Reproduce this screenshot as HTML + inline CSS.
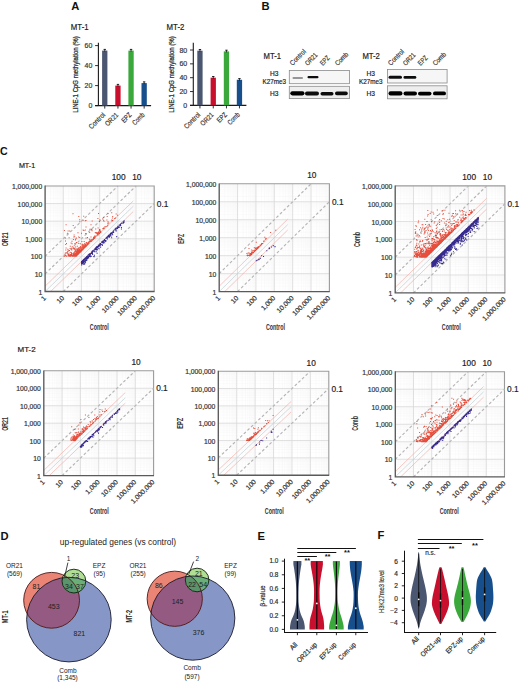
<!DOCTYPE html>
<html><head><meta charset="utf-8"><style>
html,body{margin:0;padding:0;background:#fff;width:520px;height:682px;overflow:hidden}
svg{display:block}
text{font-family:"Liberation Sans", sans-serif}
</style></head><body>
<svg width="520" height="682" viewBox="0 0 520 682">
<defs><filter id="blur" x="-20%" y="-100%" width="140%" height="300%"><feGaussianBlur stdDeviation="0.5"/></filter></defs>
<text x="71.30" y="10.20" font-size="11.2" text-anchor="start" fill="#111" font-weight="bold">A</text>
<text x="261.40" y="10.20" font-size="11.2" text-anchor="start" fill="#111" font-weight="bold">B</text>
<text x="0.00" y="154.90" font-size="10.6" text-anchor="start" fill="#111" font-weight="bold">C</text>
<text x="0.60" y="539.60" font-size="11.2" text-anchor="start" fill="#111" font-weight="bold">D</text>
<text x="257.40" y="539.60" font-size="11.2" text-anchor="start" fill="#111" font-weight="bold">E</text>
<text x="377.60" y="539.10" font-size="11.2" text-anchor="start" fill="#111" font-weight="bold">F</text>
<text x="70.80" y="30.20" font-size="8.3" text-anchor="start" fill="#1a1a1a" textLength="17.80" lengthAdjust="spacingAndGlyphs" stroke="#1a1a1a" stroke-width="0.18">MT-1</text>
<text x="78.20" y="112.80" font-size="7.0" text-anchor="start" fill="#2a2a2a" textLength="76.50" lengthAdjust="spacingAndGlyphs" transform="rotate(-90 78.20 112.80)" stroke="#2a2a2a" stroke-width="0.25">LINE-1 CpG methylation (%)</text>
<line x1="98.40" y1="42.80" x2="98.40" y2="106.10" stroke="#1a1a1a" stroke-width="1.1"/>
<line x1="95.10" y1="105.60" x2="151.10" y2="105.60" stroke="#1a1a1a" stroke-width="1.1"/>
<line x1="95.10" y1="105.60" x2="98.40" y2="105.60" stroke="#1a1a1a" stroke-width="0.9"/>
<text x="92.30" y="108.10" font-size="7.0" text-anchor="end" fill="#333" stroke="#333" stroke-width="0.18">0</text>
<line x1="95.10" y1="85.60" x2="98.40" y2="85.60" stroke="#1a1a1a" stroke-width="0.9"/>
<text x="92.30" y="88.10" font-size="7.0" text-anchor="end" fill="#333" stroke="#333" stroke-width="0.18">20</text>
<line x1="95.10" y1="65.60" x2="98.40" y2="65.60" stroke="#1a1a1a" stroke-width="0.9"/>
<text x="92.30" y="68.10" font-size="7.0" text-anchor="end" fill="#333" stroke="#333" stroke-width="0.18">40</text>
<line x1="95.10" y1="45.60" x2="98.40" y2="45.60" stroke="#1a1a1a" stroke-width="0.9"/>
<text x="92.30" y="48.10" font-size="7.0" text-anchor="end" fill="#333" stroke="#333" stroke-width="0.18">60</text>
<rect x="102.10" y="50.60" width="5.30" height="55.00" fill="#4b5670"/>
<line x1="104.75" y1="49.20" x2="104.75" y2="51.60" stroke="#111" stroke-width="0.8"/>
<line x1="103.55" y1="49.40" x2="105.95" y2="49.40" stroke="#111" stroke-width="0.9"/>
<line x1="104.75" y1="105.60" x2="104.75" y2="108.60" stroke="#1a1a1a" stroke-width="0.9"/>
<rect x="115.30" y="85.60" width="5.30" height="20.00" fill="#c80f2e"/>
<line x1="117.95" y1="84.20" x2="117.95" y2="86.60" stroke="#111" stroke-width="0.8"/>
<line x1="116.75" y1="84.40" x2="119.15" y2="84.40" stroke="#111" stroke-width="0.9"/>
<line x1="117.95" y1="105.60" x2="117.95" y2="108.60" stroke="#1a1a1a" stroke-width="0.9"/>
<rect x="128.40" y="50.60" width="5.30" height="55.00" fill="#3aa83a"/>
<line x1="131.05" y1="49.20" x2="131.05" y2="51.60" stroke="#111" stroke-width="0.8"/>
<line x1="129.85" y1="49.40" x2="132.25" y2="49.40" stroke="#111" stroke-width="0.9"/>
<line x1="131.05" y1="105.60" x2="131.05" y2="108.60" stroke="#1a1a1a" stroke-width="0.9"/>
<rect x="141.50" y="83.10" width="5.30" height="22.50" fill="#174f8c"/>
<line x1="144.15" y1="81.70" x2="144.15" y2="84.10" stroke="#111" stroke-width="0.8"/>
<line x1="142.95" y1="81.90" x2="145.35" y2="81.90" stroke="#111" stroke-width="0.9"/>
<line x1="144.15" y1="105.60" x2="144.15" y2="108.60" stroke="#1a1a1a" stroke-width="0.9"/>
<text x="105.65" y="115.40" font-size="7.0" text-anchor="end" fill="#333" textLength="20.00" lengthAdjust="spacingAndGlyphs" transform="rotate(-45 105.65 115.40)" stroke="#333" stroke-width="0.18">Control</text>
<text x="118.85" y="115.40" font-size="7.0" text-anchor="end" fill="#333" textLength="15.60" lengthAdjust="spacingAndGlyphs" transform="rotate(-45 118.85 115.40)" stroke="#333" stroke-width="0.18">OR21</text>
<text x="131.95" y="115.40" font-size="7.0" text-anchor="end" fill="#333" textLength="11.00" lengthAdjust="spacingAndGlyphs" transform="rotate(-45 131.95 115.40)" stroke="#333" stroke-width="0.18">EPZ</text>
<text x="145.05" y="115.40" font-size="7.0" text-anchor="end" fill="#333" textLength="14.20" lengthAdjust="spacingAndGlyphs" transform="rotate(-45 145.05 115.40)" stroke="#333" stroke-width="0.18">Comb</text>
<text x="166.60" y="30.20" font-size="8.3" text-anchor="start" fill="#1a1a1a" textLength="17.80" lengthAdjust="spacingAndGlyphs" stroke="#1a1a1a" stroke-width="0.18">MT-2</text>
<text x="174.20" y="112.80" font-size="7.0" text-anchor="start" fill="#2a2a2a" textLength="76.50" lengthAdjust="spacingAndGlyphs" transform="rotate(-90 174.20 112.80)" stroke="#2a2a2a" stroke-width="0.25">LINE-1 CpG methylation (%)</text>
<line x1="193.30" y1="42.80" x2="193.30" y2="105.90" stroke="#1a1a1a" stroke-width="1.1"/>
<line x1="190.00" y1="105.40" x2="246.40" y2="105.40" stroke="#1a1a1a" stroke-width="1.1"/>
<line x1="190.00" y1="105.40" x2="193.30" y2="105.40" stroke="#1a1a1a" stroke-width="0.9"/>
<text x="187.20" y="107.90" font-size="7.0" text-anchor="end" fill="#333" stroke="#333" stroke-width="0.18">0</text>
<line x1="190.00" y1="91.55" x2="193.30" y2="91.55" stroke="#1a1a1a" stroke-width="0.9"/>
<text x="187.20" y="94.05" font-size="7.0" text-anchor="end" fill="#333" stroke="#333" stroke-width="0.18">20</text>
<line x1="190.00" y1="77.70" x2="193.30" y2="77.70" stroke="#1a1a1a" stroke-width="0.9"/>
<text x="187.20" y="80.20" font-size="7.0" text-anchor="end" fill="#333" stroke="#333" stroke-width="0.18">40</text>
<line x1="190.00" y1="63.85" x2="193.30" y2="63.85" stroke="#1a1a1a" stroke-width="0.9"/>
<text x="187.20" y="66.35" font-size="7.0" text-anchor="end" fill="#333" stroke="#333" stroke-width="0.18">60</text>
<line x1="190.00" y1="50.00" x2="193.30" y2="50.00" stroke="#1a1a1a" stroke-width="0.9"/>
<text x="187.20" y="52.50" font-size="7.0" text-anchor="end" fill="#333" stroke="#333" stroke-width="0.18">80</text>
<rect x="197.30" y="50.69" width="5.30" height="54.71" fill="#4b5670"/>
<line x1="199.95" y1="49.29" x2="199.95" y2="51.69" stroke="#111" stroke-width="0.8"/>
<line x1="198.75" y1="49.49" x2="201.15" y2="49.49" stroke="#111" stroke-width="0.9"/>
<line x1="199.95" y1="105.40" x2="199.95" y2="108.40" stroke="#1a1a1a" stroke-width="0.9"/>
<rect x="210.60" y="77.70" width="5.30" height="27.70" fill="#c80f2e"/>
<line x1="213.25" y1="76.30" x2="213.25" y2="78.70" stroke="#111" stroke-width="0.8"/>
<line x1="212.05" y1="76.50" x2="214.45" y2="76.50" stroke="#111" stroke-width="0.9"/>
<line x1="213.25" y1="105.40" x2="213.25" y2="108.40" stroke="#1a1a1a" stroke-width="0.9"/>
<rect x="223.80" y="51.39" width="5.30" height="54.02" fill="#3aa83a"/>
<line x1="226.45" y1="49.99" x2="226.45" y2="52.39" stroke="#111" stroke-width="0.8"/>
<line x1="225.25" y1="50.19" x2="227.65" y2="50.19" stroke="#111" stroke-width="0.9"/>
<line x1="226.45" y1="105.40" x2="226.45" y2="108.40" stroke="#1a1a1a" stroke-width="0.9"/>
<rect x="236.80" y="79.78" width="5.30" height="25.62" fill="#174f8c"/>
<line x1="239.45" y1="78.38" x2="239.45" y2="80.78" stroke="#111" stroke-width="0.8"/>
<line x1="238.25" y1="78.58" x2="240.65" y2="78.58" stroke="#111" stroke-width="0.9"/>
<line x1="239.45" y1="105.40" x2="239.45" y2="108.40" stroke="#1a1a1a" stroke-width="0.9"/>
<text x="200.85" y="115.20" font-size="7.0" text-anchor="end" fill="#333" textLength="20.00" lengthAdjust="spacingAndGlyphs" transform="rotate(-45 200.85 115.20)" stroke="#333" stroke-width="0.18">Control</text>
<text x="214.15" y="115.20" font-size="7.0" text-anchor="end" fill="#333" textLength="15.60" lengthAdjust="spacingAndGlyphs" transform="rotate(-45 214.15 115.20)" stroke="#333" stroke-width="0.18">OR21</text>
<text x="227.35" y="115.20" font-size="7.0" text-anchor="end" fill="#333" textLength="11.00" lengthAdjust="spacingAndGlyphs" transform="rotate(-45 227.35 115.20)" stroke="#333" stroke-width="0.18">EPZ</text>
<text x="240.35" y="115.20" font-size="7.0" text-anchor="end" fill="#333" textLength="14.20" lengthAdjust="spacingAndGlyphs" transform="rotate(-45 240.35 115.20)" stroke="#333" stroke-width="0.18">Comb</text>
<text x="263.50" y="58.90" font-size="8.4" text-anchor="start" fill="#222" textLength="17.50" lengthAdjust="spacingAndGlyphs" stroke="#222" stroke-width="0.18">MT-1</text>
<text x="292.60" y="65.90" font-size="7.0" text-anchor="start" fill="#333" textLength="19.50" lengthAdjust="spacingAndGlyphs" transform="rotate(-45 292.60 65.90)" stroke="#333" stroke-width="0.18">Control</text>
<text x="307.65" y="65.90" font-size="7.0" text-anchor="start" fill="#333" textLength="14.60" lengthAdjust="spacingAndGlyphs" transform="rotate(-45 307.65 65.90)" stroke="#333" stroke-width="0.18">OR21</text>
<text x="322.70" y="65.90" font-size="7.0" text-anchor="start" fill="#333" textLength="10.60" lengthAdjust="spacingAndGlyphs" transform="rotate(-45 322.70 65.90)" stroke="#333" stroke-width="0.18">EPZ</text>
<text x="337.75" y="65.90" font-size="7.0" text-anchor="start" fill="#333" textLength="15.50" lengthAdjust="spacingAndGlyphs" transform="rotate(-45 337.75 65.90)" stroke="#333" stroke-width="0.18">Comb</text>
<text x="274.20" y="75.90" font-size="6.6" text-anchor="middle" fill="#222" stroke="#222" stroke-width="0.18">H3</text>
<text x="274.20" y="84.20" font-size="6.6" text-anchor="middle" fill="#222" textLength="23.50" lengthAdjust="spacingAndGlyphs" stroke="#222" stroke-width="0.18">K27me3</text>
<text x="274.20" y="96.00" font-size="6.6" text-anchor="middle" fill="#222" stroke="#222" stroke-width="0.18">H3</text>
<rect x="289.30" y="70.50" width="60.20" height="13.20" fill="#f6f6f6" stroke="#8a8a8a" stroke-width="0.8"/>
<rect x="289.30" y="86.30" width="60.20" height="12.30" fill="#eeeeee" stroke="#8a8a8a" stroke-width="0.8"/>
<rect x="292.50" y="77.15" width="10.50" height="1.50" rx="0.75" fill="#111" opacity="0.55" filter="url(#blur)"/>
<rect x="307.50" y="76.05" width="11.00" height="2.30" rx="1.15" fill="#111" opacity="1.0" filter="url(#blur)"/>
<rect x="290.30" y="91.20" width="14.20" height="4.20" rx="2.10" fill="#050505" opacity="1.0" filter="url(#blur)"/>
<rect x="305.00" y="91.60" width="14.00" height="3.80" rx="1.90" fill="#050505" opacity="0.95" filter="url(#blur)"/>
<rect x="320.50" y="92.00" width="13.00" height="3.40" rx="1.70" fill="#050505" opacity="0.95" filter="url(#blur)"/>
<rect x="335.00" y="91.60" width="12.80" height="3.60" rx="1.80" fill="#050505" opacity="0.95" filter="url(#blur)"/>
<text x="362.40" y="58.90" font-size="8.4" text-anchor="start" fill="#222" textLength="17.50" lengthAdjust="spacingAndGlyphs" stroke="#222" stroke-width="0.18">MT-2</text>
<text x="390.80" y="65.90" font-size="7.0" text-anchor="start" fill="#333" textLength="19.50" lengthAdjust="spacingAndGlyphs" transform="rotate(-45 390.80 65.90)" stroke="#333" stroke-width="0.18">Control</text>
<text x="405.70" y="65.90" font-size="7.0" text-anchor="start" fill="#333" textLength="14.60" lengthAdjust="spacingAndGlyphs" transform="rotate(-45 405.70 65.90)" stroke="#333" stroke-width="0.18">OR21</text>
<text x="420.60" y="65.90" font-size="7.0" text-anchor="start" fill="#333" textLength="10.60" lengthAdjust="spacingAndGlyphs" transform="rotate(-45 420.60 65.90)" stroke="#333" stroke-width="0.18">EPZ</text>
<text x="435.50" y="65.90" font-size="7.0" text-anchor="start" fill="#333" textLength="15.50" lengthAdjust="spacingAndGlyphs" transform="rotate(-45 435.50 65.90)" stroke="#333" stroke-width="0.18">Comb</text>
<text x="370.80" y="75.90" font-size="6.6" text-anchor="middle" fill="#222" stroke="#222" stroke-width="0.18">H3</text>
<text x="370.80" y="84.20" font-size="6.6" text-anchor="middle" fill="#222" textLength="23.50" lengthAdjust="spacingAndGlyphs" stroke="#222" stroke-width="0.18">K27me3</text>
<text x="370.80" y="96.00" font-size="6.6" text-anchor="middle" fill="#222" stroke="#222" stroke-width="0.18">H3</text>
<rect x="387.50" y="69.50" width="59.60" height="13.50" fill="#f6f6f6" stroke="#8a8a8a" stroke-width="0.8"/>
<rect x="387.50" y="85.80" width="59.60" height="13.00" fill="#eeeeee" stroke="#8a8a8a" stroke-width="0.8"/>
<rect x="388.50" y="75.70" width="13.50" height="3.00" rx="1.50" fill="#111" opacity="1.0" filter="url(#blur)"/>
<rect x="403.50" y="76.10" width="12.80" height="2.60" rx="1.30" fill="#111" opacity="1.0" filter="url(#blur)"/>
<rect x="388.50" y="91.30" width="14.00" height="4.20" rx="2.10" fill="#050505" opacity="1.0" filter="url(#blur)"/>
<rect x="403.50" y="91.40" width="13.50" height="4.20" rx="2.10" fill="#050505" opacity="1.0" filter="url(#blur)"/>
<rect x="418.00" y="91.70" width="13.50" height="3.80" rx="1.90" fill="#050505" opacity="1.0" filter="url(#blur)"/>
<rect x="433.00" y="91.50" width="13.00" height="3.80" rx="1.90" fill="#050505" opacity="1.0" filter="url(#blur)"/>
<text x="18.90" y="168.00" font-size="7.8" text-anchor="start" fill="#1a1a1a" textLength="16.30" lengthAdjust="spacingAndGlyphs" stroke="#1a1a1a" stroke-width="0.18">MT-1</text>
<text x="17.50" y="352.20" font-size="8.0" text-anchor="start" fill="#1a1a1a" textLength="18.20" lengthAdjust="spacingAndGlyphs" stroke="#1a1a1a" stroke-width="0.18">MT-2</text>
<path d="M50.57 186.00V291.50M45.10 286.21H154.20M53.78 186.00V291.50M45.10 283.11H154.20M56.05 186.00V291.50M45.10 280.91H154.20M57.81 186.00V291.50M45.10 279.21H154.20M59.25 186.00V291.50M45.10 277.82H154.20M60.47 186.00V291.50M45.10 276.64H154.20M61.52 186.00V291.50M45.10 275.62H154.20M62.45 186.00V291.50M45.10 274.72H154.20M68.76 186.00V291.50M45.10 268.62H154.20M71.96 186.00V291.50M45.10 265.53H154.20M74.23 186.00V291.50M45.10 263.33H154.20M75.99 186.00V291.50M45.10 261.63H154.20M77.43 186.00V291.50M45.10 260.23H154.20M78.65 186.00V291.50M45.10 259.06H154.20M79.70 186.00V291.50M45.10 258.04H154.20M80.63 186.00V291.50M45.10 257.14H154.20M86.94 186.00V291.50M45.10 251.04H154.20M90.14 186.00V291.50M45.10 247.94H154.20M92.41 186.00V291.50M45.10 245.75H154.20M94.18 186.00V291.50M45.10 244.04H154.20M95.62 186.00V291.50M45.10 242.65H154.20M96.83 186.00V291.50M45.10 241.47H154.20M97.89 186.00V291.50M45.10 240.45H154.20M98.82 186.00V291.50M45.10 239.55H154.20M105.12 186.00V291.50M45.10 233.46H154.20M108.33 186.00V291.50M45.10 230.36H154.20M110.60 186.00V291.50M45.10 228.16H154.20M112.36 186.00V291.50M45.10 226.46H154.20M113.80 186.00V291.50M45.10 225.07H154.20M115.02 186.00V291.50M45.10 223.89H154.20M116.07 186.00V291.50M45.10 222.87H154.20M117.00 186.00V291.50M45.10 221.97H154.20M123.31 186.00V291.50M45.10 215.87H154.20M126.51 186.00V291.50M45.10 212.78H154.20M128.78 186.00V291.50M45.10 210.58H154.20M130.54 186.00V291.50M45.10 208.88H154.20M131.98 186.00V291.50M45.10 207.48H154.20M133.20 186.00V291.50M45.10 206.31H154.20M134.25 186.00V291.50M45.10 205.29H154.20M135.18 186.00V291.50M45.10 204.39H154.20M141.49 186.00V291.50M45.10 198.29H154.20M144.69 186.00V291.50M45.10 195.19H154.20M146.96 186.00V291.50M45.10 193.00H154.20M148.73 186.00V291.50M45.10 191.29H154.20M150.17 186.00V291.50M45.10 189.90H154.20M151.38 186.00V291.50M45.10 188.72H154.20M152.44 186.00V291.50M45.10 187.70H154.20M153.37 186.00V291.50M45.10 186.80H154.20" stroke="#f6f6f6" stroke-width="0.4" fill="none"/>
<path d="M63.28 186.00V291.50M45.10 273.92H154.20M81.47 186.00V291.50M45.10 256.33H154.20M99.65 186.00V291.50M45.10 238.75H154.20M117.83 186.00V291.50M45.10 221.17H154.20M136.02 186.00V291.50M45.10 203.58H154.20" stroke="#d8d8d8" stroke-width="0.8" fill="none"/>
<path d="M45.10 186.00H154.20V291.50" stroke="#9a9a9a" stroke-width="1.1" fill="none"/>
<line x1="45.10" y1="286.21" x2="133.29" y2="200.93" stroke="#f2aca4" stroke-width="0.65"/>
<line x1="50.57" y1="291.50" x2="133.29" y2="211.51" stroke="#f2aca4" stroke-width="0.65"/>
<line x1="45.10" y1="291.50" x2="133.29" y2="206.22" stroke="#b8c8cc" stroke-width="0.6"/>
<line x1="45.10" y1="256.33" x2="117.83" y2="186.00" stroke="#b4b4b4" stroke-width="1.15" stroke-dasharray="2.8 2.2"/>
<line x1="45.10" y1="273.92" x2="136.02" y2="186.00" stroke="#b4b4b4" stroke-width="1.15" stroke-dasharray="2.8 2.2"/>
<line x1="63.28" y1="291.50" x2="154.20" y2="203.58" stroke="#b4b4b4" stroke-width="1.15" stroke-dasharray="2.8 2.2"/>
<path d="M78.1 251.1h1.0v1.0h-1.0zM69.0 254.8h1.0v1.0h-1.0zM76.6 254.2h1.0v1.0h-1.0zM77.0 252.8h1.0v1.0h-1.0zM73.7 254.7h1.0v1.0h-1.0zM69.8 245.7h1.0v1.0h-1.0zM86.6 244.1h1.0v1.0h-1.0zM79.5 250.2h1.0v1.0h-1.0zM80.7 248.3h1.0v1.0h-1.0zM72.4 255.3h1.0v1.0h-1.0zM72.4 252.9h1.0v1.0h-1.0zM76.3 252.7h1.0v1.0h-1.0zM80.6 250.6h1.0v1.0h-1.0zM77.8 252.9h1.0v1.0h-1.0zM77.0 248.5h1.0v1.0h-1.0zM74.9 255.8h1.0v1.0h-1.0zM72.6 247.9h1.0v1.0h-1.0zM75.1 255.7h1.0v1.0h-1.0zM78.8 250.9h1.0v1.0h-1.0zM77.0 254.3h1.0v1.0h-1.0zM83.2 247.6h1.0v1.0h-1.0zM76.6 254.6h1.0v1.0h-1.0zM92.8 239.0h1.0v1.0h-1.0zM76.4 254.7h1.0v1.0h-1.0zM74.0 254.7h1.0v1.0h-1.0zM114.2 217.9h1.0v1.0h-1.0zM84.3 246.0h1.0v1.0h-1.0zM75.5 251.7h1.0v1.0h-1.0zM106.8 225.4h1.0v1.0h-1.0zM85.8 245.7h1.0v1.0h-1.0zM85.6 233.0h1.0v1.0h-1.0zM74.2 236.3h1.0v1.0h-1.0zM70.3 255.2h1.0v1.0h-1.0zM90.7 239.5h1.0v1.0h-1.0zM100.1 231.9h1.0v1.0h-1.0zM78.7 249.3h1.0v1.0h-1.0zM78.9 252.3h1.0v1.0h-1.0zM90.8 239.6h1.0v1.0h-1.0zM73.6 253.5h1.0v1.0h-1.0zM76.2 255.0h1.0v1.0h-1.0zM84.6 246.6h1.0v1.0h-1.0zM79.4 251.4h1.0v1.0h-1.0zM96.9 233.3h1.0v1.0h-1.0zM76.3 254.6h1.0v1.0h-1.0zM84.8 220.3h1.0v1.0h-1.0zM77.1 252.7h1.0v1.0h-1.0zM78.2 253.1h1.0v1.0h-1.0zM73.6 234.6h1.0v1.0h-1.0zM68.2 253.4h1.0v1.0h-1.0zM75.7 253.2h1.0v1.0h-1.0zM76.1 250.9h1.0v1.0h-1.0zM73.2 254.7h1.0v1.0h-1.0zM88.7 242.6h1.0v1.0h-1.0zM74.9 249.5h1.0v1.0h-1.0zM83.6 245.5h1.0v1.0h-1.0zM73.8 255.6h1.0v1.0h-1.0zM74.6 255.1h1.0v1.0h-1.0zM83.4 230.1h1.0v1.0h-1.0zM94.8 232.1h1.0v1.0h-1.0zM69.6 251.7h1.0v1.0h-1.0zM71.0 255.3h1.0v1.0h-1.0zM85.2 232.9h1.0v1.0h-1.0zM75.4 248.3h1.0v1.0h-1.0zM79.3 251.1h1.0v1.0h-1.0zM90.6 228.7h1.0v1.0h-1.0zM66.0 255.5h1.0v1.0h-1.0zM75.0 255.4h1.0v1.0h-1.0zM74.3 249.0h1.0v1.0h-1.0zM89.9 240.4h1.0v1.0h-1.0zM79.6 251.4h1.0v1.0h-1.0zM87.2 243.2h1.0v1.0h-1.0zM74.5 254.8h1.0v1.0h-1.0zM63.9 255.8h1.0v1.0h-1.0zM74.7 253.8h1.0v1.0h-1.0zM82.3 244.9h1.0v1.0h-1.0zM72.1 254.7h1.0v1.0h-1.0zM78.3 248.7h1.0v1.0h-1.0zM117.1 214.7h1.0v1.0h-1.0zM77.2 252.1h1.0v1.0h-1.0zM75.1 255.5h1.0v1.0h-1.0zM93.0 238.2h1.0v1.0h-1.0zM76.1 254.6h1.0v1.0h-1.0zM103.1 219.7h1.0v1.0h-1.0zM102.2 218.4h1.0v1.0h-1.0zM79.6 251.0h1.0v1.0h-1.0zM74.7 255.0h1.0v1.0h-1.0zM99.3 219.6h1.0v1.0h-1.0zM103.1 227.5h1.0v1.0h-1.0zM76.0 241.9h1.0v1.0h-1.0zM74.4 254.3h1.0v1.0h-1.0zM70.7 252.1h1.0v1.0h-1.0zM78.2 252.5h1.0v1.0h-1.0zM69.1 255.1h1.0v1.0h-1.0zM77.0 253.9h1.0v1.0h-1.0zM81.6 249.8h1.0v1.0h-1.0zM77.1 250.7h1.0v1.0h-1.0zM82.3 247.1h1.0v1.0h-1.0zM91.2 229.0h1.0v1.0h-1.0zM78.0 253.1h1.0v1.0h-1.0zM94.3 236.6h1.0v1.0h-1.0zM76.4 252.2h1.0v1.0h-1.0zM75.3 253.2h1.0v1.0h-1.0zM70.2 255.8h1.0v1.0h-1.0zM81.2 248.6h1.0v1.0h-1.0zM75.5 255.8h1.0v1.0h-1.0zM80.3 251.2h1.0v1.0h-1.0zM84.6 245.6h1.0v1.0h-1.0zM98.4 231.1h1.0v1.0h-1.0zM79.5 252.0h1.0v1.0h-1.0zM82.1 247.2h1.0v1.0h-1.0zM86.6 242.6h1.0v1.0h-1.0zM106.7 215.9h1.0v1.0h-1.0zM81.4 248.5h1.0v1.0h-1.0zM66.9 232.8h1.0v1.0h-1.0zM111.3 219.5h1.0v1.0h-1.0zM79.0 249.9h1.0v1.0h-1.0zM76.3 248.7h1.0v1.0h-1.0zM69.2 255.7h1.0v1.0h-1.0zM76.4 250.0h1.0v1.0h-1.0zM79.2 249.8h1.0v1.0h-1.0zM78.1 253.3h1.0v1.0h-1.0zM72.8 255.7h1.0v1.0h-1.0zM104.4 226.5h1.0v1.0h-1.0zM87.9 242.1h1.0v1.0h-1.0zM74.0 255.6h1.0v1.0h-1.0zM73.8 254.2h1.0v1.0h-1.0zM80.1 251.1h1.0v1.0h-1.0zM75.5 252.8h1.0v1.0h-1.0zM84.8 229.5h1.0v1.0h-1.0zM88.6 242.0h1.0v1.0h-1.0zM79.3 221.3h1.0v1.0h-1.0zM74.3 253.6h1.0v1.0h-1.0zM75.3 242.8h1.0v1.0h-1.0zM76.4 254.3h1.0v1.0h-1.0zM87.5 242.4h1.0v1.0h-1.0zM77.5 250.4h1.0v1.0h-1.0zM69.0 250.1h1.0v1.0h-1.0zM77.1 251.9h1.0v1.0h-1.0zM107.3 222.8h1.0v1.0h-1.0zM79.3 251.8h1.0v1.0h-1.0zM65.2 243.9h1.0v1.0h-1.0zM79.3 249.8h1.0v1.0h-1.0zM81.4 241.1h1.0v1.0h-1.0zM85.3 245.8h1.0v1.0h-1.0zM77.7 247.8h1.0v1.0h-1.0zM75.9 253.8h1.0v1.0h-1.0zM89.7 240.3h1.0v1.0h-1.0zM64.9 255.0h1.0v1.0h-1.0zM74.2 243.2h1.0v1.0h-1.0zM73.8 248.3h1.0v1.0h-1.0zM73.1 255.5h1.0v1.0h-1.0zM115.1 217.4h1.0v1.0h-1.0zM72.5 213.2h1.0v1.0h-1.0zM75.6 255.1h1.0v1.0h-1.0zM76.0 254.9h1.0v1.0h-1.0zM72.4 255.6h1.0v1.0h-1.0zM79.2 251.0h1.0v1.0h-1.0zM95.2 228.5h1.0v1.0h-1.0zM77.5 253.5h1.0v1.0h-1.0zM86.9 243.7h1.0v1.0h-1.0zM77.0 253.2h1.0v1.0h-1.0zM75.5 255.8h1.0v1.0h-1.0zM81.4 249.8h1.0v1.0h-1.0zM112.2 215.9h1.0v1.0h-1.0zM72.7 253.9h1.0v1.0h-1.0zM98.9 229.1h1.0v1.0h-1.0zM75.1 255.2h1.0v1.0h-1.0zM91.7 220.5h1.0v1.0h-1.0zM103.5 220.8h1.0v1.0h-1.0zM82.3 248.3h1.0v1.0h-1.0zM76.1 251.9h1.0v1.0h-1.0zM69.7 255.8h1.0v1.0h-1.0zM64.9 237.6h1.0v1.0h-1.0zM98.5 232.0h1.0v1.0h-1.0zM67.3 248.7h1.0v1.0h-1.0zM84.1 243.4h1.0v1.0h-1.0zM65.0 240.5h1.0v1.0h-1.0zM76.5 254.5h1.0v1.0h-1.0zM90.5 236.6h1.0v1.0h-1.0zM77.8 250.2h1.0v1.0h-1.0zM85.0 246.1h1.0v1.0h-1.0zM78.0 253.0h1.0v1.0h-1.0zM82.3 249.1h1.0v1.0h-1.0zM90.7 240.9h1.0v1.0h-1.0zM65.7 255.8h1.0v1.0h-1.0zM77.7 252.3h1.0v1.0h-1.0zM83.2 215.7h1.0v1.0h-1.0zM98.0 213.1h1.0v1.0h-1.0zM88.2 241.6h1.0v1.0h-1.0zM78.5 252.7h1.0v1.0h-1.0zM76.9 253.3h1.0v1.0h-1.0zM78.3 215.9h1.0v1.0h-1.0zM74.9 239.6h1.0v1.0h-1.0zM75.5 255.2h1.0v1.0h-1.0zM67.8 254.5h1.0v1.0h-1.0zM72.0 255.4h1.0v1.0h-1.0zM78.4 252.6h1.0v1.0h-1.0zM72.7 255.2h1.0v1.0h-1.0zM78.5 251.8h1.0v1.0h-1.0zM75.7 255.5h1.0v1.0h-1.0zM87.0 244.4h1.0v1.0h-1.0zM76.2 254.0h1.0v1.0h-1.0zM77.0 252.9h1.0v1.0h-1.0zM76.1 254.4h1.0v1.0h-1.0zM75.2 255.4h1.0v1.0h-1.0zM76.8 254.5h1.0v1.0h-1.0zM77.4 253.6h1.0v1.0h-1.0zM74.3 255.6h1.0v1.0h-1.0zM79.9 243.2h1.0v1.0h-1.0zM75.0 255.5h1.0v1.0h-1.0zM87.3 242.8h1.0v1.0h-1.0zM94.8 235.9h1.0v1.0h-1.0zM76.6 254.3h1.0v1.0h-1.0zM72.5 255.7h1.0v1.0h-1.0zM94.9 232.3h1.0v1.0h-1.0zM72.8 254.2h1.0v1.0h-1.0zM67.6 230.5h1.0v1.0h-1.0zM100.3 231.6h1.0v1.0h-1.0zM74.2 254.6h1.0v1.0h-1.0zM78.1 252.2h1.0v1.0h-1.0zM79.6 247.0h1.0v1.0h-1.0zM75.2 253.1h1.0v1.0h-1.0zM67.1 250.8h1.0v1.0h-1.0zM75.4 254.3h1.0v1.0h-1.0zM64.8 252.6h1.0v1.0h-1.0zM81.2 248.4h1.0v1.0h-1.0zM76.0 254.4h1.0v1.0h-1.0zM73.6 255.1h1.0v1.0h-1.0zM67.2 253.3h1.0v1.0h-1.0zM87.7 243.8h1.0v1.0h-1.0zM77.0 253.0h1.0v1.0h-1.0zM76.1 252.9h1.0v1.0h-1.0zM93.0 238.3h1.0v1.0h-1.0zM71.8 246.2h1.0v1.0h-1.0zM83.7 240.9h1.0v1.0h-1.0zM97.5 232.6h1.0v1.0h-1.0zM73.6 254.2h1.0v1.0h-1.0zM67.6 253.8h1.0v1.0h-1.0zM79.2 251.8h1.0v1.0h-1.0zM81.5 244.5h1.0v1.0h-1.0zM79.2 251.3h1.0v1.0h-1.0zM86.4 244.2h1.0v1.0h-1.0zM74.1 254.4h1.0v1.0h-1.0zM84.2 243.3h1.0v1.0h-1.0zM80.3 251.0h1.0v1.0h-1.0zM75.5 255.4h1.0v1.0h-1.0zM89.3 240.3h1.0v1.0h-1.0zM112.2 220.1h1.0v1.0h-1.0zM73.3 254.9h1.0v1.0h-1.0zM76.3 254.0h1.0v1.0h-1.0zM79.4 250.9h1.0v1.0h-1.0zM75.5 254.0h1.0v1.0h-1.0zM76.8 253.4h1.0v1.0h-1.0zM77.6 253.7h1.0v1.0h-1.0zM78.3 243.1h1.0v1.0h-1.0zM103.5 228.2h1.0v1.0h-1.0zM77.0 249.5h1.0v1.0h-1.0zM102.9 228.3h1.0v1.0h-1.0zM75.3 253.6h1.0v1.0h-1.0zM79.0 251.1h1.0v1.0h-1.0zM90.7 239.3h1.0v1.0h-1.0zM75.3 252.2h1.0v1.0h-1.0zM78.1 252.8h1.0v1.0h-1.0zM77.1 253.9h1.0v1.0h-1.0zM85.9 245.6h1.0v1.0h-1.0zM71.1 254.1h1.0v1.0h-1.0zM79.0 251.7h1.0v1.0h-1.0zM80.7 249.8h1.0v1.0h-1.0zM82.7 248.4h1.0v1.0h-1.0zM75.8 254.3h1.0v1.0h-1.0zM83.5 247.6h1.0v1.0h-1.0zM78.3 253.0h1.0v1.0h-1.0zM92.8 238.0h1.0v1.0h-1.0zM76.3 253.4h1.0v1.0h-1.0zM86.3 243.0h1.0v1.0h-1.0zM85.9 244.9h1.0v1.0h-1.0zM72.5 255.7h1.0v1.0h-1.0zM74.4 250.8h1.0v1.0h-1.0zM93.8 238.0h1.0v1.0h-1.0zM78.4 251.2h1.0v1.0h-1.0zM82.3 249.2h1.0v1.0h-1.0zM81.2 249.8h1.0v1.0h-1.0zM80.2 248.4h1.0v1.0h-1.0zM83.7 246.2h1.0v1.0h-1.0zM90.4 239.6h1.0v1.0h-1.0zM80.6 247.2h1.0v1.0h-1.0zM68.6 237.2h1.0v1.0h-1.0zM86.9 237.0h1.0v1.0h-1.0zM74.8 250.3h1.0v1.0h-1.0zM66.6 252.2h1.0v1.0h-1.0zM70.8 251.9h1.0v1.0h-1.0zM76.1 255.2h1.0v1.0h-1.0zM99.4 229.1h1.0v1.0h-1.0zM98.8 230.2h1.0v1.0h-1.0zM84.7 246.5h1.0v1.0h-1.0zM75.5 255.8h1.0v1.0h-1.0zM72.6 255.6h1.0v1.0h-1.0zM85.0 246.2h1.0v1.0h-1.0zM74.7 254.9h1.0v1.0h-1.0zM77.5 232.3h1.0v1.0h-1.0zM83.1 244.3h1.0v1.0h-1.0zM87.5 243.6h1.0v1.0h-1.0zM73.3 255.7h1.0v1.0h-1.0zM77.5 249.3h1.0v1.0h-1.0zM76.4 254.8h1.0v1.0h-1.0zM92.0 239.4h1.0v1.0h-1.0zM73.9 254.8h1.0v1.0h-1.0zM71.8 255.8h1.0v1.0h-1.0zM99.7 232.0h1.0v1.0h-1.0zM65.3 249.4h1.0v1.0h-1.0zM77.8 252.8h1.0v1.0h-1.0zM97.7 232.0h1.0v1.0h-1.0zM79.3 250.0h1.0v1.0h-1.0zM94.0 236.8h1.0v1.0h-1.0zM82.2 245.9h1.0v1.0h-1.0zM72.9 248.2h1.0v1.0h-1.0zM78.1 236.6h1.0v1.0h-1.0zM86.0 244.9h1.0v1.0h-1.0zM85.0 243.9h1.0v1.0h-1.0zM69.6 247.9h1.0v1.0h-1.0zM67.8 255.6h1.0v1.0h-1.0zM76.3 254.4h1.0v1.0h-1.0zM76.6 252.9h1.0v1.0h-1.0zM88.8 241.0h1.0v1.0h-1.0zM69.9 253.9h1.0v1.0h-1.0zM96.5 232.6h1.0v1.0h-1.0zM68.1 255.6h1.0v1.0h-1.0zM91.5 230.3h1.0v1.0h-1.0zM73.2 255.6h1.0v1.0h-1.0zM98.9 220.9h1.0v1.0h-1.0zM75.4 255.8h1.0v1.0h-1.0zM82.3 247.9h1.0v1.0h-1.0zM78.2 249.9h1.0v1.0h-1.0zM78.6 251.7h1.0v1.0h-1.0zM69.4 254.8h1.0v1.0h-1.0zM78.8 251.8h1.0v1.0h-1.0zM96.8 233.9h1.0v1.0h-1.0zM82.0 243.8h1.0v1.0h-1.0zM85.6 244.7h1.0v1.0h-1.0zM74.5 254.6h1.0v1.0h-1.0zM78.1 253.2h1.0v1.0h-1.0zM75.2 254.0h1.0v1.0h-1.0zM76.4 254.3h1.0v1.0h-1.0zM78.9 249.0h1.0v1.0h-1.0zM97.4 217.9h1.0v1.0h-1.0zM75.3 253.5h1.0v1.0h-1.0zM80.4 250.9h1.0v1.0h-1.0zM76.3 254.4h1.0v1.0h-1.0zM73.6 255.5h1.0v1.0h-1.0zM90.5 224.3h1.0v1.0h-1.0zM68.2 254.0h1.0v1.0h-1.0zM80.0 249.7h1.0v1.0h-1.0zM81.3 246.5h1.0v1.0h-1.0zM82.9 245.4h1.0v1.0h-1.0zM77.8 253.4h1.0v1.0h-1.0zM79.1 250.8h1.0v1.0h-1.0zM72.9 254.8h1.0v1.0h-1.0zM76.9 254.2h1.0v1.0h-1.0zM80.6 249.9h1.0v1.0h-1.0zM99.1 230.0h1.0v1.0h-1.0zM74.9 255.7h1.0v1.0h-1.0zM80.3 249.8h1.0v1.0h-1.0zM80.7 250.7h1.0v1.0h-1.0zM85.1 245.6h1.0v1.0h-1.0zM87.1 237.2h1.0v1.0h-1.0zM76.3 254.4h1.0v1.0h-1.0zM68.6 253.5h1.0v1.0h-1.0zM77.4 252.3h1.0v1.0h-1.0zM98.4 232.6h1.0v1.0h-1.0zM72.9 246.7h1.0v1.0h-1.0zM111.9 217.4h1.0v1.0h-1.0zM82.0 248.9h1.0v1.0h-1.0zM104.1 226.4h1.0v1.0h-1.0zM73.6 252.1h1.0v1.0h-1.0zM74.0 247.8h1.0v1.0h-1.0zM108.3 222.6h1.0v1.0h-1.0zM69.2 230.6h1.0v1.0h-1.0zM75.6 255.0h1.0v1.0h-1.0zM84.5 244.5h1.0v1.0h-1.0zM79.2 237.0h1.0v1.0h-1.0zM68.9 255.6h1.0v1.0h-1.0zM72.9 238.9h1.0v1.0h-1.0zM63.9 230.1h1.0v1.0h-1.0zM65.6 224.2h1.0v1.0h-1.0zM103.6 228.0h1.0v1.0h-1.0zM89.9 240.7h1.0v1.0h-1.0zM77.5 250.6h1.0v1.0h-1.0zM102.2 228.3h1.0v1.0h-1.0zM85.5 220.1h1.0v1.0h-1.0zM74.9 254.2h1.0v1.0h-1.0zM77.7 253.7h1.0v1.0h-1.0zM91.2 240.3h1.0v1.0h-1.0zM77.7 251.3h1.0v1.0h-1.0zM76.8 253.9h1.0v1.0h-1.0zM76.0 248.7h1.0v1.0h-1.0zM73.2 255.4h1.0v1.0h-1.0zM76.3 252.8h1.0v1.0h-1.0zM80.3 250.9h1.0v1.0h-1.0zM76.9 252.7h1.0v1.0h-1.0zM92.1 239.5h1.0v1.0h-1.0zM78.0 253.1h1.0v1.0h-1.0zM97.9 232.7h1.0v1.0h-1.0zM72.9 254.1h1.0v1.0h-1.0zM83.3 247.3h1.0v1.0h-1.0zM85.4 244.6h1.0v1.0h-1.0zM84.4 246.7h1.0v1.0h-1.0zM89.8 241.1h1.0v1.0h-1.0zM71.1 248.4h1.0v1.0h-1.0zM103.2 217.0h1.0v1.0h-1.0zM99.1 232.9h1.0v1.0h-1.0zM64.6 253.7h1.0v1.0h-1.0zM89.0 238.8h1.0v1.0h-1.0zM79.2 219.3h1.0v1.0h-1.0zM68.3 255.6h1.0v1.0h-1.0zM84.0 247.2h1.0v1.0h-1.0zM80.4 251.0h1.0v1.0h-1.0zM85.5 226.5h1.0v1.0h-1.0zM85.5 237.5h1.0v1.0h-1.0zM74.6 253.7h1.0v1.0h-1.0zM78.6 252.6h1.0v1.0h-1.0zM73.1 252.8h1.0v1.0h-1.0zM97.4 234.5h1.0v1.0h-1.0zM73.9 251.7h1.0v1.0h-1.0zM99.8 231.1h1.0v1.0h-1.0zM96.3 235.3h1.0v1.0h-1.0zM82.2 247.0h1.0v1.0h-1.0zM77.0 254.1h1.0v1.0h-1.0zM79.9 250.7h1.0v1.0h-1.0zM76.7 254.6h1.0v1.0h-1.0zM69.9 255.7h1.0v1.0h-1.0zM88.2 241.8h1.0v1.0h-1.0zM75.3 255.3h1.0v1.0h-1.0zM71.0 255.0h1.0v1.0h-1.0zM67.5 255.4h1.0v1.0h-1.0zM97.6 234.4h1.0v1.0h-1.0zM77.1 253.0h1.0v1.0h-1.0zM111.5 220.6h1.0v1.0h-1.0zM75.4 250.7h1.0v1.0h-1.0zM89.2 232.0h1.0v1.0h-1.0zM76.3 254.2h1.0v1.0h-1.0zM105.5 226.0h1.0v1.0h-1.0zM83.2 248.0h1.0v1.0h-1.0zM78.3 248.2h1.0v1.0h-1.0zM88.0 242.2h1.0v1.0h-1.0zM75.3 238.6h1.0v1.0h-1.0zM74.8 254.5h1.0v1.0h-1.0zM76.8 250.8h1.0v1.0h-1.0zM107.5 212.9h1.0v1.0h-1.0zM75.3 255.6h1.0v1.0h-1.0zM74.7 252.9h1.0v1.0h-1.0zM100.1 230.5h1.0v1.0h-1.0zM115.7 213.6h1.0v1.0h-1.0zM82.7 219.8h1.0v1.0h-1.0zM83.0 248.3h1.0v1.0h-1.0zM79.0 249.3h1.0v1.0h-1.0zM75.9 253.8h1.0v1.0h-1.0zM95.9 232.7h1.0v1.0h-1.0zM72.0 255.0h1.0v1.0h-1.0zM82.8 248.4h1.0v1.0h-1.0zM106.4 219.4h1.0v1.0h-1.0zM69.1 254.8h1.0v1.0h-1.0zM80.7 249.3h1.0v1.0h-1.0zM79.1 250.9h1.0v1.0h-1.0zM111.2 212.3h1.0v1.0h-1.0zM75.3 254.1h1.0v1.0h-1.0zM74.5 254.4h1.0v1.0h-1.0zM79.0 251.3h1.0v1.0h-1.0zM87.0 243.0h1.0v1.0h-1.0zM76.5 254.3h1.0v1.0h-1.0zM75.3 255.8h1.0v1.0h-1.0zM79.3 251.4h1.0v1.0h-1.0zM65.6 252.5h1.0v1.0h-1.0zM74.0 255.2h1.0v1.0h-1.0zM93.7 237.3h1.0v1.0h-1.0zM75.8 255.6h1.0v1.0h-1.0zM87.0 243.6h1.0v1.0h-1.0zM70.6 242.6h1.0v1.0h-1.0zM71.0 252.9h1.0v1.0h-1.0zM76.7 250.5h1.0v1.0h-1.0zM74.3 253.1h1.0v1.0h-1.0zM76.1 253.6h1.0v1.0h-1.0zM77.2 251.2h1.0v1.0h-1.0zM65.6 247.5h1.0v1.0h-1.0zM71.6 243.2h1.0v1.0h-1.0zM75.4 254.6h1.0v1.0h-1.0zM79.1 250.7h1.0v1.0h-1.0zM107.5 221.3h1.0v1.0h-1.0zM75.1 246.4h1.0v1.0h-1.0zM88.1 242.8h1.0v1.0h-1.0zM94.5 235.2h1.0v1.0h-1.0zM75.0 255.4h1.0v1.0h-1.0zM81.0 232.7h1.0v1.0h-1.0zM85.3 245.8h1.0v1.0h-1.0zM87.2 243.5h1.0v1.0h-1.0zM83.7 245.2h1.0v1.0h-1.0zM107.4 224.6h1.0v1.0h-1.0zM80.3 250.8h1.0v1.0h-1.0zM85.9 241.9h1.0v1.0h-1.0zM74.3 253.0h1.0v1.0h-1.0zM75.4 255.7h1.0v1.0h-1.0zM71.5 240.7h1.0v1.0h-1.0zM78.3 251.6h1.0v1.0h-1.0zM79.6 251.8h1.0v1.0h-1.0zM79.1 248.4h1.0v1.0h-1.0zM72.7 224.9h1.0v1.0h-1.0zM98.3 233.4h1.0v1.0h-1.0zM82.6 229.4h1.0v1.0h-1.0zM76.8 245.8h1.0v1.0h-1.0zM92.2 239.1h1.0v1.0h-1.0zM74.1 255.8h1.0v1.0h-1.0zM79.8 248.3h1.0v1.0h-1.0zM78.6 251.0h1.0v1.0h-1.0zM78.0 252.6h1.0v1.0h-1.0zM70.5 254.2h1.0v1.0h-1.0zM75.4 253.3h1.0v1.0h-1.0zM82.6 246.5h1.0v1.0h-1.0zM66.0 242.9h1.0v1.0h-1.0zM94.5 237.2h1.0v1.0h-1.0zM82.4 246.2h1.0v1.0h-1.0zM93.6 236.3h1.0v1.0h-1.0zM85.4 245.6h1.0v1.0h-1.0zM84.3 246.3h1.0v1.0h-1.0zM79.1 248.9h1.0v1.0h-1.0zM78.7 251.6h1.0v1.0h-1.0zM77.9 253.0h1.0v1.0h-1.0zM94.1 236.2h1.0v1.0h-1.0zM72.2 254.9h1.0v1.0h-1.0zM81.4 249.0h1.0v1.0h-1.0zM96.2 232.1h1.0v1.0h-1.0zM69.8 255.8h1.0v1.0h-1.0zM81.1 250.2h1.0v1.0h-1.0zM76.2 254.1h1.0v1.0h-1.0zM72.8 255.7h1.0v1.0h-1.0zM78.5 247.3h1.0v1.0h-1.0zM76.2 252.2h1.0v1.0h-1.0zM82.7 248.5h1.0v1.0h-1.0zM84.6 242.7h1.0v1.0h-1.0zM74.9 255.2h1.0v1.0h-1.0zM79.9 246.1h1.0v1.0h-1.0zM81.3 249.2h1.0v1.0h-1.0zM75.5 255.3h1.0v1.0h-1.0zM93.3 238.1h1.0v1.0h-1.0zM93.0 237.0h1.0v1.0h-1.0zM81.4 249.7h1.0v1.0h-1.0zM90.7 239.0h1.0v1.0h-1.0zM73.2 254.6h1.0v1.0h-1.0zM68.1 249.8h1.0v1.0h-1.0zM71.3 249.5h1.0v1.0h-1.0zM69.0 254.9h1.0v1.0h-1.0zM73.3 236.5h1.0v1.0h-1.0zM91.3 229.2h1.0v1.0h-1.0zM97.6 227.5h1.0v1.0h-1.0zM75.5 255.4h1.0v1.0h-1.0zM75.0 254.2h1.0v1.0h-1.0zM74.4 255.3h1.0v1.0h-1.0zM72.8 255.4h1.0v1.0h-1.0zM84.1 246.9h1.0v1.0h-1.0zM100.3 231.7h1.0v1.0h-1.0zM88.7 242.3h1.0v1.0h-1.0zM79.0 251.3h1.0v1.0h-1.0zM79.6 251.9h1.0v1.0h-1.0zM76.5 251.0h1.0v1.0h-1.0zM89.4 228.7h1.0v1.0h-1.0zM75.9 237.5h1.0v1.0h-1.0zM75.4 251.6h1.0v1.0h-1.0zM76.7 254.3h1.0v1.0h-1.0zM65.6 255.8h1.0v1.0h-1.0zM68.3 255.0h1.0v1.0h-1.0zM73.4 254.1h1.0v1.0h-1.0z" fill="#e2301c" fill-opacity="0.85"/>
<path d="M115.4 230.2h1.05v1.05h-1.05zM122.6 222.7h1.05v1.05h-1.05zM104.7 239.8h1.05v1.05h-1.05zM112.0 232.2h1.05v1.05h-1.05zM81.1 264.2h1.05v1.05h-1.05zM83.2 259.0h1.05v1.05h-1.05zM110.6 235.5h1.05v1.05h-1.05zM81.0 261.2h1.05v1.05h-1.05zM93.9 254.7h1.05v1.05h-1.05zM82.4 260.7h1.05v1.05h-1.05zM91.2 251.6h1.05v1.05h-1.05zM118.8 224.6h1.05v1.05h-1.05zM116.9 228.0h1.05v1.05h-1.05zM92.0 252.2h1.05v1.05h-1.05zM81.0 261.7h1.05v1.05h-1.05zM95.4 247.1h1.05v1.05h-1.05zM113.1 231.5h1.05v1.05h-1.05zM89.7 256.3h1.05v1.05h-1.05zM85.1 260.6h1.05v1.05h-1.05zM111.6 232.3h1.05v1.05h-1.05zM94.7 248.1h1.05v1.05h-1.05zM99.2 244.7h1.05v1.05h-1.05zM110.0 233.9h1.05v1.05h-1.05zM81.8 260.7h1.05v1.05h-1.05zM83.1 261.7h1.05v1.05h-1.05zM87.3 256.5h1.05v1.05h-1.05zM83.0 260.5h1.05v1.05h-1.05zM118.9 226.6h1.05v1.05h-1.05zM113.4 229.7h1.05v1.05h-1.05zM83.6 259.4h1.05v1.05h-1.05zM82.1 260.3h1.05v1.05h-1.05zM92.4 250.2h1.05v1.05h-1.05zM82.7 261.0h1.05v1.05h-1.05zM95.6 247.2h1.05v1.05h-1.05zM81.3 261.1h1.05v1.05h-1.05zM91.4 252.4h1.05v1.05h-1.05zM109.2 235.8h1.05v1.05h-1.05zM115.0 228.3h1.05v1.05h-1.05zM97.0 245.9h1.05v1.05h-1.05zM112.4 231.5h1.05v1.05h-1.05zM95.9 248.4h1.05v1.05h-1.05zM84.7 257.9h1.05v1.05h-1.05zM88.0 256.4h1.05v1.05h-1.05zM90.1 253.3h1.05v1.05h-1.05zM102.0 241.9h1.05v1.05h-1.05zM96.6 246.9h1.05v1.05h-1.05zM84.4 259.8h1.05v1.05h-1.05zM83.3 259.9h1.05v1.05h-1.05zM81.3 262.3h1.05v1.05h-1.05zM81.1 261.6h1.05v1.05h-1.05zM89.1 254.4h1.05v1.05h-1.05zM106.8 236.4h1.05v1.05h-1.05zM113.1 231.9h1.05v1.05h-1.05zM84.5 258.8h1.05v1.05h-1.05zM82.0 260.7h1.05v1.05h-1.05zM102.7 242.1h1.05v1.05h-1.05zM91.3 253.0h1.05v1.05h-1.05zM98.2 245.2h1.05v1.05h-1.05zM82.7 262.2h1.05v1.05h-1.05zM83.4 259.3h1.05v1.05h-1.05zM86.4 258.1h1.05v1.05h-1.05zM104.1 242.3h1.05v1.05h-1.05zM95.7 247.7h1.05v1.05h-1.05zM89.1 253.5h1.05v1.05h-1.05zM99.9 243.4h1.05v1.05h-1.05zM101.7 244.3h1.05v1.05h-1.05zM102.5 241.8h1.05v1.05h-1.05zM98.0 245.8h1.05v1.05h-1.05zM84.2 258.6h1.05v1.05h-1.05zM99.9 242.9h1.05v1.05h-1.05zM96.4 249.6h1.05v1.05h-1.05zM91.6 250.8h1.05v1.05h-1.05zM103.0 241.8h1.05v1.05h-1.05zM88.5 253.8h1.05v1.05h-1.05zM117.6 226.0h1.05v1.05h-1.05zM122.7 221.3h1.05v1.05h-1.05zM84.3 258.3h1.05v1.05h-1.05zM81.9 263.3h1.05v1.05h-1.05zM92.2 250.5h1.05v1.05h-1.05zM81.9 262.1h1.05v1.05h-1.05zM108.0 235.1h1.05v1.05h-1.05zM87.5 255.9h1.05v1.05h-1.05zM100.1 246.7h1.05v1.05h-1.05zM94.8 248.6h1.05v1.05h-1.05zM108.5 235.6h1.05v1.05h-1.05zM115.4 229.7h1.05v1.05h-1.05zM97.8 244.8h1.05v1.05h-1.05zM121.3 222.4h1.05v1.05h-1.05zM94.0 249.4h1.05v1.05h-1.05zM85.5 257.8h1.05v1.05h-1.05zM90.9 252.4h1.05v1.05h-1.05zM103.5 240.1h1.05v1.05h-1.05zM88.1 257.5h1.05v1.05h-1.05zM107.6 235.6h1.05v1.05h-1.05zM86.7 256.1h1.05v1.05h-1.05zM108.9 234.4h1.05v1.05h-1.05zM98.1 246.1h1.05v1.05h-1.05zM86.9 255.5h1.05v1.05h-1.05zM102.4 241.6h1.05v1.05h-1.05zM99.4 243.3h1.05v1.05h-1.05zM81.1 262.6h1.05v1.05h-1.05zM81.0 263.0h1.05v1.05h-1.05zM86.6 256.0h1.05v1.05h-1.05zM84.9 257.5h1.05v1.05h-1.05zM89.5 255.8h1.05v1.05h-1.05zM86.5 256.6h1.05v1.05h-1.05zM102.4 241.1h1.05v1.05h-1.05zM81.2 262.2h1.05v1.05h-1.05zM91.7 252.6h1.05v1.05h-1.05zM83.0 261.4h1.05v1.05h-1.05zM86.1 256.8h1.05v1.05h-1.05zM95.2 247.7h1.05v1.05h-1.05zM85.9 257.2h1.05v1.05h-1.05zM91.9 252.3h1.05v1.05h-1.05zM115.2 228.7h1.05v1.05h-1.05zM101.5 241.9h1.05v1.05h-1.05zM88.9 254.3h1.05v1.05h-1.05zM96.4 246.1h1.05v1.05h-1.05zM96.8 246.6h1.05v1.05h-1.05zM104.7 239.7h1.05v1.05h-1.05zM82.1 260.1h1.05v1.05h-1.05zM81.1 261.5h1.05v1.05h-1.05zM94.7 249.2h1.05v1.05h-1.05zM110.7 232.3h1.05v1.05h-1.05zM82.3 261.3h1.05v1.05h-1.05zM102.3 240.7h1.05v1.05h-1.05zM122.9 222.0h1.05v1.05h-1.05zM84.1 263.6h1.05v1.05h-1.05zM95.7 251.3h1.05v1.05h-1.05zM91.9 251.0h1.05v1.05h-1.05zM111.1 237.2h1.05v1.05h-1.05zM117.5 225.8h1.05v1.05h-1.05zM83.7 262.6h1.05v1.05h-1.05zM87.8 255.9h1.05v1.05h-1.05zM86.7 256.9h1.05v1.05h-1.05zM94.4 248.5h1.05v1.05h-1.05zM104.3 240.3h1.05v1.05h-1.05zM96.6 246.1h1.05v1.05h-1.05zM95.5 247.3h1.05v1.05h-1.05zM82.4 260.2h1.05v1.05h-1.05zM119.9 224.3h1.05v1.05h-1.05zM115.7 230.5h1.05v1.05h-1.05zM116.8 227.4h1.05v1.05h-1.05zM86.1 260.0h1.05v1.05h-1.05zM88.8 254.3h1.05v1.05h-1.05zM81.2 261.7h1.05v1.05h-1.05zM86.4 256.0h1.05v1.05h-1.05zM92.1 250.3h1.05v1.05h-1.05zM115.4 229.3h1.05v1.05h-1.05zM116.2 236.1h1.05v1.05h-1.05zM91.6 252.0h1.05v1.05h-1.05zM115.5 228.1h1.05v1.05h-1.05zM89.5 254.6h1.05v1.05h-1.05zM91.4 251.4h1.05v1.05h-1.05zM110.1 233.6h1.05v1.05h-1.05zM85.7 257.7h1.05v1.05h-1.05zM110.2 233.8h1.05v1.05h-1.05zM112.4 231.7h1.05v1.05h-1.05zM92.1 253.9h1.05v1.05h-1.05zM81.3 262.6h1.05v1.05h-1.05zM85.2 258.8h1.05v1.05h-1.05zM107.9 236.3h1.05v1.05h-1.05zM83.1 260.2h1.05v1.05h-1.05zM82.2 260.1h1.05v1.05h-1.05zM87.3 255.7h1.05v1.05h-1.05zM90.6 252.9h1.05v1.05h-1.05zM90.0 255.7h1.05v1.05h-1.05zM120.9 228.5h1.05v1.05h-1.05zM119.0 224.5h1.05v1.05h-1.05zM100.1 244.0h1.05v1.05h-1.05zM85.0 262.2h1.05v1.05h-1.05zM123.6 221.6h1.05v1.05h-1.05zM102.4 241.2h1.05v1.05h-1.05zM101.3 243.9h1.05v1.05h-1.05zM95.6 248.9h1.05v1.05h-1.05zM98.4 244.4h1.05v1.05h-1.05zM108.7 235.9h1.05v1.05h-1.05zM118.0 227.0h1.05v1.05h-1.05zM110.0 235.2h1.05v1.05h-1.05zM122.8 222.5h1.05v1.05h-1.05zM110.6 232.5h1.05v1.05h-1.05zM81.4 262.0h1.05v1.05h-1.05zM90.9 252.3h1.05v1.05h-1.05zM121.2 222.9h1.05v1.05h-1.05zM108.7 234.3h1.05v1.05h-1.05zM106.8 237.2h1.05v1.05h-1.05zM120.2 225.2h1.05v1.05h-1.05zM81.0 262.8h1.05v1.05h-1.05zM123.6 220.2h1.05v1.05h-1.05zM90.8 255.7h1.05v1.05h-1.05zM84.1 258.7h1.05v1.05h-1.05zM104.2 240.1h1.05v1.05h-1.05zM110.1 233.0h1.05v1.05h-1.05zM81.5 260.8h1.05v1.05h-1.05zM97.5 247.7h1.05v1.05h-1.05zM82.7 259.9h1.05v1.05h-1.05zM106.0 237.6h1.05v1.05h-1.05zM91.7 252.0h1.05v1.05h-1.05zM102.5 240.5h1.05v1.05h-1.05zM81.5 261.9h1.05v1.05h-1.05zM96.6 252.7h1.05v1.05h-1.05zM89.0 255.2h1.05v1.05h-1.05zM101.2 241.6h1.05v1.05h-1.05zM92.8 250.5h1.05v1.05h-1.05zM86.1 256.1h1.05v1.05h-1.05zM108.9 236.6h1.05v1.05h-1.05zM105.2 237.7h1.05v1.05h-1.05zM91.7 251.4h1.05v1.05h-1.05zM84.3 261.1h1.05v1.05h-1.05zM120.0 224.1h1.05v1.05h-1.05zM120.9 226.9h1.05v1.05h-1.05zM88.2 254.2h1.05v1.05h-1.05zM84.9 260.0h1.05v1.05h-1.05zM91.9 253.0h1.05v1.05h-1.05zM96.8 249.0h1.05v1.05h-1.05zM101.8 244.9h1.05v1.05h-1.05zM82.5 262.5h1.05v1.05h-1.05zM97.1 247.2h1.05v1.05h-1.05zM81.6 261.5h1.05v1.05h-1.05zM116.0 227.5h1.05v1.05h-1.05zM101.3 243.8h1.05v1.05h-1.05zM98.6 248.3h1.05v1.05h-1.05zM95.9 247.1h1.05v1.05h-1.05zM95.8 247.1h1.05v1.05h-1.05zM89.1 253.3h1.05v1.05h-1.05zM100.0 243.5h1.05v1.05h-1.05zM99.8 245.3h1.05v1.05h-1.05zM105.2 240.9h1.05v1.05h-1.05zM82.7 259.4h1.05v1.05h-1.05zM83.4 258.8h1.05v1.05h-1.05zM103.6 240.6h1.05v1.05h-1.05zM82.9 259.3h1.05v1.05h-1.05zM83.2 261.2h1.05v1.05h-1.05zM81.8 261.9h1.05v1.05h-1.05zM89.9 253.6h1.05v1.05h-1.05zM111.5 232.6h1.05v1.05h-1.05zM94.8 249.3h1.05v1.05h-1.05zM99.8 243.7h1.05v1.05h-1.05zM87.7 256.0h1.05v1.05h-1.05zM112.7 231.3h1.05v1.05h-1.05zM109.8 233.3h1.05v1.05h-1.05zM81.6 260.8h1.05v1.05h-1.05zM115.6 227.6h1.05v1.05h-1.05zM86.4 258.6h1.05v1.05h-1.05zM112.7 230.8h1.05v1.05h-1.05zM81.3 260.9h1.05v1.05h-1.05zM99.5 244.4h1.05v1.05h-1.05zM98.1 245.5h1.05v1.05h-1.05zM95.8 246.8h1.05v1.05h-1.05zM103.6 240.0h1.05v1.05h-1.05zM83.0 259.8h1.05v1.05h-1.05zM81.2 261.2h1.05v1.05h-1.05zM105.4 240.1h1.05v1.05h-1.05zM81.1 261.0h1.05v1.05h-1.05zM117.1 227.7h1.05v1.05h-1.05zM81.3 261.0h1.05v1.05h-1.05zM91.9 251.0h1.05v1.05h-1.05zM88.6 256.0h1.05v1.05h-1.05zM84.6 257.8h1.05v1.05h-1.05zM114.4 228.8h1.05v1.05h-1.05zM102.1 241.2h1.05v1.05h-1.05zM84.9 257.3h1.05v1.05h-1.05zM84.2 261.3h1.05v1.05h-1.05zM86.3 259.6h1.05v1.05h-1.05zM102.7 242.6h1.05v1.05h-1.05zM99.2 244.1h1.05v1.05h-1.05zM93.3 256.0h1.05v1.05h-1.05zM87.1 257.2h1.05v1.05h-1.05zM98.0 245.0h1.05v1.05h-1.05zM83.6 259.0h1.05v1.05h-1.05zM82.0 260.6h1.05v1.05h-1.05zM81.8 261.3h1.05v1.05h-1.05zM96.2 246.4h1.05v1.05h-1.05zM81.1 264.5h1.05v1.05h-1.05zM92.9 250.6h1.05v1.05h-1.05zM93.5 249.4h1.05v1.05h-1.05zM112.1 234.3h1.05v1.05h-1.05zM93.6 256.1h1.05v1.05h-1.05zM81.2 262.0h1.05v1.05h-1.05zM99.1 245.5h1.05v1.05h-1.05zM83.0 260.5h1.05v1.05h-1.05zM92.5 250.4h1.05v1.05h-1.05zM95.7 247.4h1.05v1.05h-1.05zM109.5 234.5h1.05v1.05h-1.05zM81.7 261.5h1.05v1.05h-1.05zM83.6 259.0h1.05v1.05h-1.05zM115.2 228.4h1.05v1.05h-1.05zM98.3 244.9h1.05v1.05h-1.05zM101.4 241.3h1.05v1.05h-1.05zM94.3 248.5h1.05v1.05h-1.05zM110.6 233.4h1.05v1.05h-1.05zM102.2 241.3h1.05v1.05h-1.05zM103.9 239.0h1.05v1.05h-1.05zM87.0 257.9h1.05v1.05h-1.05zM85.4 258.2h1.05v1.05h-1.05zM118.8 226.5h1.05v1.05h-1.05zM108.5 236.8h1.05v1.05h-1.05zM108.6 234.5h1.05v1.05h-1.05zM86.4 256.3h1.05v1.05h-1.05zM114.4 228.8h1.05v1.05h-1.05zM86.7 256.5h1.05v1.05h-1.05zM81.0 261.5h1.05v1.05h-1.05zM120.0 223.6h1.05v1.05h-1.05zM111.6 233.2h1.05v1.05h-1.05zM84.2 258.0h1.05v1.05h-1.05zM88.4 254.1h1.05v1.05h-1.05zM94.2 251.2h1.05v1.05h-1.05zM81.8 261.4h1.05v1.05h-1.05zM116.9 227.2h1.05v1.05h-1.05zM95.8 247.3h1.05v1.05h-1.05zM89.6 254.5h1.05v1.05h-1.05zM114.8 228.5h1.05v1.05h-1.05zM82.5 260.3h1.05v1.05h-1.05zM110.4 233.0h1.05v1.05h-1.05zM85.9 257.1h1.05v1.05h-1.05zM103.9 239.5h1.05v1.05h-1.05zM96.5 246.2h1.05v1.05h-1.05zM106.9 238.4h1.05v1.05h-1.05zM106.2 236.7h1.05v1.05h-1.05zM90.3 253.0h1.05v1.05h-1.05zM88.2 254.4h1.05v1.05h-1.05zM87.7 254.6h1.05v1.05h-1.05zM82.9 263.7h1.05v1.05h-1.05zM107.3 235.8h1.05v1.05h-1.05zM119.2 224.6h1.05v1.05h-1.05zM81.0 261.1h1.05v1.05h-1.05zM88.4 254.3h1.05v1.05h-1.05zM117.2 226.3h1.05v1.05h-1.05zM96.7 246.8h1.05v1.05h-1.05zM93.5 250.8h1.05v1.05h-1.05z" fill="#2a1f88" fill-opacity="0.95"/>
<path d="M45.10 185.60V291.50H154.60" stroke="#5a5a5a" stroke-width="1.35" fill="none"/>
<text x="42.20" y="294.50" font-size="6.8" text-anchor="end" fill="#333" stroke="#333" stroke-width="0.18">1</text>
<text x="42.20" y="276.92" font-size="6.8" text-anchor="end" fill="#333" stroke="#333" stroke-width="0.18">10</text>
<text x="42.20" y="259.33" font-size="6.8" text-anchor="end" fill="#333" stroke="#333" stroke-width="0.18">100</text>
<text x="42.20" y="241.75" font-size="6.8" text-anchor="end" fill="#333" stroke="#333" stroke-width="0.18">1,000</text>
<text x="42.20" y="224.17" font-size="6.8" text-anchor="end" fill="#333" stroke="#333" stroke-width="0.18">10,000</text>
<text x="42.20" y="206.58" font-size="6.8" text-anchor="end" fill="#333" stroke="#333" stroke-width="0.18">100,000</text>
<text x="42.20" y="189.00" font-size="6.8" text-anchor="end" fill="#333" stroke="#333" stroke-width="0.18">1,000,000</text>
<text x="46.50" y="298.50" font-size="6.8" text-anchor="end" fill="#333" transform="rotate(-45 46.50 298.50)" stroke="#333" stroke-width="0.18">1</text>
<text x="64.68" y="298.50" font-size="6.8" text-anchor="end" fill="#333" transform="rotate(-45 64.68 298.50)" stroke="#333" stroke-width="0.18">10</text>
<text x="82.87" y="298.50" font-size="6.8" text-anchor="end" fill="#333" transform="rotate(-45 82.87 298.50)" stroke="#333" stroke-width="0.18">100</text>
<text x="101.05" y="298.50" font-size="6.8" text-anchor="end" fill="#333" transform="rotate(-45 101.05 298.50)" stroke="#333" stroke-width="0.18">1,000</text>
<text x="119.23" y="298.50" font-size="6.8" text-anchor="end" fill="#333" transform="rotate(-45 119.23 298.50)" stroke="#333" stroke-width="0.18">10,000</text>
<text x="137.42" y="298.50" font-size="6.8" text-anchor="end" fill="#333" transform="rotate(-45 137.42 298.50)" stroke="#333" stroke-width="0.18">100,000</text>
<text x="155.60" y="298.50" font-size="6.8" text-anchor="end" fill="#333" transform="rotate(-45 155.60 298.50)" stroke="#333" stroke-width="0.18">1,000,000</text>
<text x="99.30" y="330.30" font-size="8.8" text-anchor="middle" fill="#333" font-weight="bold" textLength="19.00" lengthAdjust="spacingAndGlyphs">Control</text>
<text x="8.20" y="239.30" font-size="9.2" text-anchor="middle" fill="#333" font-weight="bold" textLength="14.10" lengthAdjust="spacingAndGlyphs" transform="rotate(-90 8.20 239.30)">OR21</text>
<text x="118.63" y="180.40" font-size="8.3" text-anchor="middle" fill="#222" stroke="#222" stroke-width="0.18">100</text>
<text x="136.82" y="180.40" font-size="8.3" text-anchor="middle" fill="#222" stroke="#222" stroke-width="0.18">10</text>
<text x="156.80" y="206.58" font-size="8.3" text-anchor="start" fill="#222" stroke="#222" stroke-width="0.18">0.1</text>
<path d="M224.73 183.80V291.60M219.20 286.19H329.40M227.96 183.80V291.60M219.20 283.03H329.40M230.26 183.80V291.60M219.20 280.78H329.40M232.04 183.80V291.60M219.20 279.04H329.40M233.49 183.80V291.60M219.20 277.62H329.40M234.72 183.80V291.60M219.20 276.42H329.40M235.79 183.80V291.60M219.20 275.37H329.40M236.73 183.80V291.60M219.20 274.46H329.40M243.10 183.80V291.60M219.20 268.22H329.40M246.33 183.80V291.60M219.20 265.06H329.40M248.62 183.80V291.60M219.20 262.82H329.40M250.40 183.80V291.60M219.20 261.08H329.40M251.86 183.80V291.60M219.20 259.65H329.40M253.09 183.80V291.60M219.20 258.45H329.40M254.15 183.80V291.60M219.20 257.41H329.40M255.09 183.80V291.60M219.20 256.49H329.40M261.46 183.80V291.60M219.20 250.26H329.40M264.70 183.80V291.60M219.20 247.09H329.40M266.99 183.80V291.60M219.20 244.85H329.40M268.77 183.80V291.60M219.20 243.11H329.40M270.23 183.80V291.60M219.20 241.69H329.40M271.45 183.80V291.60M219.20 240.48H329.40M272.52 183.80V291.60M219.20 239.44H329.40M273.46 183.80V291.60M219.20 238.52H329.40M279.83 183.80V291.60M219.20 232.29H329.40M283.06 183.80V291.60M219.20 229.13H329.40M285.36 183.80V291.60M219.20 226.88H329.40M287.14 183.80V291.60M219.20 225.14H329.40M288.59 183.80V291.60M219.20 223.72H329.40M289.82 183.80V291.60M219.20 222.52H329.40M290.89 183.80V291.60M219.20 221.47H329.40M291.83 183.80V291.60M219.20 220.56H329.40M298.20 183.80V291.60M219.20 214.32H329.40M301.43 183.80V291.60M219.20 211.16H329.40M303.72 183.80V291.60M219.20 208.92H329.40M305.50 183.80V291.60M219.20 207.18H329.40M306.96 183.80V291.60M219.20 205.75H329.40M308.19 183.80V291.60M219.20 204.55H329.40M309.25 183.80V291.60M219.20 203.51H329.40M310.19 183.80V291.60M219.20 202.59H329.40M316.56 183.80V291.60M219.20 196.36H329.40M319.80 183.80V291.60M219.20 193.19H329.40M322.09 183.80V291.60M219.20 190.95H329.40M323.87 183.80V291.60M219.20 189.21H329.40M325.33 183.80V291.60M219.20 187.79H329.40M326.55 183.80V291.60M219.20 186.58H329.40M327.62 183.80V291.60M219.20 185.54H329.40M328.56 183.80V291.60M219.20 184.62H329.40" stroke="#f6f6f6" stroke-width="0.4" fill="none"/>
<path d="M237.57 183.80V291.60M219.20 273.63H329.40M255.93 183.80V291.60M219.20 255.67H329.40M274.30 183.80V291.60M219.20 237.70H329.40M292.67 183.80V291.60M219.20 219.73H329.40M311.03 183.80V291.60M219.20 201.77H329.40" stroke="#d8d8d8" stroke-width="0.8" fill="none"/>
<path d="M219.20 183.80H329.40V291.60" stroke="#9a9a9a" stroke-width="1.1" fill="none"/>
<line x1="219.20" y1="286.19" x2="287.71" y2="219.18" stroke="#f2aca4" stroke-width="0.65"/>
<line x1="224.73" y1="291.60" x2="287.71" y2="229.99" stroke="#f2aca4" stroke-width="0.65"/>
<line x1="219.20" y1="291.60" x2="287.71" y2="224.58" stroke="#b8c8cc" stroke-width="0.6"/>
<line x1="219.20" y1="273.63" x2="311.03" y2="183.80" stroke="#b4b4b4" stroke-width="1.15" stroke-dasharray="2.8 2.2"/>
<line x1="237.57" y1="291.60" x2="329.40" y2="201.77" stroke="#b4b4b4" stroke-width="1.15" stroke-dasharray="2.8 2.2"/>
<path d="M252.3 251.9h1.0v1.0h-1.0zM250.0 253.0h1.0v1.0h-1.0zM249.5 255.1h1.0v1.0h-1.0zM250.6 253.3h1.0v1.0h-1.0zM248.5 247.9h1.0v1.0h-1.0zM259.8 245.0h1.0v1.0h-1.0zM250.5 253.2h1.0v1.0h-1.0zM249.9 254.1h1.0v1.0h-1.0zM260.6 244.4h1.0v1.0h-1.0zM251.1 253.9h1.0v1.0h-1.0zM249.8 254.8h1.0v1.0h-1.0zM261.1 244.0h1.0v1.0h-1.0zM251.3 253.7h1.0v1.0h-1.0zM261.1 243.1h1.0v1.0h-1.0zM246.4 253.1h1.0v1.0h-1.0zM256.1 248.9h1.0v1.0h-1.0zM257.4 246.4h1.0v1.0h-1.0zM275.2 229.8h1.0v1.0h-1.0zM249.5 253.3h1.0v1.0h-1.0zM256.9 248.1h1.0v1.0h-1.0zM253.9 251.1h1.0v1.0h-1.0zM259.7 244.5h1.0v1.0h-1.0zM253.4 250.2h1.0v1.0h-1.0zM250.4 254.4h1.0v1.0h-1.0zM254.4 250.5h1.0v1.0h-1.0zM253.8 247.2h1.0v1.0h-1.0zM258.4 246.8h1.0v1.0h-1.0zM265.7 238.3h1.0v1.0h-1.0zM261.6 242.9h1.0v1.0h-1.0zM254.3 249.5h1.0v1.0h-1.0zM255.1 248.0h1.0v1.0h-1.0zM250.6 254.3h1.0v1.0h-1.0zM248.6 252.5h1.0v1.0h-1.0zM249.7 253.5h1.0v1.0h-1.0zM257.0 248.2h1.0v1.0h-1.0zM255.8 241.8h1.0v1.0h-1.0zM251.6 251.8h1.0v1.0h-1.0zM247.4 254.4h1.0v1.0h-1.0zM250.4 254.6h1.0v1.0h-1.0zM249.1 254.4h1.0v1.0h-1.0zM251.2 249.6h1.0v1.0h-1.0zM256.4 248.2h1.0v1.0h-1.0zM253.2 250.3h1.0v1.0h-1.0zM250.3 254.6h1.0v1.0h-1.0zM255.9 247.6h1.0v1.0h-1.0zM265.8 238.3h1.0v1.0h-1.0zM270.1 232.1h1.0v1.0h-1.0zM248.4 255.1h1.0v1.0h-1.0zM259.4 245.7h1.0v1.0h-1.0zM262.2 243.1h1.0v1.0h-1.0zM265.4 238.0h1.0v1.0h-1.0zM250.0 254.4h1.0v1.0h-1.0zM264.9 238.8h1.0v1.0h-1.0zM258.3 245.9h1.0v1.0h-1.0zM251.0 253.8h1.0v1.0h-1.0zM254.7 247.5h1.0v1.0h-1.0zM256.8 247.0h1.0v1.0h-1.0zM253.1 250.2h1.0v1.0h-1.0zM252.3 250.2h1.0v1.0h-1.0zM246.6 255.0h1.0v1.0h-1.0zM254.9 249.6h1.0v1.0h-1.0zM264.3 236.8h1.0v1.0h-1.0zM255.7 248.8h1.0v1.0h-1.0zM254.0 250.4h1.0v1.0h-1.0zM263.8 240.6h1.0v1.0h-1.0zM250.2 254.3h1.0v1.0h-1.0zM252.5 252.6h1.0v1.0h-1.0zM257.9 247.3h1.0v1.0h-1.0zM257.5 246.5h1.0v1.0h-1.0zM248.7 254.9h1.0v1.0h-1.0zM252.5 250.5h1.0v1.0h-1.0zM248.2 254.9h1.0v1.0h-1.0zM255.1 250.0h1.0v1.0h-1.0zM250.3 254.2h1.0v1.0h-1.0zM253.2 251.9h1.0v1.0h-1.0zM250.1 254.2h1.0v1.0h-1.0zM254.3 249.8h1.0v1.0h-1.0zM252.8 250.4h1.0v1.0h-1.0zM250.5 254.5h1.0v1.0h-1.0zM252.6 250.2h1.0v1.0h-1.0zM251.0 252.8h1.0v1.0h-1.0zM246.8 254.8h1.0v1.0h-1.0zM251.4 252.6h1.0v1.0h-1.0zM255.7 249.2h1.0v1.0h-1.0zM247.6 252.6h1.0v1.0h-1.0zM249.9 253.8h1.0v1.0h-1.0zM247.0 255.2h1.0v1.0h-1.0zM263.0 240.7h1.0v1.0h-1.0zM252.0 252.6h1.0v1.0h-1.0zM255.1 247.8h1.0v1.0h-1.0zM249.6 255.2h1.0v1.0h-1.0zM250.9 251.6h1.0v1.0h-1.0zM252.0 251.8h1.0v1.0h-1.0zM257.8 247.4h1.0v1.0h-1.0zM250.6 253.3h1.0v1.0h-1.0z" fill="#e2301c" fill-opacity="0.85"/>
<path d="M269.1 247.6h1.05v1.05h-1.05zM259.9 257.7h1.05v1.05h-1.05zM258.2 259.1h1.05v1.05h-1.05zM271.0 246.5h1.05v1.05h-1.05zM261.1 255.2h1.05v1.05h-1.05zM263.0 256.0h1.05v1.05h-1.05zM255.8 260.3h1.05v1.05h-1.05zM266.3 250.3h1.05v1.05h-1.05zM258.7 258.6h1.05v1.05h-1.05zM272.7 245.1h1.05v1.05h-1.05zM268.8 247.5h1.05v1.05h-1.05zM256.7 259.7h1.05v1.05h-1.05zM274.5 246.1h1.05v1.05h-1.05zM268.6 248.3h1.05v1.05h-1.05z" fill="#2a1f88" fill-opacity="0.95"/>
<path d="M219.20 183.40V291.60H329.80" stroke="#5a5a5a" stroke-width="1.35" fill="none"/>
<text x="216.30" y="294.60" font-size="6.8" text-anchor="end" fill="#333" stroke="#333" stroke-width="0.18">1</text>
<text x="216.30" y="276.63" font-size="6.8" text-anchor="end" fill="#333" stroke="#333" stroke-width="0.18">10</text>
<text x="216.30" y="258.67" font-size="6.8" text-anchor="end" fill="#333" stroke="#333" stroke-width="0.18">100</text>
<text x="216.30" y="240.70" font-size="6.8" text-anchor="end" fill="#333" stroke="#333" stroke-width="0.18">1,000</text>
<text x="216.30" y="222.73" font-size="6.8" text-anchor="end" fill="#333" stroke="#333" stroke-width="0.18">10,000</text>
<text x="216.30" y="204.77" font-size="6.8" text-anchor="end" fill="#333" stroke="#333" stroke-width="0.18">100,000</text>
<text x="216.30" y="186.80" font-size="6.8" text-anchor="end" fill="#333" stroke="#333" stroke-width="0.18">1,000,000</text>
<text x="220.60" y="298.60" font-size="6.8" text-anchor="end" fill="#333" transform="rotate(-45 220.60 298.60)" stroke="#333" stroke-width="0.18">1</text>
<text x="238.97" y="298.60" font-size="6.8" text-anchor="end" fill="#333" transform="rotate(-45 238.97 298.60)" stroke="#333" stroke-width="0.18">10</text>
<text x="257.33" y="298.60" font-size="6.8" text-anchor="end" fill="#333" transform="rotate(-45 257.33 298.60)" stroke="#333" stroke-width="0.18">100</text>
<text x="275.70" y="298.60" font-size="6.8" text-anchor="end" fill="#333" transform="rotate(-45 275.70 298.60)" stroke="#333" stroke-width="0.18">1,000</text>
<text x="294.07" y="298.60" font-size="6.8" text-anchor="end" fill="#333" transform="rotate(-45 294.07 298.60)" stroke="#333" stroke-width="0.18">10,000</text>
<text x="312.43" y="298.60" font-size="6.8" text-anchor="end" fill="#333" transform="rotate(-45 312.43 298.60)" stroke="#333" stroke-width="0.18">100,000</text>
<text x="330.80" y="298.60" font-size="6.8" text-anchor="end" fill="#333" transform="rotate(-45 330.80 298.60)" stroke="#333" stroke-width="0.18">1,000,000</text>
<text x="275.45" y="330.10" font-size="8.8" text-anchor="middle" fill="#333" font-weight="bold" textLength="19.00" lengthAdjust="spacingAndGlyphs">Control</text>
<text x="183.80" y="238.90" font-size="9.2" text-anchor="middle" fill="#333" font-weight="bold" textLength="9.80" lengthAdjust="spacingAndGlyphs" transform="rotate(-90 183.80 238.90)">EPZ</text>
<text x="311.83" y="178.20" font-size="8.3" text-anchor="middle" fill="#222" stroke="#222" stroke-width="0.18">10</text>
<text x="332.00" y="204.77" font-size="8.3" text-anchor="start" fill="#222" stroke="#222" stroke-width="0.18">0.1</text>
<path d="M400.70 185.90V292.80M395.20 287.44H504.90M403.92 185.90V292.80M395.20 284.30H504.90M406.21 185.90V292.80M395.20 282.07H504.90M407.98 185.90V292.80M395.20 280.35H504.90M409.43 185.90V292.80M395.20 278.94H504.90M410.65 185.90V292.80M395.20 277.74H504.90M411.71 185.90V292.80M395.20 276.71H504.90M412.65 185.90V292.80M395.20 275.80H504.90M418.99 185.90V292.80M395.20 269.62H504.90M422.21 185.90V292.80M395.20 266.48H504.90M424.49 185.90V292.80M395.20 264.26H504.90M426.26 185.90V292.80M395.20 262.53H504.90M427.71 185.90V292.80M395.20 261.12H504.90M428.93 185.90V292.80M395.20 259.93H504.90M429.99 185.90V292.80M395.20 258.89H504.90M430.93 185.90V292.80M395.20 257.98H504.90M437.27 185.90V292.80M395.20 251.80H504.90M440.49 185.90V292.80M395.20 248.67H504.90M442.77 185.90V292.80M395.20 246.44H504.90M444.55 185.90V292.80M395.20 244.71H504.90M445.99 185.90V292.80M395.20 243.30H504.90M447.22 185.90V292.80M395.20 242.11H504.90M448.28 185.90V292.80M395.20 241.08H504.90M449.21 185.90V292.80M395.20 240.17H504.90M455.55 185.90V292.80M395.20 233.99H504.90M458.77 185.90V292.80M395.20 230.85H504.90M461.06 185.90V292.80M395.20 228.62H504.90M462.83 185.90V292.80M395.20 226.90H504.90M464.28 185.90V292.80M395.20 225.49H504.90M465.50 185.90V292.80M395.20 224.29H504.90M466.56 185.90V292.80M395.20 223.26H504.90M467.50 185.90V292.80M395.20 222.35H504.90M473.84 185.90V292.80M395.20 216.17H504.90M477.06 185.90V292.80M395.20 213.03H504.90M479.34 185.90V292.80M395.20 210.81H504.90M481.11 185.90V292.80M395.20 209.08H504.90M482.56 185.90V292.80M395.20 207.67H504.90M483.78 185.90V292.80M395.20 206.48H504.90M484.84 185.90V292.80M395.20 205.44H504.90M485.78 185.90V292.80M395.20 204.53H504.90M492.12 185.90V292.80M395.20 198.35H504.90M495.34 185.90V292.80M395.20 195.22H504.90M497.62 185.90V292.80M395.20 192.99H504.90M499.40 185.90V292.80M395.20 191.26H504.90M500.84 185.90V292.80M395.20 189.85H504.90M502.07 185.90V292.80M395.20 188.66H504.90M503.13 185.90V292.80M395.20 187.63H504.90M504.06 185.90V292.80M395.20 186.72H504.90" stroke="#f6f6f6" stroke-width="0.4" fill="none"/>
<path d="M413.48 185.90V292.80M395.20 274.98H504.90M431.77 185.90V292.80M395.20 257.17H504.90M450.05 185.90V292.80M395.20 239.35H504.90M468.33 185.90V292.80M395.20 221.53H504.90M486.62 185.90V292.80M395.20 203.72H504.90" stroke="#d8d8d8" stroke-width="0.8" fill="none"/>
<path d="M395.20 185.90H504.90V292.80" stroke="#9a9a9a" stroke-width="1.1" fill="none"/>
<line x1="395.20" y1="287.44" x2="486.62" y2="198.35" stroke="#f2aca4" stroke-width="0.65"/>
<line x1="400.70" y1="292.80" x2="486.62" y2="209.08" stroke="#f2aca4" stroke-width="0.65"/>
<line x1="395.20" y1="292.80" x2="486.62" y2="203.72" stroke="#b8c8cc" stroke-width="0.6"/>
<line x1="395.20" y1="257.17" x2="468.33" y2="185.90" stroke="#b4b4b4" stroke-width="1.15" stroke-dasharray="2.8 2.2"/>
<line x1="395.20" y1="274.98" x2="486.62" y2="185.90" stroke="#b4b4b4" stroke-width="1.15" stroke-dasharray="2.8 2.2"/>
<line x1="413.48" y1="292.80" x2="504.90" y2="203.72" stroke="#b4b4b4" stroke-width="1.15" stroke-dasharray="2.8 2.2"/>
<path d="M471.0 212.2h1.0v1.0h-1.0zM431.4 249.0h1.0v1.0h-1.0zM421.9 248.6h1.0v1.0h-1.0zM418.8 254.8h1.0v1.0h-1.0zM426.5 250.5h1.0v1.0h-1.0zM419.8 247.7h1.0v1.0h-1.0zM422.3 240.2h1.0v1.0h-1.0zM424.9 253.8h1.0v1.0h-1.0zM423.9 228.6h1.0v1.0h-1.0zM420.4 249.2h1.0v1.0h-1.0zM438.5 244.0h1.0v1.0h-1.0zM441.7 240.6h1.0v1.0h-1.0zM441.6 240.1h1.0v1.0h-1.0zM426.8 255.5h1.0v1.0h-1.0zM415.1 252.4h1.0v1.0h-1.0zM441.5 239.7h1.0v1.0h-1.0zM424.9 251.1h1.0v1.0h-1.0zM462.4 217.1h1.0v1.0h-1.0zM434.8 244.6h1.0v1.0h-1.0zM438.9 242.4h1.0v1.0h-1.0zM443.4 235.5h1.0v1.0h-1.0zM438.1 244.5h1.0v1.0h-1.0zM426.5 253.0h1.0v1.0h-1.0zM447.9 233.3h1.0v1.0h-1.0zM418.5 256.6h1.0v1.0h-1.0zM434.9 235.1h1.0v1.0h-1.0zM450.6 232.2h1.0v1.0h-1.0zM424.6 256.6h1.0v1.0h-1.0zM429.2 250.5h1.0v1.0h-1.0zM424.3 256.4h1.0v1.0h-1.0zM426.1 256.1h1.0v1.0h-1.0zM429.5 252.3h1.0v1.0h-1.0zM431.5 249.6h1.0v1.0h-1.0zM440.2 241.1h1.0v1.0h-1.0zM441.7 241.1h1.0v1.0h-1.0zM435.2 245.3h1.0v1.0h-1.0zM428.2 252.1h1.0v1.0h-1.0zM425.4 252.0h1.0v1.0h-1.0zM454.5 228.3h1.0v1.0h-1.0zM442.3 239.7h1.0v1.0h-1.0zM419.9 251.1h1.0v1.0h-1.0zM420.8 244.6h1.0v1.0h-1.0zM427.1 254.9h1.0v1.0h-1.0zM422.5 255.0h1.0v1.0h-1.0zM430.0 250.9h1.0v1.0h-1.0zM425.0 256.0h1.0v1.0h-1.0zM414.8 232.4h1.0v1.0h-1.0zM454.2 228.8h1.0v1.0h-1.0zM444.8 237.4h1.0v1.0h-1.0zM448.6 231.7h1.0v1.0h-1.0zM429.1 249.9h1.0v1.0h-1.0zM436.4 244.4h1.0v1.0h-1.0zM417.0 256.7h1.0v1.0h-1.0zM426.3 256.1h1.0v1.0h-1.0zM441.7 239.7h1.0v1.0h-1.0zM435.0 246.2h1.0v1.0h-1.0zM448.7 231.9h1.0v1.0h-1.0zM442.2 236.7h1.0v1.0h-1.0zM425.1 256.0h1.0v1.0h-1.0zM453.1 228.5h1.0v1.0h-1.0zM435.8 224.9h1.0v1.0h-1.0zM462.6 217.9h1.0v1.0h-1.0zM425.5 256.5h1.0v1.0h-1.0zM429.4 248.3h1.0v1.0h-1.0zM430.8 251.6h1.0v1.0h-1.0zM418.0 255.0h1.0v1.0h-1.0zM427.9 254.3h1.0v1.0h-1.0zM428.4 253.2h1.0v1.0h-1.0zM433.6 248.8h1.0v1.0h-1.0zM439.1 242.6h1.0v1.0h-1.0zM438.8 242.8h1.0v1.0h-1.0zM429.9 252.3h1.0v1.0h-1.0zM427.6 253.1h1.0v1.0h-1.0zM424.2 256.0h1.0v1.0h-1.0zM439.2 243.3h1.0v1.0h-1.0zM430.4 251.6h1.0v1.0h-1.0zM434.2 241.2h1.0v1.0h-1.0zM425.7 253.5h1.0v1.0h-1.0zM425.2 256.0h1.0v1.0h-1.0zM424.0 254.9h1.0v1.0h-1.0zM428.6 252.8h1.0v1.0h-1.0zM436.6 238.0h1.0v1.0h-1.0zM445.5 237.3h1.0v1.0h-1.0zM430.8 250.7h1.0v1.0h-1.0zM457.1 225.4h1.0v1.0h-1.0zM435.7 245.0h1.0v1.0h-1.0zM439.0 242.0h1.0v1.0h-1.0zM430.2 225.8h1.0v1.0h-1.0zM416.5 255.5h1.0v1.0h-1.0zM427.6 213.9h1.0v1.0h-1.0zM444.5 235.3h1.0v1.0h-1.0zM425.9 255.7h1.0v1.0h-1.0zM417.4 250.5h1.0v1.0h-1.0zM432.4 246.3h1.0v1.0h-1.0zM422.3 226.8h1.0v1.0h-1.0zM420.1 255.5h1.0v1.0h-1.0zM426.7 254.6h1.0v1.0h-1.0zM446.7 236.2h1.0v1.0h-1.0zM447.3 219.2h1.0v1.0h-1.0zM434.3 247.2h1.0v1.0h-1.0zM434.6 243.8h1.0v1.0h-1.0zM427.3 228.8h1.0v1.0h-1.0zM423.2 253.3h1.0v1.0h-1.0zM420.5 255.3h1.0v1.0h-1.0zM436.4 244.8h1.0v1.0h-1.0zM451.7 228.7h1.0v1.0h-1.0zM430.1 246.5h1.0v1.0h-1.0zM450.4 231.8h1.0v1.0h-1.0zM451.7 214.9h1.0v1.0h-1.0zM423.4 249.6h1.0v1.0h-1.0zM431.7 250.8h1.0v1.0h-1.0zM419.5 256.6h1.0v1.0h-1.0zM416.3 248.2h1.0v1.0h-1.0zM429.6 252.0h1.0v1.0h-1.0zM431.7 250.6h1.0v1.0h-1.0zM435.1 242.1h1.0v1.0h-1.0zM421.9 256.7h1.0v1.0h-1.0zM457.0 224.0h1.0v1.0h-1.0zM442.1 237.2h1.0v1.0h-1.0zM415.2 254.0h1.0v1.0h-1.0zM450.7 223.4h1.0v1.0h-1.0zM424.0 254.1h1.0v1.0h-1.0zM425.7 255.4h1.0v1.0h-1.0zM425.7 256.3h1.0v1.0h-1.0zM442.7 234.0h1.0v1.0h-1.0zM420.8 255.0h1.0v1.0h-1.0zM424.2 256.7h1.0v1.0h-1.0zM421.1 256.0h1.0v1.0h-1.0zM431.5 237.9h1.0v1.0h-1.0zM429.2 252.3h1.0v1.0h-1.0zM429.4 251.2h1.0v1.0h-1.0zM427.9 251.2h1.0v1.0h-1.0zM470.1 212.2h1.0v1.0h-1.0zM433.8 247.7h1.0v1.0h-1.0zM442.8 239.7h1.0v1.0h-1.0zM436.6 246.1h1.0v1.0h-1.0zM426.6 221.1h1.0v1.0h-1.0zM435.2 246.3h1.0v1.0h-1.0zM435.5 244.1h1.0v1.0h-1.0zM428.2 252.0h1.0v1.0h-1.0zM422.1 240.0h1.0v1.0h-1.0zM426.7 254.4h1.0v1.0h-1.0zM434.2 247.4h1.0v1.0h-1.0zM430.5 251.0h1.0v1.0h-1.0zM470.9 211.3h1.0v1.0h-1.0zM423.6 255.0h1.0v1.0h-1.0zM416.5 253.0h1.0v1.0h-1.0zM438.6 220.5h1.0v1.0h-1.0zM420.4 252.1h1.0v1.0h-1.0zM422.5 248.6h1.0v1.0h-1.0zM426.5 239.9h1.0v1.0h-1.0zM427.9 252.8h1.0v1.0h-1.0zM434.2 239.0h1.0v1.0h-1.0zM435.7 232.5h1.0v1.0h-1.0zM445.3 232.1h1.0v1.0h-1.0zM428.3 251.9h1.0v1.0h-1.0zM435.8 228.0h1.0v1.0h-1.0zM470.3 212.1h1.0v1.0h-1.0zM437.6 231.4h1.0v1.0h-1.0zM429.7 250.9h1.0v1.0h-1.0zM427.8 253.6h1.0v1.0h-1.0zM447.3 230.1h1.0v1.0h-1.0zM427.6 253.6h1.0v1.0h-1.0zM428.5 253.7h1.0v1.0h-1.0zM425.4 256.6h1.0v1.0h-1.0zM429.4 247.9h1.0v1.0h-1.0zM430.1 249.0h1.0v1.0h-1.0zM445.6 236.8h1.0v1.0h-1.0zM451.2 225.1h1.0v1.0h-1.0zM445.3 235.3h1.0v1.0h-1.0zM423.8 255.7h1.0v1.0h-1.0zM429.5 252.7h1.0v1.0h-1.0zM423.0 253.1h1.0v1.0h-1.0zM454.2 228.4h1.0v1.0h-1.0zM462.2 220.4h1.0v1.0h-1.0zM425.4 256.2h1.0v1.0h-1.0zM435.1 246.3h1.0v1.0h-1.0zM435.2 234.4h1.0v1.0h-1.0zM431.7 250.2h1.0v1.0h-1.0zM439.6 242.8h1.0v1.0h-1.0zM425.6 238.9h1.0v1.0h-1.0zM426.1 255.5h1.0v1.0h-1.0zM439.9 240.8h1.0v1.0h-1.0zM422.5 256.1h1.0v1.0h-1.0zM434.7 247.7h1.0v1.0h-1.0zM424.3 256.5h1.0v1.0h-1.0zM433.5 244.4h1.0v1.0h-1.0zM442.1 239.1h1.0v1.0h-1.0zM425.5 254.7h1.0v1.0h-1.0zM437.6 244.7h1.0v1.0h-1.0zM423.6 255.3h1.0v1.0h-1.0zM432.4 246.8h1.0v1.0h-1.0zM426.3 242.8h1.0v1.0h-1.0zM451.4 216.0h1.0v1.0h-1.0zM425.6 250.5h1.0v1.0h-1.0zM416.0 254.4h1.0v1.0h-1.0zM439.0 242.9h1.0v1.0h-1.0zM461.9 221.2h1.0v1.0h-1.0zM429.2 252.2h1.0v1.0h-1.0zM437.5 240.7h1.0v1.0h-1.0zM428.2 254.1h1.0v1.0h-1.0zM426.1 226.6h1.0v1.0h-1.0zM430.4 250.9h1.0v1.0h-1.0zM424.0 254.9h1.0v1.0h-1.0zM426.4 255.3h1.0v1.0h-1.0zM419.3 253.2h1.0v1.0h-1.0zM421.2 256.0h1.0v1.0h-1.0zM432.2 244.1h1.0v1.0h-1.0zM435.2 246.5h1.0v1.0h-1.0zM457.6 221.8h1.0v1.0h-1.0zM432.8 242.4h1.0v1.0h-1.0zM436.8 243.8h1.0v1.0h-1.0zM449.5 232.5h1.0v1.0h-1.0zM461.9 221.1h1.0v1.0h-1.0zM425.9 254.5h1.0v1.0h-1.0zM450.4 223.1h1.0v1.0h-1.0zM462.4 214.4h1.0v1.0h-1.0zM428.2 253.5h1.0v1.0h-1.0zM419.4 255.8h1.0v1.0h-1.0zM436.4 245.4h1.0v1.0h-1.0zM435.7 241.4h1.0v1.0h-1.0zM416.9 254.2h1.0v1.0h-1.0zM439.1 243.3h1.0v1.0h-1.0zM426.7 254.1h1.0v1.0h-1.0zM445.5 234.9h1.0v1.0h-1.0zM419.9 253.0h1.0v1.0h-1.0zM441.7 239.6h1.0v1.0h-1.0zM426.8 252.9h1.0v1.0h-1.0zM417.6 254.6h1.0v1.0h-1.0zM421.8 253.7h1.0v1.0h-1.0zM451.5 229.6h1.0v1.0h-1.0zM425.3 255.8h1.0v1.0h-1.0zM439.9 235.5h1.0v1.0h-1.0zM427.0 255.0h1.0v1.0h-1.0zM425.9 255.8h1.0v1.0h-1.0zM425.7 256.5h1.0v1.0h-1.0zM459.1 209.8h1.0v1.0h-1.0zM427.1 232.5h1.0v1.0h-1.0zM450.6 232.2h1.0v1.0h-1.0zM432.6 249.9h1.0v1.0h-1.0zM428.9 224.2h1.0v1.0h-1.0zM444.5 236.7h1.0v1.0h-1.0zM424.8 256.7h1.0v1.0h-1.0zM429.7 232.9h1.0v1.0h-1.0zM434.6 246.6h1.0v1.0h-1.0zM431.9 246.6h1.0v1.0h-1.0zM444.6 238.3h1.0v1.0h-1.0zM432.8 231.3h1.0v1.0h-1.0zM428.1 248.2h1.0v1.0h-1.0zM423.0 253.8h1.0v1.0h-1.0zM427.6 252.0h1.0v1.0h-1.0zM421.2 253.7h1.0v1.0h-1.0zM429.5 252.5h1.0v1.0h-1.0zM425.1 248.3h1.0v1.0h-1.0zM432.7 248.9h1.0v1.0h-1.0zM424.7 256.5h1.0v1.0h-1.0zM420.4 250.4h1.0v1.0h-1.0zM440.2 239.3h1.0v1.0h-1.0zM434.8 246.5h1.0v1.0h-1.0zM447.1 234.0h1.0v1.0h-1.0zM436.8 233.4h1.0v1.0h-1.0zM451.2 227.5h1.0v1.0h-1.0zM440.5 234.7h1.0v1.0h-1.0zM422.1 256.7h1.0v1.0h-1.0zM435.2 242.4h1.0v1.0h-1.0zM427.9 253.0h1.0v1.0h-1.0zM437.6 241.6h1.0v1.0h-1.0zM440.9 238.2h1.0v1.0h-1.0zM421.9 256.6h1.0v1.0h-1.0zM424.4 254.5h1.0v1.0h-1.0zM428.7 252.7h1.0v1.0h-1.0zM442.4 239.0h1.0v1.0h-1.0zM449.7 233.1h1.0v1.0h-1.0zM434.7 246.2h1.0v1.0h-1.0zM444.7 232.0h1.0v1.0h-1.0zM435.7 236.3h1.0v1.0h-1.0zM424.2 254.8h1.0v1.0h-1.0zM430.8 249.8h1.0v1.0h-1.0zM454.5 224.9h1.0v1.0h-1.0zM469.7 212.6h1.0v1.0h-1.0zM453.1 229.6h1.0v1.0h-1.0zM442.1 239.9h1.0v1.0h-1.0zM430.4 249.6h1.0v1.0h-1.0zM425.7 255.1h1.0v1.0h-1.0zM438.0 242.9h1.0v1.0h-1.0zM429.4 252.2h1.0v1.0h-1.0zM433.0 247.9h1.0v1.0h-1.0zM427.6 254.7h1.0v1.0h-1.0zM443.8 230.4h1.0v1.0h-1.0zM461.4 220.2h1.0v1.0h-1.0zM462.3 211.4h1.0v1.0h-1.0zM414.8 247.0h1.0v1.0h-1.0zM428.4 247.8h1.0v1.0h-1.0zM463.9 218.6h1.0v1.0h-1.0zM426.9 254.3h1.0v1.0h-1.0zM427.8 254.4h1.0v1.0h-1.0zM427.1 251.1h1.0v1.0h-1.0zM416.9 246.7h1.0v1.0h-1.0zM434.7 246.1h1.0v1.0h-1.0zM437.0 241.1h1.0v1.0h-1.0zM430.6 251.9h1.0v1.0h-1.0zM431.6 248.6h1.0v1.0h-1.0zM446.9 235.1h1.0v1.0h-1.0zM431.7 250.7h1.0v1.0h-1.0zM450.3 232.1h1.0v1.0h-1.0zM431.3 250.2h1.0v1.0h-1.0zM444.9 233.7h1.0v1.0h-1.0zM421.4 248.9h1.0v1.0h-1.0zM432.4 249.6h1.0v1.0h-1.0zM426.5 255.8h1.0v1.0h-1.0zM428.4 253.3h1.0v1.0h-1.0zM465.0 214.0h1.0v1.0h-1.0zM426.8 249.4h1.0v1.0h-1.0zM449.8 231.5h1.0v1.0h-1.0zM415.8 252.6h1.0v1.0h-1.0zM416.1 248.5h1.0v1.0h-1.0zM425.0 253.9h1.0v1.0h-1.0zM427.9 253.8h1.0v1.0h-1.0zM416.7 252.5h1.0v1.0h-1.0zM448.5 230.5h1.0v1.0h-1.0zM440.4 237.2h1.0v1.0h-1.0zM443.0 213.3h1.0v1.0h-1.0zM430.9 250.8h1.0v1.0h-1.0zM433.9 243.6h1.0v1.0h-1.0zM418.3 253.5h1.0v1.0h-1.0zM434.3 239.7h1.0v1.0h-1.0zM426.1 254.9h1.0v1.0h-1.0zM434.2 246.0h1.0v1.0h-1.0zM440.6 240.8h1.0v1.0h-1.0zM465.4 217.3h1.0v1.0h-1.0zM431.8 245.3h1.0v1.0h-1.0zM433.3 245.1h1.0v1.0h-1.0zM451.5 230.7h1.0v1.0h-1.0zM435.5 246.2h1.0v1.0h-1.0zM433.3 238.4h1.0v1.0h-1.0zM425.8 255.7h1.0v1.0h-1.0zM468.0 213.9h1.0v1.0h-1.0zM415.3 256.1h1.0v1.0h-1.0zM439.5 233.3h1.0v1.0h-1.0zM421.7 241.0h1.0v1.0h-1.0zM426.4 221.1h1.0v1.0h-1.0zM432.6 248.1h1.0v1.0h-1.0zM470.9 212.3h1.0v1.0h-1.0zM427.6 252.3h1.0v1.0h-1.0zM424.6 227.8h1.0v1.0h-1.0zM441.0 241.8h1.0v1.0h-1.0zM438.1 243.2h1.0v1.0h-1.0zM422.4 253.0h1.0v1.0h-1.0zM439.1 223.9h1.0v1.0h-1.0zM429.7 252.5h1.0v1.0h-1.0zM425.9 256.1h1.0v1.0h-1.0zM429.8 247.1h1.0v1.0h-1.0zM427.3 254.6h1.0v1.0h-1.0zM439.2 239.2h1.0v1.0h-1.0zM448.5 212.7h1.0v1.0h-1.0zM424.3 218.8h1.0v1.0h-1.0zM434.5 246.1h1.0v1.0h-1.0zM426.5 254.7h1.0v1.0h-1.0zM432.9 249.2h1.0v1.0h-1.0zM438.8 241.5h1.0v1.0h-1.0zM439.0 239.8h1.0v1.0h-1.0zM431.0 249.3h1.0v1.0h-1.0zM449.7 226.4h1.0v1.0h-1.0zM431.4 249.7h1.0v1.0h-1.0zM445.3 232.7h1.0v1.0h-1.0zM428.2 253.3h1.0v1.0h-1.0zM430.7 230.9h1.0v1.0h-1.0zM464.9 213.7h1.0v1.0h-1.0zM421.1 229.6h1.0v1.0h-1.0zM436.3 230.6h1.0v1.0h-1.0zM428.4 253.0h1.0v1.0h-1.0zM429.0 253.2h1.0v1.0h-1.0zM420.4 256.7h1.0v1.0h-1.0zM416.9 247.4h1.0v1.0h-1.0zM441.7 210.1h1.0v1.0h-1.0zM416.3 256.3h1.0v1.0h-1.0zM437.2 243.0h1.0v1.0h-1.0zM448.4 226.5h1.0v1.0h-1.0zM425.2 255.3h1.0v1.0h-1.0zM417.7 236.5h1.0v1.0h-1.0zM457.6 225.3h1.0v1.0h-1.0zM454.6 215.8h1.0v1.0h-1.0zM432.4 249.6h1.0v1.0h-1.0zM439.1 243.0h1.0v1.0h-1.0zM422.8 256.5h1.0v1.0h-1.0zM416.8 255.6h1.0v1.0h-1.0zM431.4 251.0h1.0v1.0h-1.0zM431.2 247.2h1.0v1.0h-1.0zM437.4 236.9h1.0v1.0h-1.0zM426.9 251.6h1.0v1.0h-1.0zM423.2 256.6h1.0v1.0h-1.0zM435.9 244.5h1.0v1.0h-1.0zM427.9 230.1h1.0v1.0h-1.0zM424.7 256.6h1.0v1.0h-1.0zM421.6 255.9h1.0v1.0h-1.0zM431.9 249.1h1.0v1.0h-1.0zM431.6 250.0h1.0v1.0h-1.0zM436.0 241.4h1.0v1.0h-1.0zM442.4 239.6h1.0v1.0h-1.0zM451.4 230.8h1.0v1.0h-1.0zM425.5 254.8h1.0v1.0h-1.0zM422.4 255.9h1.0v1.0h-1.0zM424.1 256.4h1.0v1.0h-1.0zM457.7 225.5h1.0v1.0h-1.0zM425.5 255.3h1.0v1.0h-1.0zM429.3 251.2h1.0v1.0h-1.0zM416.2 239.0h1.0v1.0h-1.0zM445.6 232.1h1.0v1.0h-1.0zM423.7 256.0h1.0v1.0h-1.0zM443.8 238.0h1.0v1.0h-1.0zM448.9 234.1h1.0v1.0h-1.0zM427.5 251.7h1.0v1.0h-1.0zM438.0 244.1h1.0v1.0h-1.0zM431.8 247.4h1.0v1.0h-1.0zM445.4 237.0h1.0v1.0h-1.0zM433.0 248.5h1.0v1.0h-1.0zM429.7 252.1h1.0v1.0h-1.0zM429.7 212.9h1.0v1.0h-1.0zM454.2 228.2h1.0v1.0h-1.0zM450.6 229.5h1.0v1.0h-1.0zM431.2 250.1h1.0v1.0h-1.0zM423.5 229.4h1.0v1.0h-1.0zM425.7 256.0h1.0v1.0h-1.0zM430.9 249.8h1.0v1.0h-1.0zM428.2 242.5h1.0v1.0h-1.0zM450.4 227.9h1.0v1.0h-1.0zM444.3 234.1h1.0v1.0h-1.0zM440.5 240.0h1.0v1.0h-1.0zM423.9 246.0h1.0v1.0h-1.0zM437.4 242.0h1.0v1.0h-1.0zM430.7 250.7h1.0v1.0h-1.0zM446.7 236.2h1.0v1.0h-1.0zM432.2 247.8h1.0v1.0h-1.0zM422.6 253.1h1.0v1.0h-1.0zM425.9 252.0h1.0v1.0h-1.0zM448.8 232.1h1.0v1.0h-1.0zM419.1 252.2h1.0v1.0h-1.0zM431.4 251.2h1.0v1.0h-1.0zM419.1 256.4h1.0v1.0h-1.0zM421.2 256.4h1.0v1.0h-1.0zM415.3 225.2h1.0v1.0h-1.0zM440.5 239.2h1.0v1.0h-1.0zM422.6 254.7h1.0v1.0h-1.0zM428.1 253.6h1.0v1.0h-1.0zM438.4 238.0h1.0v1.0h-1.0zM437.6 245.1h1.0v1.0h-1.0zM418.1 253.8h1.0v1.0h-1.0zM438.9 243.3h1.0v1.0h-1.0zM426.0 256.3h1.0v1.0h-1.0zM452.2 228.2h1.0v1.0h-1.0zM450.5 231.4h1.0v1.0h-1.0zM421.1 252.8h1.0v1.0h-1.0zM433.5 248.9h1.0v1.0h-1.0zM460.6 217.8h1.0v1.0h-1.0zM439.1 240.8h1.0v1.0h-1.0zM434.9 245.5h1.0v1.0h-1.0zM429.3 234.6h1.0v1.0h-1.0zM435.4 246.0h1.0v1.0h-1.0zM432.2 238.1h1.0v1.0h-1.0zM432.2 250.0h1.0v1.0h-1.0zM427.1 255.1h1.0v1.0h-1.0zM441.5 237.2h1.0v1.0h-1.0zM446.4 235.2h1.0v1.0h-1.0zM428.1 254.2h1.0v1.0h-1.0zM434.0 248.5h1.0v1.0h-1.0zM452.9 230.0h1.0v1.0h-1.0zM418.1 254.6h1.0v1.0h-1.0zM444.0 234.2h1.0v1.0h-1.0zM422.6 256.1h1.0v1.0h-1.0zM437.8 244.2h1.0v1.0h-1.0zM426.0 252.9h1.0v1.0h-1.0zM435.4 244.4h1.0v1.0h-1.0zM442.1 234.4h1.0v1.0h-1.0zM441.9 236.6h1.0v1.0h-1.0zM425.3 254.1h1.0v1.0h-1.0zM447.4 229.7h1.0v1.0h-1.0zM433.2 246.9h1.0v1.0h-1.0zM452.8 223.0h1.0v1.0h-1.0zM453.2 229.1h1.0v1.0h-1.0zM445.3 224.7h1.0v1.0h-1.0zM438.2 243.7h1.0v1.0h-1.0zM431.4 245.9h1.0v1.0h-1.0zM429.0 244.7h1.0v1.0h-1.0zM415.9 225.8h1.0v1.0h-1.0zM426.9 238.8h1.0v1.0h-1.0zM439.1 242.8h1.0v1.0h-1.0zM440.8 220.3h1.0v1.0h-1.0zM425.8 256.5h1.0v1.0h-1.0zM434.7 247.8h1.0v1.0h-1.0zM419.3 247.6h1.0v1.0h-1.0zM431.7 250.0h1.0v1.0h-1.0zM434.5 232.3h1.0v1.0h-1.0zM448.3 234.1h1.0v1.0h-1.0zM430.1 252.3h1.0v1.0h-1.0zM429.5 252.8h1.0v1.0h-1.0zM427.0 250.0h1.0v1.0h-1.0zM426.8 250.4h1.0v1.0h-1.0zM421.3 252.8h1.0v1.0h-1.0zM417.7 222.3h1.0v1.0h-1.0zM428.9 252.2h1.0v1.0h-1.0zM436.8 245.5h1.0v1.0h-1.0zM445.4 236.9h1.0v1.0h-1.0zM426.1 256.3h1.0v1.0h-1.0zM448.9 232.4h1.0v1.0h-1.0zM433.2 248.9h1.0v1.0h-1.0zM471.8 211.8h1.0v1.0h-1.0zM427.6 254.6h1.0v1.0h-1.0zM454.4 225.9h1.0v1.0h-1.0zM433.8 247.6h1.0v1.0h-1.0zM455.7 225.7h1.0v1.0h-1.0zM423.6 254.5h1.0v1.0h-1.0zM446.9 235.0h1.0v1.0h-1.0zM427.9 252.6h1.0v1.0h-1.0zM429.1 250.3h1.0v1.0h-1.0zM429.4 251.1h1.0v1.0h-1.0zM435.9 236.9h1.0v1.0h-1.0zM436.0 241.8h1.0v1.0h-1.0zM435.9 234.9h1.0v1.0h-1.0zM437.0 245.3h1.0v1.0h-1.0zM439.2 243.3h1.0v1.0h-1.0zM430.0 252.4h1.0v1.0h-1.0zM438.3 243.7h1.0v1.0h-1.0zM460.7 219.0h1.0v1.0h-1.0zM415.3 246.2h1.0v1.0h-1.0zM429.1 236.0h1.0v1.0h-1.0zM419.2 241.6h1.0v1.0h-1.0zM431.7 229.2h1.0v1.0h-1.0zM446.9 234.9h1.0v1.0h-1.0zM464.6 214.7h1.0v1.0h-1.0zM429.3 249.8h1.0v1.0h-1.0zM438.6 242.2h1.0v1.0h-1.0zM438.2 241.5h1.0v1.0h-1.0zM433.6 248.0h1.0v1.0h-1.0zM427.3 210.1h1.0v1.0h-1.0zM431.2 251.0h1.0v1.0h-1.0zM428.9 251.7h1.0v1.0h-1.0zM435.2 246.7h1.0v1.0h-1.0zM424.3 253.4h1.0v1.0h-1.0zM424.5 256.6h1.0v1.0h-1.0zM442.0 240.7h1.0v1.0h-1.0zM427.8 253.7h1.0v1.0h-1.0zM438.8 231.6h1.0v1.0h-1.0zM421.5 256.3h1.0v1.0h-1.0zM447.7 234.3h1.0v1.0h-1.0zM429.5 243.3h1.0v1.0h-1.0zM424.7 236.9h1.0v1.0h-1.0zM424.6 255.2h1.0v1.0h-1.0zM446.1 229.0h1.0v1.0h-1.0zM427.4 227.5h1.0v1.0h-1.0zM423.4 245.8h1.0v1.0h-1.0zM414.3 252.1h1.0v1.0h-1.0zM440.8 241.4h1.0v1.0h-1.0zM425.6 253.0h1.0v1.0h-1.0zM430.8 250.6h1.0v1.0h-1.0zM430.1 250.8h1.0v1.0h-1.0zM429.5 250.1h1.0v1.0h-1.0zM436.7 237.0h1.0v1.0h-1.0zM464.3 218.1h1.0v1.0h-1.0zM437.0 232.8h1.0v1.0h-1.0zM433.1 236.2h1.0v1.0h-1.0zM424.1 255.1h1.0v1.0h-1.0zM428.0 254.2h1.0v1.0h-1.0zM430.6 251.1h1.0v1.0h-1.0zM420.7 253.6h1.0v1.0h-1.0zM435.3 246.8h1.0v1.0h-1.0zM430.8 250.3h1.0v1.0h-1.0zM444.2 237.3h1.0v1.0h-1.0zM422.0 255.6h1.0v1.0h-1.0zM419.9 254.2h1.0v1.0h-1.0zM434.7 241.9h1.0v1.0h-1.0zM438.1 242.5h1.0v1.0h-1.0zM415.6 250.9h1.0v1.0h-1.0zM425.2 254.9h1.0v1.0h-1.0zM444.4 237.3h1.0v1.0h-1.0zM469.4 210.2h1.0v1.0h-1.0zM426.7 253.7h1.0v1.0h-1.0zM445.5 236.6h1.0v1.0h-1.0zM428.2 251.3h1.0v1.0h-1.0zM439.1 221.9h1.0v1.0h-1.0zM423.1 255.1h1.0v1.0h-1.0zM431.2 250.4h1.0v1.0h-1.0zM438.5 243.7h1.0v1.0h-1.0zM434.4 244.8h1.0v1.0h-1.0zM423.0 255.2h1.0v1.0h-1.0zM454.6 227.7h1.0v1.0h-1.0zM432.5 250.0h1.0v1.0h-1.0zM427.5 254.4h1.0v1.0h-1.0zM439.5 229.2h1.0v1.0h-1.0zM427.7 250.7h1.0v1.0h-1.0zM427.4 251.4h1.0v1.0h-1.0zM429.3 252.7h1.0v1.0h-1.0zM430.3 248.1h1.0v1.0h-1.0zM434.9 245.6h1.0v1.0h-1.0zM449.0 218.8h1.0v1.0h-1.0zM424.9 256.3h1.0v1.0h-1.0zM428.4 253.9h1.0v1.0h-1.0zM432.5 250.0h1.0v1.0h-1.0zM465.4 214.9h1.0v1.0h-1.0zM421.3 250.2h1.0v1.0h-1.0zM414.6 228.9h1.0v1.0h-1.0zM445.2 237.4h1.0v1.0h-1.0zM426.3 255.3h1.0v1.0h-1.0zM427.0 251.3h1.0v1.0h-1.0zM423.9 256.4h1.0v1.0h-1.0zM439.0 242.2h1.0v1.0h-1.0zM440.4 241.5h1.0v1.0h-1.0zM433.7 222.6h1.0v1.0h-1.0zM415.4 246.3h1.0v1.0h-1.0zM427.5 252.7h1.0v1.0h-1.0zM416.7 256.7h1.0v1.0h-1.0zM441.3 239.7h1.0v1.0h-1.0zM441.3 240.8h1.0v1.0h-1.0zM431.9 246.0h1.0v1.0h-1.0zM446.5 235.3h1.0v1.0h-1.0zM424.5 255.3h1.0v1.0h-1.0zM425.4 252.3h1.0v1.0h-1.0zM440.1 233.1h1.0v1.0h-1.0zM442.3 238.5h1.0v1.0h-1.0zM421.6 228.2h1.0v1.0h-1.0zM432.7 245.2h1.0v1.0h-1.0zM426.8 254.0h1.0v1.0h-1.0zM432.0 230.2h1.0v1.0h-1.0zM424.6 255.3h1.0v1.0h-1.0zM462.9 213.6h1.0v1.0h-1.0zM430.2 249.0h1.0v1.0h-1.0zM420.7 253.4h1.0v1.0h-1.0zM455.5 227.5h1.0v1.0h-1.0zM440.3 242.2h1.0v1.0h-1.0zM431.6 240.3h1.0v1.0h-1.0zM470.6 213.0h1.0v1.0h-1.0zM417.7 255.0h1.0v1.0h-1.0zM439.1 240.5h1.0v1.0h-1.0zM449.3 229.0h1.0v1.0h-1.0zM433.9 247.3h1.0v1.0h-1.0zM443.2 239.0h1.0v1.0h-1.0zM426.2 255.9h1.0v1.0h-1.0zM444.9 235.3h1.0v1.0h-1.0zM440.0 233.7h1.0v1.0h-1.0zM422.7 256.5h1.0v1.0h-1.0zM428.0 249.6h1.0v1.0h-1.0zM432.9 249.0h1.0v1.0h-1.0zM428.3 251.3h1.0v1.0h-1.0zM425.0 256.4h1.0v1.0h-1.0zM437.0 241.3h1.0v1.0h-1.0zM416.5 240.0h1.0v1.0h-1.0zM454.3 225.9h1.0v1.0h-1.0zM458.2 224.4h1.0v1.0h-1.0zM440.1 241.4h1.0v1.0h-1.0zM435.4 244.8h1.0v1.0h-1.0zM444.4 209.7h1.0v1.0h-1.0zM437.9 242.4h1.0v1.0h-1.0zM421.8 254.6h1.0v1.0h-1.0zM471.2 212.1h1.0v1.0h-1.0zM424.4 254.1h1.0v1.0h-1.0zM469.1 209.9h1.0v1.0h-1.0zM425.1 255.7h1.0v1.0h-1.0zM470.8 212.6h1.0v1.0h-1.0zM425.0 242.9h1.0v1.0h-1.0zM441.9 237.2h1.0v1.0h-1.0zM429.9 252.4h1.0v1.0h-1.0zM446.9 234.1h1.0v1.0h-1.0zM419.4 240.7h1.0v1.0h-1.0zM415.1 232.3h1.0v1.0h-1.0zM435.1 247.4h1.0v1.0h-1.0zM421.6 224.3h1.0v1.0h-1.0zM457.1 224.8h1.0v1.0h-1.0zM440.4 234.6h1.0v1.0h-1.0zM449.7 232.7h1.0v1.0h-1.0zM425.5 252.5h1.0v1.0h-1.0zM439.9 240.4h1.0v1.0h-1.0zM434.5 247.4h1.0v1.0h-1.0zM430.9 232.7h1.0v1.0h-1.0zM427.7 253.6h1.0v1.0h-1.0zM421.1 251.4h1.0v1.0h-1.0zM460.9 222.3h1.0v1.0h-1.0zM424.4 256.5h1.0v1.0h-1.0zM435.8 246.8h1.0v1.0h-1.0zM454.9 228.1h1.0v1.0h-1.0zM443.4 238.8h1.0v1.0h-1.0zM462.9 219.8h1.0v1.0h-1.0zM468.2 214.3h1.0v1.0h-1.0zM423.4 256.6h1.0v1.0h-1.0zM455.1 213.3h1.0v1.0h-1.0zM437.5 244.6h1.0v1.0h-1.0zM430.8 251.4h1.0v1.0h-1.0zM440.8 237.2h1.0v1.0h-1.0zM424.8 256.4h1.0v1.0h-1.0zM427.0 254.8h1.0v1.0h-1.0zM447.8 232.8h1.0v1.0h-1.0zM471.1 209.7h1.0v1.0h-1.0zM440.2 242.6h1.0v1.0h-1.0zM436.8 209.5h1.0v1.0h-1.0zM431.7 250.8h1.0v1.0h-1.0zM424.7 255.7h1.0v1.0h-1.0zM415.9 256.6h1.0v1.0h-1.0zM431.5 250.5h1.0v1.0h-1.0zM428.9 250.1h1.0v1.0h-1.0zM426.5 247.2h1.0v1.0h-1.0zM463.5 211.1h1.0v1.0h-1.0zM417.5 249.7h1.0v1.0h-1.0zM453.7 226.4h1.0v1.0h-1.0zM432.3 247.4h1.0v1.0h-1.0zM426.1 255.4h1.0v1.0h-1.0zM440.5 242.2h1.0v1.0h-1.0zM427.5 251.9h1.0v1.0h-1.0zM460.2 220.0h1.0v1.0h-1.0zM425.8 255.4h1.0v1.0h-1.0zM465.8 217.5h1.0v1.0h-1.0zM414.2 255.7h1.0v1.0h-1.0zM438.0 243.5h1.0v1.0h-1.0zM415.4 256.3h1.0v1.0h-1.0zM441.2 229.1h1.0v1.0h-1.0zM451.1 230.8h1.0v1.0h-1.0zM422.6 251.0h1.0v1.0h-1.0zM424.4 253.4h1.0v1.0h-1.0zM421.1 256.4h1.0v1.0h-1.0zM453.8 222.9h1.0v1.0h-1.0zM450.8 230.0h1.0v1.0h-1.0zM434.8 246.4h1.0v1.0h-1.0zM425.9 251.8h1.0v1.0h-1.0zM435.2 245.3h1.0v1.0h-1.0zM438.5 240.8h1.0v1.0h-1.0zM444.2 238.3h1.0v1.0h-1.0zM427.9 254.3h1.0v1.0h-1.0zM430.5 248.6h1.0v1.0h-1.0zM443.2 237.8h1.0v1.0h-1.0zM427.9 254.4h1.0v1.0h-1.0zM426.9 250.4h1.0v1.0h-1.0zM427.0 253.8h1.0v1.0h-1.0zM433.0 247.0h1.0v1.0h-1.0zM434.5 247.2h1.0v1.0h-1.0zM427.2 253.9h1.0v1.0h-1.0zM425.6 230.1h1.0v1.0h-1.0zM432.1 249.8h1.0v1.0h-1.0zM416.1 244.6h1.0v1.0h-1.0zM424.7 256.6h1.0v1.0h-1.0zM425.5 255.9h1.0v1.0h-1.0zM436.3 246.4h1.0v1.0h-1.0zM430.7 249.3h1.0v1.0h-1.0zM426.0 255.7h1.0v1.0h-1.0zM436.7 244.7h1.0v1.0h-1.0zM431.2 250.5h1.0v1.0h-1.0zM422.4 256.2h1.0v1.0h-1.0zM432.3 243.6h1.0v1.0h-1.0zM461.9 210.0h1.0v1.0h-1.0zM425.3 254.2h1.0v1.0h-1.0zM458.1 222.5h1.0v1.0h-1.0zM453.3 228.5h1.0v1.0h-1.0zM421.2 255.4h1.0v1.0h-1.0zM428.6 253.6h1.0v1.0h-1.0zM425.9 253.8h1.0v1.0h-1.0zM448.2 231.6h1.0v1.0h-1.0zM452.6 230.5h1.0v1.0h-1.0zM434.6 244.9h1.0v1.0h-1.0zM451.5 230.1h1.0v1.0h-1.0zM448.3 222.0h1.0v1.0h-1.0zM425.9 254.5h1.0v1.0h-1.0zM416.4 245.1h1.0v1.0h-1.0zM414.2 251.1h1.0v1.0h-1.0zM427.9 254.6h1.0v1.0h-1.0zM427.4 254.2h1.0v1.0h-1.0zM420.0 251.6h1.0v1.0h-1.0zM429.7 251.1h1.0v1.0h-1.0zM431.4 249.7h1.0v1.0h-1.0zM445.5 235.8h1.0v1.0h-1.0zM425.0 255.1h1.0v1.0h-1.0zM435.0 243.9h1.0v1.0h-1.0zM443.2 228.9h1.0v1.0h-1.0zM428.5 253.4h1.0v1.0h-1.0zM420.5 252.3h1.0v1.0h-1.0zM442.7 235.8h1.0v1.0h-1.0zM453.7 220.1h1.0v1.0h-1.0zM426.1 255.0h1.0v1.0h-1.0zM439.0 243.8h1.0v1.0h-1.0zM432.5 239.2h1.0v1.0h-1.0zM432.7 249.9h1.0v1.0h-1.0zM455.9 225.7h1.0v1.0h-1.0zM426.5 255.1h1.0v1.0h-1.0zM420.0 256.3h1.0v1.0h-1.0zM420.8 255.9h1.0v1.0h-1.0zM423.7 243.4h1.0v1.0h-1.0zM427.7 254.0h1.0v1.0h-1.0zM418.0 252.2h1.0v1.0h-1.0zM435.8 244.9h1.0v1.0h-1.0zM427.6 234.6h1.0v1.0h-1.0zM418.8 255.2h1.0v1.0h-1.0zM442.2 230.6h1.0v1.0h-1.0zM427.7 249.7h1.0v1.0h-1.0zM452.2 230.4h1.0v1.0h-1.0zM432.9 248.4h1.0v1.0h-1.0zM425.7 254.0h1.0v1.0h-1.0zM428.7 253.6h1.0v1.0h-1.0zM421.8 250.9h1.0v1.0h-1.0zM443.1 236.4h1.0v1.0h-1.0zM453.1 216.3h1.0v1.0h-1.0zM431.1 221.1h1.0v1.0h-1.0zM453.0 213.1h1.0v1.0h-1.0zM419.4 256.2h1.0v1.0h-1.0zM431.2 251.0h1.0v1.0h-1.0zM447.3 233.8h1.0v1.0h-1.0zM430.9 248.7h1.0v1.0h-1.0zM449.3 233.6h1.0v1.0h-1.0zM420.9 256.3h1.0v1.0h-1.0zM437.1 244.8h1.0v1.0h-1.0zM447.7 232.5h1.0v1.0h-1.0zM427.4 254.2h1.0v1.0h-1.0zM442.3 240.1h1.0v1.0h-1.0zM431.0 250.6h1.0v1.0h-1.0zM445.8 220.8h1.0v1.0h-1.0zM469.4 214.1h1.0v1.0h-1.0zM427.1 215.6h1.0v1.0h-1.0zM449.2 218.7h1.0v1.0h-1.0zM448.3 234.5h1.0v1.0h-1.0zM438.8 241.9h1.0v1.0h-1.0zM431.3 250.2h1.0v1.0h-1.0zM438.0 243.8h1.0v1.0h-1.0zM419.8 240.9h1.0v1.0h-1.0zM430.3 249.2h1.0v1.0h-1.0zM436.8 245.6h1.0v1.0h-1.0zM431.0 251.5h1.0v1.0h-1.0zM422.8 253.7h1.0v1.0h-1.0zM431.1 248.2h1.0v1.0h-1.0zM433.7 248.3h1.0v1.0h-1.0zM454.0 225.3h1.0v1.0h-1.0zM426.8 255.0h1.0v1.0h-1.0zM454.3 226.9h1.0v1.0h-1.0zM460.3 222.3h1.0v1.0h-1.0zM448.0 234.7h1.0v1.0h-1.0zM425.0 253.4h1.0v1.0h-1.0zM440.6 242.2h1.0v1.0h-1.0zM430.4 251.8h1.0v1.0h-1.0zM425.6 251.7h1.0v1.0h-1.0zM436.5 244.9h1.0v1.0h-1.0zM423.4 255.5h1.0v1.0h-1.0zM415.6 235.4h1.0v1.0h-1.0zM426.1 253.1h1.0v1.0h-1.0zM441.7 240.8h1.0v1.0h-1.0zM460.4 219.4h1.0v1.0h-1.0zM419.5 256.6h1.0v1.0h-1.0zM433.2 248.4h1.0v1.0h-1.0zM436.9 245.7h1.0v1.0h-1.0zM428.3 250.0h1.0v1.0h-1.0zM429.5 252.0h1.0v1.0h-1.0zM445.5 223.2h1.0v1.0h-1.0zM447.4 234.0h1.0v1.0h-1.0zM433.6 248.0h1.0v1.0h-1.0zM439.6 241.9h1.0v1.0h-1.0zM423.9 254.6h1.0v1.0h-1.0zM440.1 241.4h1.0v1.0h-1.0zM426.0 255.9h1.0v1.0h-1.0zM429.9 250.5h1.0v1.0h-1.0zM425.6 256.6h1.0v1.0h-1.0zM448.7 230.6h1.0v1.0h-1.0zM438.7 241.6h1.0v1.0h-1.0zM451.5 229.7h1.0v1.0h-1.0zM440.0 237.8h1.0v1.0h-1.0zM422.2 256.0h1.0v1.0h-1.0zM428.3 250.0h1.0v1.0h-1.0zM440.1 242.7h1.0v1.0h-1.0zM430.0 230.0h1.0v1.0h-1.0zM424.2 255.7h1.0v1.0h-1.0zM453.9 226.8h1.0v1.0h-1.0zM437.8 244.8h1.0v1.0h-1.0zM429.9 251.4h1.0v1.0h-1.0zM444.6 236.5h1.0v1.0h-1.0zM414.2 248.8h1.0v1.0h-1.0zM423.2 256.7h1.0v1.0h-1.0zM424.9 247.0h1.0v1.0h-1.0zM425.5 256.6h1.0v1.0h-1.0zM418.2 254.0h1.0v1.0h-1.0zM426.6 255.7h1.0v1.0h-1.0zM420.6 232.7h1.0v1.0h-1.0zM424.5 256.3h1.0v1.0h-1.0zM462.7 213.5h1.0v1.0h-1.0zM419.1 256.5h1.0v1.0h-1.0zM430.4 252.0h1.0v1.0h-1.0zM421.4 249.9h1.0v1.0h-1.0zM422.4 253.7h1.0v1.0h-1.0zM437.0 244.3h1.0v1.0h-1.0zM432.7 249.8h1.0v1.0h-1.0zM425.5 254.6h1.0v1.0h-1.0zM446.0 234.2h1.0v1.0h-1.0zM434.0 247.0h1.0v1.0h-1.0zM431.4 249.8h1.0v1.0h-1.0zM440.7 241.7h1.0v1.0h-1.0zM440.4 239.3h1.0v1.0h-1.0zM434.2 247.9h1.0v1.0h-1.0zM419.9 255.8h1.0v1.0h-1.0zM421.2 256.7h1.0v1.0h-1.0zM432.3 249.2h1.0v1.0h-1.0zM427.8 253.6h1.0v1.0h-1.0zM463.2 219.4h1.0v1.0h-1.0zM438.7 242.8h1.0v1.0h-1.0zM449.9 232.8h1.0v1.0h-1.0zM442.5 217.9h1.0v1.0h-1.0zM455.1 210.3h1.0v1.0h-1.0zM423.1 256.6h1.0v1.0h-1.0zM427.5 254.4h1.0v1.0h-1.0zM432.0 250.1h1.0v1.0h-1.0zM420.2 250.2h1.0v1.0h-1.0zM436.0 231.3h1.0v1.0h-1.0zM417.0 253.5h1.0v1.0h-1.0zM414.9 233.0h1.0v1.0h-1.0zM426.2 255.5h1.0v1.0h-1.0zM425.0 253.3h1.0v1.0h-1.0zM427.1 253.6h1.0v1.0h-1.0zM435.8 245.8h1.0v1.0h-1.0zM429.6 251.4h1.0v1.0h-1.0zM463.6 219.0h1.0v1.0h-1.0zM424.5 256.6h1.0v1.0h-1.0zM423.6 233.5h1.0v1.0h-1.0zM425.8 252.7h1.0v1.0h-1.0zM416.7 254.3h1.0v1.0h-1.0zM440.2 242.4h1.0v1.0h-1.0zM435.4 245.3h1.0v1.0h-1.0zM442.7 238.5h1.0v1.0h-1.0zM418.9 254.6h1.0v1.0h-1.0zM424.4 251.5h1.0v1.0h-1.0zM424.7 254.9h1.0v1.0h-1.0zM435.7 246.9h1.0v1.0h-1.0zM433.1 248.7h1.0v1.0h-1.0zM420.7 256.1h1.0v1.0h-1.0zM457.8 219.3h1.0v1.0h-1.0zM432.5 211.7h1.0v1.0h-1.0zM430.5 248.9h1.0v1.0h-1.0zM432.9 244.0h1.0v1.0h-1.0zM426.5 255.6h1.0v1.0h-1.0zM427.0 254.9h1.0v1.0h-1.0zM419.9 240.5h1.0v1.0h-1.0zM444.9 235.8h1.0v1.0h-1.0zM429.2 252.9h1.0v1.0h-1.0zM425.3 254.8h1.0v1.0h-1.0zM428.0 252.7h1.0v1.0h-1.0zM443.9 222.5h1.0v1.0h-1.0zM432.8 246.5h1.0v1.0h-1.0zM432.1 248.5h1.0v1.0h-1.0zM427.0 251.0h1.0v1.0h-1.0zM442.8 238.5h1.0v1.0h-1.0zM442.4 239.1h1.0v1.0h-1.0zM419.1 253.9h1.0v1.0h-1.0zM425.9 256.5h1.0v1.0h-1.0zM441.3 236.8h1.0v1.0h-1.0zM425.1 256.4h1.0v1.0h-1.0zM427.8 243.3h1.0v1.0h-1.0zM428.1 253.0h1.0v1.0h-1.0zM439.6 243.1h1.0v1.0h-1.0zM441.9 240.7h1.0v1.0h-1.0zM431.0 242.9h1.0v1.0h-1.0zM426.6 236.6h1.0v1.0h-1.0zM438.4 242.6h1.0v1.0h-1.0zM426.7 253.9h1.0v1.0h-1.0zM435.4 246.7h1.0v1.0h-1.0zM421.5 256.1h1.0v1.0h-1.0zM427.7 239.1h1.0v1.0h-1.0zM435.3 245.0h1.0v1.0h-1.0zM425.4 243.6h1.0v1.0h-1.0zM433.1 242.2h1.0v1.0h-1.0zM435.2 236.8h1.0v1.0h-1.0zM429.6 252.8h1.0v1.0h-1.0zM429.3 251.5h1.0v1.0h-1.0zM430.0 247.7h1.0v1.0h-1.0zM454.8 225.5h1.0v1.0h-1.0zM434.7 247.3h1.0v1.0h-1.0zM434.2 247.3h1.0v1.0h-1.0zM424.7 256.6h1.0v1.0h-1.0zM427.5 253.9h1.0v1.0h-1.0zM428.3 238.3h1.0v1.0h-1.0zM431.5 250.9h1.0v1.0h-1.0zM426.9 255.4h1.0v1.0h-1.0zM416.7 252.6h1.0v1.0h-1.0zM446.8 234.8h1.0v1.0h-1.0zM438.3 244.1h1.0v1.0h-1.0zM427.9 252.7h1.0v1.0h-1.0zM430.6 251.1h1.0v1.0h-1.0zM432.8 241.8h1.0v1.0h-1.0zM422.9 256.3h1.0v1.0h-1.0zM432.2 246.4h1.0v1.0h-1.0zM427.9 250.6h1.0v1.0h-1.0zM429.9 251.6h1.0v1.0h-1.0zM430.7 251.1h1.0v1.0h-1.0zM447.8 232.2h1.0v1.0h-1.0zM423.0 250.0h1.0v1.0h-1.0zM414.7 253.2h1.0v1.0h-1.0zM424.6 231.8h1.0v1.0h-1.0zM436.8 214.9h1.0v1.0h-1.0zM425.2 252.8h1.0v1.0h-1.0zM427.5 252.9h1.0v1.0h-1.0zM444.4 238.4h1.0v1.0h-1.0zM424.9 253.2h1.0v1.0h-1.0zM416.5 233.4h1.0v1.0h-1.0zM439.8 240.2h1.0v1.0h-1.0zM425.1 251.9h1.0v1.0h-1.0zM441.9 231.1h1.0v1.0h-1.0zM421.3 256.4h1.0v1.0h-1.0zM421.0 254.6h1.0v1.0h-1.0zM460.9 221.3h1.0v1.0h-1.0zM432.3 248.1h1.0v1.0h-1.0zM465.6 211.8h1.0v1.0h-1.0zM451.9 213.2h1.0v1.0h-1.0zM436.7 224.1h1.0v1.0h-1.0zM438.7 242.2h1.0v1.0h-1.0zM459.2 216.7h1.0v1.0h-1.0zM422.9 254.7h1.0v1.0h-1.0zM455.2 221.4h1.0v1.0h-1.0zM419.0 229.3h1.0v1.0h-1.0zM465.7 214.8h1.0v1.0h-1.0zM456.4 224.8h1.0v1.0h-1.0zM427.5 249.8h1.0v1.0h-1.0zM429.0 248.4h1.0v1.0h-1.0zM420.9 255.9h1.0v1.0h-1.0zM423.7 254.4h1.0v1.0h-1.0zM438.2 242.4h1.0v1.0h-1.0zM432.4 249.5h1.0v1.0h-1.0zM445.2 234.8h1.0v1.0h-1.0zM456.3 221.5h1.0v1.0h-1.0zM421.5 247.5h1.0v1.0h-1.0zM465.0 217.0h1.0v1.0h-1.0zM443.8 237.7h1.0v1.0h-1.0zM427.0 254.4h1.0v1.0h-1.0zM447.7 235.2h1.0v1.0h-1.0zM425.3 256.4h1.0v1.0h-1.0zM445.8 236.9h1.0v1.0h-1.0zM427.1 254.0h1.0v1.0h-1.0zM461.7 219.9h1.0v1.0h-1.0zM434.2 240.9h1.0v1.0h-1.0zM447.5 233.2h1.0v1.0h-1.0zM453.0 229.9h1.0v1.0h-1.0zM437.9 242.1h1.0v1.0h-1.0zM432.0 242.9h1.0v1.0h-1.0zM442.6 239.9h1.0v1.0h-1.0zM427.8 252.7h1.0v1.0h-1.0zM434.3 248.0h1.0v1.0h-1.0zM421.2 255.7h1.0v1.0h-1.0zM426.1 256.3h1.0v1.0h-1.0zM424.5 255.9h1.0v1.0h-1.0zM427.6 254.8h1.0v1.0h-1.0zM463.6 218.3h1.0v1.0h-1.0zM414.7 253.5h1.0v1.0h-1.0zM425.8 253.5h1.0v1.0h-1.0zM425.8 249.6h1.0v1.0h-1.0zM456.7 213.5h1.0v1.0h-1.0zM433.5 246.4h1.0v1.0h-1.0zM433.9 248.5h1.0v1.0h-1.0zM436.7 245.7h1.0v1.0h-1.0zM426.3 255.9h1.0v1.0h-1.0zM429.0 225.4h1.0v1.0h-1.0zM434.8 245.7h1.0v1.0h-1.0zM452.8 229.9h1.0v1.0h-1.0zM437.4 222.8h1.0v1.0h-1.0zM416.1 255.0h1.0v1.0h-1.0zM431.8 245.1h1.0v1.0h-1.0zM434.0 247.8h1.0v1.0h-1.0zM432.4 250.2h1.0v1.0h-1.0zM413.9 255.5h1.0v1.0h-1.0zM453.7 229.0h1.0v1.0h-1.0zM421.4 254.8h1.0v1.0h-1.0zM440.6 241.2h1.0v1.0h-1.0zM428.0 249.5h1.0v1.0h-1.0zM414.0 255.1h1.0v1.0h-1.0zM426.3 251.1h1.0v1.0h-1.0zM426.0 251.2h1.0v1.0h-1.0zM423.6 256.1h1.0v1.0h-1.0zM427.9 253.1h1.0v1.0h-1.0zM422.9 256.6h1.0v1.0h-1.0zM440.6 235.9h1.0v1.0h-1.0zM436.3 245.3h1.0v1.0h-1.0zM425.5 254.8h1.0v1.0h-1.0zM427.5 253.4h1.0v1.0h-1.0zM426.4 255.9h1.0v1.0h-1.0zM426.0 252.6h1.0v1.0h-1.0zM418.3 243.5h1.0v1.0h-1.0zM457.2 219.6h1.0v1.0h-1.0zM442.3 213.7h1.0v1.0h-1.0zM414.5 254.8h1.0v1.0h-1.0zM444.8 238.0h1.0v1.0h-1.0zM436.4 240.3h1.0v1.0h-1.0zM434.8 247.4h1.0v1.0h-1.0zM445.1 237.5h1.0v1.0h-1.0zM418.8 246.4h1.0v1.0h-1.0zM434.3 221.2h1.0v1.0h-1.0zM439.1 219.0h1.0v1.0h-1.0zM439.4 234.3h1.0v1.0h-1.0zM426.1 253.8h1.0v1.0h-1.0zM429.2 242.5h1.0v1.0h-1.0zM433.6 245.1h1.0v1.0h-1.0zM440.0 242.5h1.0v1.0h-1.0zM427.4 247.8h1.0v1.0h-1.0zM441.1 239.7h1.0v1.0h-1.0zM464.2 217.7h1.0v1.0h-1.0zM426.6 255.1h1.0v1.0h-1.0zM433.2 246.5h1.0v1.0h-1.0zM447.2 234.0h1.0v1.0h-1.0zM432.5 248.7h1.0v1.0h-1.0zM432.4 247.1h1.0v1.0h-1.0zM427.7 246.4h1.0v1.0h-1.0zM433.9 244.4h1.0v1.0h-1.0zM427.0 251.6h1.0v1.0h-1.0zM433.3 241.7h1.0v1.0h-1.0zM415.2 231.2h1.0v1.0h-1.0zM473.3 209.6h1.0v1.0h-1.0zM429.6 247.4h1.0v1.0h-1.0zM444.5 237.2h1.0v1.0h-1.0zM426.4 256.0h1.0v1.0h-1.0zM429.2 252.1h1.0v1.0h-1.0zM437.7 242.5h1.0v1.0h-1.0zM419.4 236.2h1.0v1.0h-1.0zM438.7 240.3h1.0v1.0h-1.0zM419.9 248.1h1.0v1.0h-1.0zM430.7 211.5h1.0v1.0h-1.0zM428.7 253.8h1.0v1.0h-1.0zM444.4 237.9h1.0v1.0h-1.0zM428.9 252.9h1.0v1.0h-1.0zM417.0 255.7h1.0v1.0h-1.0zM428.3 252.8h1.0v1.0h-1.0zM422.9 253.0h1.0v1.0h-1.0zM424.6 256.6h1.0v1.0h-1.0zM418.9 255.6h1.0v1.0h-1.0zM422.4 224.3h1.0v1.0h-1.0zM464.8 218.6h1.0v1.0h-1.0zM432.2 250.1h1.0v1.0h-1.0zM425.9 252.5h1.0v1.0h-1.0zM429.7 243.0h1.0v1.0h-1.0zM428.7 253.7h1.0v1.0h-1.0zM443.7 236.9h1.0v1.0h-1.0zM425.7 250.8h1.0v1.0h-1.0zM445.2 235.9h1.0v1.0h-1.0zM445.6 236.1h1.0v1.0h-1.0zM415.8 244.8h1.0v1.0h-1.0zM427.6 252.9h1.0v1.0h-1.0zM439.1 239.3h1.0v1.0h-1.0zM427.4 254.5h1.0v1.0h-1.0zM430.7 251.4h1.0v1.0h-1.0zM426.7 255.3h1.0v1.0h-1.0zM439.0 240.6h1.0v1.0h-1.0zM427.7 226.6h1.0v1.0h-1.0zM438.2 243.6h1.0v1.0h-1.0zM448.1 225.2h1.0v1.0h-1.0zM431.9 250.0h1.0v1.0h-1.0zM453.4 229.1h1.0v1.0h-1.0zM430.0 250.4h1.0v1.0h-1.0zM427.6 249.9h1.0v1.0h-1.0zM424.1 231.6h1.0v1.0h-1.0zM426.8 255.0h1.0v1.0h-1.0zM424.6 256.0h1.0v1.0h-1.0zM455.8 223.9h1.0v1.0h-1.0zM442.5 239.6h1.0v1.0h-1.0zM425.8 248.4h1.0v1.0h-1.0zM432.2 244.8h1.0v1.0h-1.0zM423.3 256.1h1.0v1.0h-1.0zM426.3 255.3h1.0v1.0h-1.0zM422.1 248.6h1.0v1.0h-1.0zM451.1 231.9h1.0v1.0h-1.0zM428.7 248.3h1.0v1.0h-1.0zM436.6 226.7h1.0v1.0h-1.0zM424.4 256.1h1.0v1.0h-1.0zM423.0 254.9h1.0v1.0h-1.0zM426.0 255.9h1.0v1.0h-1.0zM442.0 240.7h1.0v1.0h-1.0zM431.3 251.1h1.0v1.0h-1.0zM441.9 238.9h1.0v1.0h-1.0zM438.7 242.5h1.0v1.0h-1.0zM421.0 251.1h1.0v1.0h-1.0zM429.7 234.3h1.0v1.0h-1.0zM436.8 244.9h1.0v1.0h-1.0zM427.0 254.4h1.0v1.0h-1.0zM427.5 254.5h1.0v1.0h-1.0zM451.5 230.8h1.0v1.0h-1.0zM428.6 253.0h1.0v1.0h-1.0zM426.3 250.4h1.0v1.0h-1.0zM429.0 253.4h1.0v1.0h-1.0zM473.8 209.6h1.0v1.0h-1.0zM423.7 246.7h1.0v1.0h-1.0zM431.7 249.2h1.0v1.0h-1.0zM430.5 251.5h1.0v1.0h-1.0zM441.8 235.1h1.0v1.0h-1.0zM431.7 249.2h1.0v1.0h-1.0zM427.4 254.3h1.0v1.0h-1.0zM425.5 253.4h1.0v1.0h-1.0zM426.5 253.3h1.0v1.0h-1.0zM430.3 251.6h1.0v1.0h-1.0zM429.8 252.0h1.0v1.0h-1.0zM451.8 230.6h1.0v1.0h-1.0zM424.1 256.5h1.0v1.0h-1.0zM426.1 253.7h1.0v1.0h-1.0zM438.6 244.0h1.0v1.0h-1.0zM418.0 220.6h1.0v1.0h-1.0zM425.5 254.9h1.0v1.0h-1.0zM429.1 252.9h1.0v1.0h-1.0zM456.7 226.1h1.0v1.0h-1.0zM428.2 253.6h1.0v1.0h-1.0zM432.5 245.8h1.0v1.0h-1.0zM428.5 253.1h1.0v1.0h-1.0zM431.1 247.7h1.0v1.0h-1.0zM430.8 244.4h1.0v1.0h-1.0zM426.3 255.9h1.0v1.0h-1.0zM434.4 245.7h1.0v1.0h-1.0zM434.1 241.0h1.0v1.0h-1.0zM450.5 232.4h1.0v1.0h-1.0zM437.1 243.9h1.0v1.0h-1.0zM429.3 242.9h1.0v1.0h-1.0zM416.1 253.7h1.0v1.0h-1.0zM423.3 245.1h1.0v1.0h-1.0zM425.1 252.7h1.0v1.0h-1.0zM451.7 231.4h1.0v1.0h-1.0zM428.6 249.9h1.0v1.0h-1.0zM452.0 223.5h1.0v1.0h-1.0zM424.0 252.7h1.0v1.0h-1.0zM447.6 235.1h1.0v1.0h-1.0zM423.1 256.3h1.0v1.0h-1.0zM418.8 235.1h1.0v1.0h-1.0zM425.7 256.6h1.0v1.0h-1.0zM426.6 254.7h1.0v1.0h-1.0zM428.0 253.1h1.0v1.0h-1.0zM439.8 242.3h1.0v1.0h-1.0zM451.7 231.4h1.0v1.0h-1.0zM426.7 255.4h1.0v1.0h-1.0zM438.3 237.9h1.0v1.0h-1.0zM416.2 250.9h1.0v1.0h-1.0zM432.4 249.3h1.0v1.0h-1.0zM422.8 251.8h1.0v1.0h-1.0zM437.1 245.0h1.0v1.0h-1.0zM433.3 245.4h1.0v1.0h-1.0zM424.3 232.4h1.0v1.0h-1.0zM430.7 219.3h1.0v1.0h-1.0zM420.1 227.3h1.0v1.0h-1.0zM446.5 236.0h1.0v1.0h-1.0zM423.1 254.0h1.0v1.0h-1.0zM428.9 252.5h1.0v1.0h-1.0zM427.5 253.9h1.0v1.0h-1.0zM428.1 253.3h1.0v1.0h-1.0zM426.5 248.7h1.0v1.0h-1.0zM436.7 241.4h1.0v1.0h-1.0zM426.7 250.1h1.0v1.0h-1.0zM428.9 253.5h1.0v1.0h-1.0zM434.1 248.4h1.0v1.0h-1.0zM429.4 250.3h1.0v1.0h-1.0zM416.3 242.7h1.0v1.0h-1.0zM418.6 256.6h1.0v1.0h-1.0zM416.0 255.0h1.0v1.0h-1.0zM448.9 233.6h1.0v1.0h-1.0zM437.9 242.1h1.0v1.0h-1.0zM456.9 224.7h1.0v1.0h-1.0zM435.7 246.1h1.0v1.0h-1.0zM426.8 255.4h1.0v1.0h-1.0zM425.1 224.1h1.0v1.0h-1.0zM435.0 245.5h1.0v1.0h-1.0zM430.1 252.2h1.0v1.0h-1.0zM428.7 252.3h1.0v1.0h-1.0zM421.4 254.6h1.0v1.0h-1.0zM429.2 252.8h1.0v1.0h-1.0zM433.2 213.6h1.0v1.0h-1.0zM426.9 254.1h1.0v1.0h-1.0zM428.8 253.3h1.0v1.0h-1.0zM428.9 253.6h1.0v1.0h-1.0zM422.2 256.1h1.0v1.0h-1.0zM460.9 221.3h1.0v1.0h-1.0zM446.0 234.2h1.0v1.0h-1.0zM424.5 254.3h1.0v1.0h-1.0zM443.9 238.8h1.0v1.0h-1.0zM434.4 247.6h1.0v1.0h-1.0zM422.8 256.5h1.0v1.0h-1.0zM469.0 214.2h1.0v1.0h-1.0zM419.4 256.1h1.0v1.0h-1.0zM428.4 241.1h1.0v1.0h-1.0zM430.2 250.0h1.0v1.0h-1.0zM439.3 241.4h1.0v1.0h-1.0zM427.5 254.5h1.0v1.0h-1.0zM424.5 230.8h1.0v1.0h-1.0zM428.1 253.3h1.0v1.0h-1.0zM431.4 245.2h1.0v1.0h-1.0zM414.9 246.9h1.0v1.0h-1.0zM426.4 254.8h1.0v1.0h-1.0zM422.7 244.2h1.0v1.0h-1.0zM423.6 243.0h1.0v1.0h-1.0zM428.0 250.7h1.0v1.0h-1.0zM428.3 253.6h1.0v1.0h-1.0zM425.9 255.9h1.0v1.0h-1.0zM423.4 255.6h1.0v1.0h-1.0zM460.6 214.6h1.0v1.0h-1.0zM449.7 231.9h1.0v1.0h-1.0zM426.9 255.5h1.0v1.0h-1.0zM446.9 235.4h1.0v1.0h-1.0zM443.0 239.7h1.0v1.0h-1.0zM422.1 255.9h1.0v1.0h-1.0zM439.0 241.6h1.0v1.0h-1.0zM441.7 239.9h1.0v1.0h-1.0zM433.1 248.2h1.0v1.0h-1.0zM423.6 255.5h1.0v1.0h-1.0zM423.5 255.1h1.0v1.0h-1.0zM430.8 251.6h1.0v1.0h-1.0zM434.8 246.5h1.0v1.0h-1.0zM422.4 253.0h1.0v1.0h-1.0zM468.3 214.0h1.0v1.0h-1.0zM445.8 236.3h1.0v1.0h-1.0zM426.2 256.0h1.0v1.0h-1.0zM426.5 252.1h1.0v1.0h-1.0zM420.3 252.1h1.0v1.0h-1.0zM421.2 256.3h1.0v1.0h-1.0zM445.2 235.2h1.0v1.0h-1.0zM447.1 226.5h1.0v1.0h-1.0zM430.0 250.7h1.0v1.0h-1.0zM426.0 256.4h1.0v1.0h-1.0zM427.5 253.8h1.0v1.0h-1.0zM443.8 218.6h1.0v1.0h-1.0zM434.2 247.8h1.0v1.0h-1.0zM423.6 256.5h1.0v1.0h-1.0zM426.8 255.6h1.0v1.0h-1.0zM427.6 254.5h1.0v1.0h-1.0zM432.8 249.7h1.0v1.0h-1.0zM423.7 256.5h1.0v1.0h-1.0zM428.5 252.8h1.0v1.0h-1.0zM425.9 253.9h1.0v1.0h-1.0zM426.2 253.7h1.0v1.0h-1.0zM441.2 241.2h1.0v1.0h-1.0zM422.5 255.4h1.0v1.0h-1.0zM439.0 241.5h1.0v1.0h-1.0zM428.3 252.7h1.0v1.0h-1.0zM425.1 250.4h1.0v1.0h-1.0zM445.7 227.4h1.0v1.0h-1.0zM414.4 252.6h1.0v1.0h-1.0zM429.1 251.5h1.0v1.0h-1.0zM432.9 248.5h1.0v1.0h-1.0zM453.9 226.1h1.0v1.0h-1.0zM421.8 254.1h1.0v1.0h-1.0zM462.8 216.5h1.0v1.0h-1.0zM419.3 252.6h1.0v1.0h-1.0zM426.1 255.6h1.0v1.0h-1.0zM451.4 231.1h1.0v1.0h-1.0zM416.6 254.4h1.0v1.0h-1.0zM471.7 211.0h1.0v1.0h-1.0zM436.4 244.9h1.0v1.0h-1.0zM419.1 245.4h1.0v1.0h-1.0zM426.6 253.7h1.0v1.0h-1.0zM418.1 250.4h1.0v1.0h-1.0zM420.7 256.7h1.0v1.0h-1.0zM430.7 251.1h1.0v1.0h-1.0zM433.0 241.8h1.0v1.0h-1.0zM422.3 255.5h1.0v1.0h-1.0zM458.8 224.4h1.0v1.0h-1.0zM436.0 243.2h1.0v1.0h-1.0zM427.9 250.6h1.0v1.0h-1.0zM415.6 251.3h1.0v1.0h-1.0zM446.9 234.3h1.0v1.0h-1.0zM446.3 234.7h1.0v1.0h-1.0zM418.1 247.0h1.0v1.0h-1.0z" fill="#e2301c" fill-opacity="0.85"/>
<path d="M454.8 239.6h1.05v1.05h-1.05zM443.2 254.1h1.05v1.05h-1.05zM473.0 225.9h1.05v1.05h-1.05zM458.0 236.4h1.05v1.05h-1.05zM453.6 246.2h1.05v1.05h-1.05zM438.0 256.8h1.05v1.05h-1.05zM448.0 250.4h1.05v1.05h-1.05zM433.8 260.7h1.05v1.05h-1.05zM449.8 247.5h1.05v1.05h-1.05zM473.5 220.9h1.05v1.05h-1.05zM473.7 222.0h1.05v1.05h-1.05zM468.4 226.2h1.05v1.05h-1.05zM443.1 251.6h1.05v1.05h-1.05zM456.5 240.1h1.05v1.05h-1.05zM436.3 259.6h1.05v1.05h-1.05zM436.0 259.8h1.05v1.05h-1.05zM456.2 238.5h1.05v1.05h-1.05zM463.7 230.6h1.05v1.05h-1.05zM432.2 261.3h1.05v1.05h-1.05zM440.0 254.1h1.05v1.05h-1.05zM453.2 243.7h1.05v1.05h-1.05zM455.9 238.1h1.05v1.05h-1.05zM443.9 250.0h1.05v1.05h-1.05zM467.0 229.4h1.05v1.05h-1.05zM454.5 240.9h1.05v1.05h-1.05zM458.7 237.9h1.05v1.05h-1.05zM436.4 262.4h1.05v1.05h-1.05zM436.8 257.1h1.05v1.05h-1.05zM443.0 253.0h1.05v1.05h-1.05zM457.1 236.8h1.05v1.05h-1.05zM462.5 238.1h1.05v1.05h-1.05zM477.8 217.3h1.05v1.05h-1.05zM442.3 251.8h1.05v1.05h-1.05zM434.0 264.7h1.05v1.05h-1.05zM462.4 234.5h1.05v1.05h-1.05zM450.8 248.7h1.05v1.05h-1.05zM431.3 264.5h1.05v1.05h-1.05zM477.4 218.9h1.05v1.05h-1.05zM456.0 239.5h1.05v1.05h-1.05zM431.6 264.2h1.05v1.05h-1.05zM441.0 258.8h1.05v1.05h-1.05zM455.5 238.5h1.05v1.05h-1.05zM439.8 260.2h1.05v1.05h-1.05zM434.9 259.0h1.05v1.05h-1.05zM473.2 222.4h1.05v1.05h-1.05zM432.4 261.1h1.05v1.05h-1.05zM450.8 254.1h1.05v1.05h-1.05zM435.3 264.6h1.05v1.05h-1.05zM454.5 241.4h1.05v1.05h-1.05zM432.0 262.4h1.05v1.05h-1.05zM445.9 248.6h1.05v1.05h-1.05zM453.5 244.6h1.05v1.05h-1.05zM451.5 246.2h1.05v1.05h-1.05zM442.6 252.0h1.05v1.05h-1.05zM459.6 234.8h1.05v1.05h-1.05zM457.1 238.5h1.05v1.05h-1.05zM437.0 259.9h1.05v1.05h-1.05zM476.7 218.5h1.05v1.05h-1.05zM471.3 224.3h1.05v1.05h-1.05zM461.4 233.2h1.05v1.05h-1.05zM436.7 258.5h1.05v1.05h-1.05zM449.9 244.5h1.05v1.05h-1.05zM447.3 247.4h1.05v1.05h-1.05zM433.1 265.1h1.05v1.05h-1.05zM472.0 223.8h1.05v1.05h-1.05zM438.9 257.8h1.05v1.05h-1.05zM473.6 226.8h1.05v1.05h-1.05zM473.4 221.2h1.05v1.05h-1.05zM431.4 262.2h1.05v1.05h-1.05zM437.3 257.0h1.05v1.05h-1.05zM473.5 222.5h1.05v1.05h-1.05zM447.2 249.0h1.05v1.05h-1.05zM476.0 221.3h1.05v1.05h-1.05zM456.6 238.2h1.05v1.05h-1.05zM442.9 251.3h1.05v1.05h-1.05zM461.4 234.3h1.05v1.05h-1.05zM452.7 242.4h1.05v1.05h-1.05zM434.7 259.5h1.05v1.05h-1.05zM438.5 255.4h1.05v1.05h-1.05zM431.8 263.0h1.05v1.05h-1.05zM472.7 224.6h1.05v1.05h-1.05zM476.3 219.6h1.05v1.05h-1.05zM445.6 249.4h1.05v1.05h-1.05zM432.0 261.5h1.05v1.05h-1.05zM433.1 260.4h1.05v1.05h-1.05zM436.3 264.4h1.05v1.05h-1.05zM474.6 220.2h1.05v1.05h-1.05zM451.3 245.0h1.05v1.05h-1.05zM475.0 219.6h1.05v1.05h-1.05zM460.0 235.3h1.05v1.05h-1.05zM455.5 242.6h1.05v1.05h-1.05zM448.9 249.0h1.05v1.05h-1.05zM433.6 260.2h1.05v1.05h-1.05zM434.4 260.9h1.05v1.05h-1.05zM450.4 248.4h1.05v1.05h-1.05zM469.6 226.8h1.05v1.05h-1.05zM435.0 260.9h1.05v1.05h-1.05zM461.7 234.1h1.05v1.05h-1.05zM440.2 254.1h1.05v1.05h-1.05zM439.2 255.5h1.05v1.05h-1.05zM462.3 232.8h1.05v1.05h-1.05zM443.1 251.2h1.05v1.05h-1.05zM462.4 234.3h1.05v1.05h-1.05zM461.8 232.3h1.05v1.05h-1.05zM436.7 259.3h1.05v1.05h-1.05zM440.2 254.3h1.05v1.05h-1.05zM441.8 253.1h1.05v1.05h-1.05zM477.2 219.0h1.05v1.05h-1.05zM437.0 258.3h1.05v1.05h-1.05zM461.4 236.3h1.05v1.05h-1.05zM440.3 254.8h1.05v1.05h-1.05zM466.1 228.9h1.05v1.05h-1.05zM467.9 230.6h1.05v1.05h-1.05zM444.2 251.5h1.05v1.05h-1.05zM459.4 238.6h1.05v1.05h-1.05zM473.5 221.4h1.05v1.05h-1.05zM463.9 230.7h1.05v1.05h-1.05zM456.6 237.8h1.05v1.05h-1.05zM453.1 244.4h1.05v1.05h-1.05zM467.6 236.0h1.05v1.05h-1.05zM472.1 229.0h1.05v1.05h-1.05zM443.2 251.0h1.05v1.05h-1.05zM458.6 235.6h1.05v1.05h-1.05zM447.1 246.8h1.05v1.05h-1.05zM434.4 258.9h1.05v1.05h-1.05zM464.2 231.3h1.05v1.05h-1.05zM467.6 228.4h1.05v1.05h-1.05zM454.5 240.0h1.05v1.05h-1.05zM470.7 224.0h1.05v1.05h-1.05zM444.8 249.6h1.05v1.05h-1.05zM432.2 262.3h1.05v1.05h-1.05zM443.9 253.6h1.05v1.05h-1.05zM442.0 252.0h1.05v1.05h-1.05zM447.7 249.5h1.05v1.05h-1.05zM440.1 254.4h1.05v1.05h-1.05zM433.4 260.0h1.05v1.05h-1.05zM433.1 260.4h1.05v1.05h-1.05zM463.2 232.2h1.05v1.05h-1.05zM439.7 262.5h1.05v1.05h-1.05zM448.5 246.4h1.05v1.05h-1.05zM466.4 228.4h1.05v1.05h-1.05zM436.2 262.3h1.05v1.05h-1.05zM464.7 229.9h1.05v1.05h-1.05zM468.7 226.4h1.05v1.05h-1.05zM456.8 241.3h1.05v1.05h-1.05zM432.3 261.7h1.05v1.05h-1.05zM476.8 218.1h1.05v1.05h-1.05zM439.9 254.7h1.05v1.05h-1.05zM438.3 255.2h1.05v1.05h-1.05zM446.2 248.7h1.05v1.05h-1.05zM444.2 251.9h1.05v1.05h-1.05zM457.6 238.4h1.05v1.05h-1.05zM466.4 229.9h1.05v1.05h-1.05zM448.2 249.0h1.05v1.05h-1.05zM447.0 247.1h1.05v1.05h-1.05zM464.4 230.1h1.05v1.05h-1.05zM435.7 260.8h1.05v1.05h-1.05zM441.0 252.8h1.05v1.05h-1.05zM450.3 244.4h1.05v1.05h-1.05zM477.9 217.4h1.05v1.05h-1.05zM476.3 219.3h1.05v1.05h-1.05zM472.9 224.6h1.05v1.05h-1.05zM467.9 230.5h1.05v1.05h-1.05zM440.3 253.8h1.05v1.05h-1.05zM434.4 260.5h1.05v1.05h-1.05zM461.7 233.0h1.05v1.05h-1.05zM461.5 232.9h1.05v1.05h-1.05zM470.6 223.7h1.05v1.05h-1.05zM437.6 257.5h1.05v1.05h-1.05zM433.5 261.9h1.05v1.05h-1.05zM473.7 227.5h1.05v1.05h-1.05zM442.3 251.3h1.05v1.05h-1.05zM438.6 260.6h1.05v1.05h-1.05zM477.9 218.6h1.05v1.05h-1.05zM445.7 249.4h1.05v1.05h-1.05zM433.9 259.9h1.05v1.05h-1.05zM465.4 229.1h1.05v1.05h-1.05zM467.0 228.5h1.05v1.05h-1.05zM440.5 255.8h1.05v1.05h-1.05zM473.4 224.9h1.05v1.05h-1.05zM462.8 231.2h1.05v1.05h-1.05zM432.3 262.9h1.05v1.05h-1.05zM460.5 234.3h1.05v1.05h-1.05zM451.8 247.0h1.05v1.05h-1.05zM434.1 259.5h1.05v1.05h-1.05zM454.3 247.9h1.05v1.05h-1.05zM432.1 262.1h1.05v1.05h-1.05zM446.5 254.6h1.05v1.05h-1.05zM451.7 242.1h1.05v1.05h-1.05zM452.9 243.0h1.05v1.05h-1.05zM445.6 254.5h1.05v1.05h-1.05zM469.5 226.7h1.05v1.05h-1.05zM473.1 223.1h1.05v1.05h-1.05zM433.9 260.8h1.05v1.05h-1.05zM434.5 259.6h1.05v1.05h-1.05zM436.9 260.3h1.05v1.05h-1.05zM434.0 261.6h1.05v1.05h-1.05zM438.1 256.6h1.05v1.05h-1.05zM457.6 238.7h1.05v1.05h-1.05zM439.2 254.4h1.05v1.05h-1.05zM433.7 263.6h1.05v1.05h-1.05zM453.8 240.0h1.05v1.05h-1.05zM432.7 263.0h1.05v1.05h-1.05zM437.6 257.2h1.05v1.05h-1.05zM431.2 262.0h1.05v1.05h-1.05zM448.3 247.5h1.05v1.05h-1.05zM475.4 219.4h1.05v1.05h-1.05zM433.0 264.5h1.05v1.05h-1.05zM432.5 261.4h1.05v1.05h-1.05zM464.1 230.3h1.05v1.05h-1.05zM468.8 228.1h1.05v1.05h-1.05zM432.0 262.0h1.05v1.05h-1.05zM456.0 249.3h1.05v1.05h-1.05zM448.8 245.5h1.05v1.05h-1.05zM434.3 260.0h1.05v1.05h-1.05zM471.6 226.2h1.05v1.05h-1.05zM441.5 255.9h1.05v1.05h-1.05zM437.9 258.6h1.05v1.05h-1.05zM435.4 258.7h1.05v1.05h-1.05zM465.9 228.7h1.05v1.05h-1.05zM446.4 248.1h1.05v1.05h-1.05zM436.1 258.0h1.05v1.05h-1.05zM474.9 225.0h1.05v1.05h-1.05zM435.4 261.7h1.05v1.05h-1.05zM435.8 260.1h1.05v1.05h-1.05zM449.4 247.7h1.05v1.05h-1.05zM442.4 252.5h1.05v1.05h-1.05zM445.6 249.4h1.05v1.05h-1.05zM440.9 255.2h1.05v1.05h-1.05zM465.2 230.5h1.05v1.05h-1.05zM442.7 250.9h1.05v1.05h-1.05zM466.3 231.0h1.05v1.05h-1.05zM456.3 241.2h1.05v1.05h-1.05zM467.1 231.2h1.05v1.05h-1.05zM471.7 225.7h1.05v1.05h-1.05zM436.9 256.8h1.05v1.05h-1.05zM446.3 247.5h1.05v1.05h-1.05zM440.5 259.5h1.05v1.05h-1.05zM448.4 245.7h1.05v1.05h-1.05zM436.3 257.4h1.05v1.05h-1.05zM440.0 256.6h1.05v1.05h-1.05zM471.5 224.8h1.05v1.05h-1.05zM469.2 227.3h1.05v1.05h-1.05zM444.9 249.1h1.05v1.05h-1.05zM460.8 233.6h1.05v1.05h-1.05zM433.8 261.6h1.05v1.05h-1.05zM463.8 232.0h1.05v1.05h-1.05zM433.3 260.7h1.05v1.05h-1.05zM431.5 262.7h1.05v1.05h-1.05zM474.9 219.6h1.05v1.05h-1.05zM458.6 237.3h1.05v1.05h-1.05zM433.4 262.1h1.05v1.05h-1.05zM440.7 253.8h1.05v1.05h-1.05zM460.8 235.1h1.05v1.05h-1.05zM434.5 261.4h1.05v1.05h-1.05zM462.1 232.1h1.05v1.05h-1.05zM461.6 234.0h1.05v1.05h-1.05zM466.4 227.9h1.05v1.05h-1.05zM464.5 230.0h1.05v1.05h-1.05zM463.6 237.2h1.05v1.05h-1.05zM432.0 261.7h1.05v1.05h-1.05zM451.5 243.2h1.05v1.05h-1.05zM458.2 236.2h1.05v1.05h-1.05zM468.9 228.5h1.05v1.05h-1.05zM432.2 261.5h1.05v1.05h-1.05zM466.5 228.9h1.05v1.05h-1.05zM440.7 253.8h1.05v1.05h-1.05zM463.4 231.0h1.05v1.05h-1.05zM457.0 238.4h1.05v1.05h-1.05zM434.9 261.4h1.05v1.05h-1.05zM437.7 256.6h1.05v1.05h-1.05zM435.8 260.2h1.05v1.05h-1.05zM433.0 260.5h1.05v1.05h-1.05zM476.4 219.5h1.05v1.05h-1.05zM441.1 253.8h1.05v1.05h-1.05zM459.8 242.7h1.05v1.05h-1.05zM454.3 241.1h1.05v1.05h-1.05zM443.6 250.6h1.05v1.05h-1.05zM453.3 241.0h1.05v1.05h-1.05zM431.8 264.5h1.05v1.05h-1.05zM440.4 256.6h1.05v1.05h-1.05zM461.1 233.1h1.05v1.05h-1.05zM445.9 247.8h1.05v1.05h-1.05zM467.0 227.2h1.05v1.05h-1.05zM439.7 254.8h1.05v1.05h-1.05zM473.5 221.1h1.05v1.05h-1.05zM460.0 235.0h1.05v1.05h-1.05zM432.3 264.0h1.05v1.05h-1.05zM468.6 227.5h1.05v1.05h-1.05zM459.9 234.7h1.05v1.05h-1.05zM466.0 228.7h1.05v1.05h-1.05zM449.4 245.0h1.05v1.05h-1.05zM451.5 247.4h1.05v1.05h-1.05zM457.2 237.6h1.05v1.05h-1.05zM438.5 256.1h1.05v1.05h-1.05zM438.6 255.2h1.05v1.05h-1.05zM471.3 224.7h1.05v1.05h-1.05zM456.7 238.6h1.05v1.05h-1.05zM435.8 257.6h1.05v1.05h-1.05zM439.1 257.5h1.05v1.05h-1.05zM436.5 258.5h1.05v1.05h-1.05zM432.1 262.7h1.05v1.05h-1.05zM454.4 246.6h1.05v1.05h-1.05zM432.4 264.0h1.05v1.05h-1.05zM463.3 232.9h1.05v1.05h-1.05zM448.1 245.6h1.05v1.05h-1.05zM435.3 262.6h1.05v1.05h-1.05zM476.9 219.5h1.05v1.05h-1.05zM458.7 236.3h1.05v1.05h-1.05zM434.1 259.4h1.05v1.05h-1.05zM436.8 259.2h1.05v1.05h-1.05zM458.8 236.2h1.05v1.05h-1.05zM465.1 234.7h1.05v1.05h-1.05zM441.7 252.8h1.05v1.05h-1.05zM472.3 223.9h1.05v1.05h-1.05zM440.6 253.5h1.05v1.05h-1.05zM460.8 237.7h1.05v1.05h-1.05zM465.9 228.2h1.05v1.05h-1.05zM432.4 262.4h1.05v1.05h-1.05zM433.8 261.4h1.05v1.05h-1.05zM431.3 264.7h1.05v1.05h-1.05zM435.7 259.9h1.05v1.05h-1.05zM461.8 232.6h1.05v1.05h-1.05zM475.8 220.0h1.05v1.05h-1.05zM466.2 229.0h1.05v1.05h-1.05zM440.3 257.3h1.05v1.05h-1.05zM436.4 262.8h1.05v1.05h-1.05zM435.5 261.7h1.05v1.05h-1.05zM443.7 251.3h1.05v1.05h-1.05zM461.8 244.5h1.05v1.05h-1.05zM432.9 262.4h1.05v1.05h-1.05zM472.8 223.2h1.05v1.05h-1.05zM453.9 241.5h1.05v1.05h-1.05zM451.5 244.5h1.05v1.05h-1.05zM460.4 240.1h1.05v1.05h-1.05zM448.5 250.2h1.05v1.05h-1.05zM466.4 229.3h1.05v1.05h-1.05zM434.0 259.7h1.05v1.05h-1.05zM463.1 231.2h1.05v1.05h-1.05zM456.3 237.7h1.05v1.05h-1.05zM474.6 219.8h1.05v1.05h-1.05zM453.1 241.0h1.05v1.05h-1.05zM447.9 246.7h1.05v1.05h-1.05zM432.3 263.7h1.05v1.05h-1.05zM443.8 250.9h1.05v1.05h-1.05zM461.6 240.1h1.05v1.05h-1.05zM432.6 261.3h1.05v1.05h-1.05zM455.4 238.7h1.05v1.05h-1.05zM443.7 250.4h1.05v1.05h-1.05zM471.5 223.6h1.05v1.05h-1.05zM453.3 241.0h1.05v1.05h-1.05zM458.5 236.1h1.05v1.05h-1.05zM466.0 228.6h1.05v1.05h-1.05zM437.4 256.2h1.05v1.05h-1.05zM432.7 262.5h1.05v1.05h-1.05zM438.3 256.1h1.05v1.05h-1.05zM444.2 253.9h1.05v1.05h-1.05zM469.8 226.4h1.05v1.05h-1.05zM466.1 228.5h1.05v1.05h-1.05zM451.4 247.6h1.05v1.05h-1.05zM434.6 266.3h1.05v1.05h-1.05zM464.4 230.1h1.05v1.05h-1.05zM471.9 223.1h1.05v1.05h-1.05zM448.8 245.5h1.05v1.05h-1.05zM471.8 222.8h1.05v1.05h-1.05zM476.2 226.0h1.05v1.05h-1.05zM455.2 239.0h1.05v1.05h-1.05zM467.8 228.2h1.05v1.05h-1.05zM470.2 227.7h1.05v1.05h-1.05zM455.6 239.0h1.05v1.05h-1.05zM434.8 261.4h1.05v1.05h-1.05zM433.1 260.8h1.05v1.05h-1.05zM446.8 247.0h1.05v1.05h-1.05zM462.0 232.5h1.05v1.05h-1.05zM438.7 254.7h1.05v1.05h-1.05zM475.0 219.4h1.05v1.05h-1.05zM452.4 242.2h1.05v1.05h-1.05zM431.8 262.3h1.05v1.05h-1.05zM433.1 264.6h1.05v1.05h-1.05zM435.9 258.0h1.05v1.05h-1.05zM432.5 261.5h1.05v1.05h-1.05zM457.3 238.4h1.05v1.05h-1.05zM433.3 260.1h1.05v1.05h-1.05zM464.9 234.4h1.05v1.05h-1.05zM470.3 225.3h1.05v1.05h-1.05zM441.1 253.2h1.05v1.05h-1.05zM454.7 241.0h1.05v1.05h-1.05zM464.9 231.2h1.05v1.05h-1.05zM435.8 258.3h1.05v1.05h-1.05zM454.7 240.7h1.05v1.05h-1.05zM431.9 264.6h1.05v1.05h-1.05zM433.9 261.5h1.05v1.05h-1.05zM434.1 260.3h1.05v1.05h-1.05zM433.3 263.0h1.05v1.05h-1.05zM432.0 262.1h1.05v1.05h-1.05zM443.5 251.4h1.05v1.05h-1.05zM431.6 262.2h1.05v1.05h-1.05zM477.4 217.9h1.05v1.05h-1.05zM432.7 265.0h1.05v1.05h-1.05zM461.1 236.7h1.05v1.05h-1.05zM435.8 258.2h1.05v1.05h-1.05zM469.9 224.4h1.05v1.05h-1.05zM433.1 262.7h1.05v1.05h-1.05zM438.9 262.2h1.05v1.05h-1.05zM450.0 245.6h1.05v1.05h-1.05zM445.1 249.0h1.05v1.05h-1.05zM443.4 251.0h1.05v1.05h-1.05zM447.5 247.8h1.05v1.05h-1.05zM471.2 225.2h1.05v1.05h-1.05zM433.5 259.9h1.05v1.05h-1.05zM459.5 236.9h1.05v1.05h-1.05zM466.9 230.8h1.05v1.05h-1.05zM432.6 265.0h1.05v1.05h-1.05zM434.9 258.8h1.05v1.05h-1.05zM461.1 236.6h1.05v1.05h-1.05zM455.7 247.9h1.05v1.05h-1.05zM460.0 234.3h1.05v1.05h-1.05zM450.0 248.6h1.05v1.05h-1.05zM441.6 253.0h1.05v1.05h-1.05zM464.1 230.7h1.05v1.05h-1.05zM464.2 232.1h1.05v1.05h-1.05zM466.5 228.4h1.05v1.05h-1.05zM460.5 235.6h1.05v1.05h-1.05zM470.5 225.2h1.05v1.05h-1.05zM433.3 260.9h1.05v1.05h-1.05zM433.5 260.6h1.05v1.05h-1.05zM457.7 238.2h1.05v1.05h-1.05zM476.5 227.9h1.05v1.05h-1.05zM434.9 260.9h1.05v1.05h-1.05zM445.5 252.2h1.05v1.05h-1.05zM460.3 234.9h1.05v1.05h-1.05zM432.4 261.1h1.05v1.05h-1.05zM455.0 240.2h1.05v1.05h-1.05zM438.1 255.8h1.05v1.05h-1.05zM459.0 235.3h1.05v1.05h-1.05zM465.0 229.6h1.05v1.05h-1.05zM432.0 261.6h1.05v1.05h-1.05zM470.3 225.8h1.05v1.05h-1.05zM433.7 260.1h1.05v1.05h-1.05zM455.9 240.6h1.05v1.05h-1.05zM436.6 260.7h1.05v1.05h-1.05zM440.5 256.2h1.05v1.05h-1.05zM468.0 229.3h1.05v1.05h-1.05zM433.5 262.1h1.05v1.05h-1.05zM440.8 253.0h1.05v1.05h-1.05zM444.1 251.7h1.05v1.05h-1.05zM464.0 239.6h1.05v1.05h-1.05zM476.0 219.1h1.05v1.05h-1.05zM457.7 237.1h1.05v1.05h-1.05zM461.5 232.6h1.05v1.05h-1.05zM473.6 222.0h1.05v1.05h-1.05zM438.7 259.2h1.05v1.05h-1.05zM444.5 250.9h1.05v1.05h-1.05zM451.4 243.4h1.05v1.05h-1.05zM474.0 220.4h1.05v1.05h-1.05zM445.3 251.5h1.05v1.05h-1.05zM434.6 264.6h1.05v1.05h-1.05zM431.8 262.4h1.05v1.05h-1.05zM431.3 262.0h1.05v1.05h-1.05zM458.2 236.3h1.05v1.05h-1.05zM442.3 251.4h1.05v1.05h-1.05zM444.1 249.7h1.05v1.05h-1.05zM431.5 263.6h1.05v1.05h-1.05zM472.6 224.0h1.05v1.05h-1.05zM447.2 249.0h1.05v1.05h-1.05zM471.4 224.1h1.05v1.05h-1.05zM441.3 256.3h1.05v1.05h-1.05zM448.9 250.2h1.05v1.05h-1.05zM464.2 230.1h1.05v1.05h-1.05zM463.0 238.3h1.05v1.05h-1.05zM457.0 238.9h1.05v1.05h-1.05zM473.6 231.0h1.05v1.05h-1.05zM464.7 229.7h1.05v1.05h-1.05zM454.3 243.6h1.05v1.05h-1.05zM473.2 221.4h1.05v1.05h-1.05zM458.5 236.6h1.05v1.05h-1.05zM443.5 251.8h1.05v1.05h-1.05zM463.7 232.7h1.05v1.05h-1.05zM454.1 240.0h1.05v1.05h-1.05zM443.9 250.4h1.05v1.05h-1.05zM463.2 231.3h1.05v1.05h-1.05zM439.8 254.9h1.05v1.05h-1.05zM446.5 248.3h1.05v1.05h-1.05zM436.5 259.8h1.05v1.05h-1.05zM463.0 236.6h1.05v1.05h-1.05zM471.6 230.1h1.05v1.05h-1.05zM457.2 237.7h1.05v1.05h-1.05zM446.7 249.4h1.05v1.05h-1.05zM439.5 257.9h1.05v1.05h-1.05zM443.1 256.6h1.05v1.05h-1.05zM469.3 227.8h1.05v1.05h-1.05zM438.8 256.0h1.05v1.05h-1.05zM432.2 261.3h1.05v1.05h-1.05zM432.7 260.8h1.05v1.05h-1.05zM465.2 237.5h1.05v1.05h-1.05zM463.2 231.4h1.05v1.05h-1.05zM449.3 245.1h1.05v1.05h-1.05zM461.1 234.4h1.05v1.05h-1.05zM434.6 259.0h1.05v1.05h-1.05zM437.5 259.5h1.05v1.05h-1.05zM471.1 224.4h1.05v1.05h-1.05zM436.7 257.7h1.05v1.05h-1.05zM440.0 253.8h1.05v1.05h-1.05zM438.4 256.9h1.05v1.05h-1.05zM455.4 240.1h1.05v1.05h-1.05zM442.4 252.9h1.05v1.05h-1.05zM434.0 263.2h1.05v1.05h-1.05zM440.7 254.9h1.05v1.05h-1.05zM461.7 236.1h1.05v1.05h-1.05zM466.1 231.5h1.05v1.05h-1.05zM465.7 229.1h1.05v1.05h-1.05zM438.3 256.5h1.05v1.05h-1.05zM462.2 236.1h1.05v1.05h-1.05zM440.4 253.3h1.05v1.05h-1.05zM467.5 228.7h1.05v1.05h-1.05zM435.9 260.9h1.05v1.05h-1.05zM449.4 247.5h1.05v1.05h-1.05zM436.1 259.7h1.05v1.05h-1.05zM445.7 250.7h1.05v1.05h-1.05zM433.5 263.1h1.05v1.05h-1.05zM455.0 239.5h1.05v1.05h-1.05zM432.4 263.6h1.05v1.05h-1.05zM439.9 257.0h1.05v1.05h-1.05zM433.5 260.8h1.05v1.05h-1.05zM471.0 223.3h1.05v1.05h-1.05zM444.9 249.0h1.05v1.05h-1.05zM443.8 254.6h1.05v1.05h-1.05zM450.4 245.9h1.05v1.05h-1.05zM441.6 257.1h1.05v1.05h-1.05zM434.6 258.8h1.05v1.05h-1.05zM441.1 253.5h1.05v1.05h-1.05zM475.2 222.4h1.05v1.05h-1.05zM458.9 235.1h1.05v1.05h-1.05zM439.2 257.4h1.05v1.05h-1.05zM451.2 243.5h1.05v1.05h-1.05zM439.2 254.4h1.05v1.05h-1.05zM432.3 261.8h1.05v1.05h-1.05zM439.4 256.3h1.05v1.05h-1.05zM455.3 239.6h1.05v1.05h-1.05zM445.8 250.2h1.05v1.05h-1.05zM448.2 246.1h1.05v1.05h-1.05zM449.3 248.3h1.05v1.05h-1.05zM442.3 252.1h1.05v1.05h-1.05zM466.6 230.7h1.05v1.05h-1.05zM463.0 234.0h1.05v1.05h-1.05zM446.9 249.2h1.05v1.05h-1.05zM471.4 228.0h1.05v1.05h-1.05zM453.8 243.3h1.05v1.05h-1.05zM476.1 221.5h1.05v1.05h-1.05zM466.8 229.0h1.05v1.05h-1.05zM473.7 225.3h1.05v1.05h-1.05zM477.8 217.0h1.05v1.05h-1.05zM446.8 247.3h1.05v1.05h-1.05zM433.2 260.2h1.05v1.05h-1.05zM434.7 259.4h1.05v1.05h-1.05zM434.7 260.0h1.05v1.05h-1.05zM455.2 239.4h1.05v1.05h-1.05zM465.2 234.5h1.05v1.05h-1.05zM475.6 220.7h1.05v1.05h-1.05zM477.3 219.4h1.05v1.05h-1.05zM436.1 258.5h1.05v1.05h-1.05zM469.3 228.1h1.05v1.05h-1.05zM438.5 257.5h1.05v1.05h-1.05zM446.3 248.4h1.05v1.05h-1.05zM447.9 246.9h1.05v1.05h-1.05zM432.3 262.1h1.05v1.05h-1.05zM473.4 225.6h1.05v1.05h-1.05zM437.1 258.1h1.05v1.05h-1.05zM449.2 247.7h1.05v1.05h-1.05zM435.5 259.1h1.05v1.05h-1.05zM438.3 258.3h1.05v1.05h-1.05zM461.6 233.0h1.05v1.05h-1.05zM441.0 255.7h1.05v1.05h-1.05zM477.4 224.1h1.05v1.05h-1.05zM435.8 259.7h1.05v1.05h-1.05zM462.5 235.9h1.05v1.05h-1.05zM448.6 247.9h1.05v1.05h-1.05zM434.2 259.4h1.05v1.05h-1.05zM443.7 252.9h1.05v1.05h-1.05zM436.2 257.4h1.05v1.05h-1.05zM466.0 228.3h1.05v1.05h-1.05zM451.0 244.4h1.05v1.05h-1.05zM475.2 219.4h1.05v1.05h-1.05zM446.3 249.8h1.05v1.05h-1.05zM432.8 261.1h1.05v1.05h-1.05zM437.3 257.0h1.05v1.05h-1.05zM442.7 251.5h1.05v1.05h-1.05zM436.3 257.3h1.05v1.05h-1.05zM473.1 221.3h1.05v1.05h-1.05zM440.3 255.3h1.05v1.05h-1.05zM462.6 234.8h1.05v1.05h-1.05zM431.3 263.7h1.05v1.05h-1.05zM433.9 261.1h1.05v1.05h-1.05zM461.4 233.4h1.05v1.05h-1.05zM450.2 245.3h1.05v1.05h-1.05zM452.5 241.6h1.05v1.05h-1.05zM455.1 242.0h1.05v1.05h-1.05zM473.5 220.9h1.05v1.05h-1.05zM466.0 239.5h1.05v1.05h-1.05zM431.6 263.2h1.05v1.05h-1.05zM440.5 254.6h1.05v1.05h-1.05zM438.0 255.7h1.05v1.05h-1.05zM464.4 230.1h1.05v1.05h-1.05zM439.9 254.2h1.05v1.05h-1.05zM465.1 238.6h1.05v1.05h-1.05zM446.9 249.8h1.05v1.05h-1.05zM432.2 263.0h1.05v1.05h-1.05zM449.1 247.3h1.05v1.05h-1.05zM453.0 242.8h1.05v1.05h-1.05zM460.7 233.7h1.05v1.05h-1.05zM458.2 237.4h1.05v1.05h-1.05zM473.3 222.1h1.05v1.05h-1.05zM447.8 248.9h1.05v1.05h-1.05zM444.3 249.5h1.05v1.05h-1.05zM472.5 223.3h1.05v1.05h-1.05zM442.3 251.8h1.05v1.05h-1.05zM470.3 227.9h1.05v1.05h-1.05zM435.5 260.7h1.05v1.05h-1.05zM447.4 246.9h1.05v1.05h-1.05zM453.8 242.0h1.05v1.05h-1.05zM467.8 227.0h1.05v1.05h-1.05zM457.6 238.0h1.05v1.05h-1.05zM460.8 236.9h1.05v1.05h-1.05zM469.9 224.5h1.05v1.05h-1.05zM453.8 240.2h1.05v1.05h-1.05zM441.0 252.9h1.05v1.05h-1.05zM447.1 247.2h1.05v1.05h-1.05zM437.7 255.8h1.05v1.05h-1.05zM468.7 226.2h1.05v1.05h-1.05zM443.1 251.8h1.05v1.05h-1.05zM434.3 261.1h1.05v1.05h-1.05zM444.6 255.0h1.05v1.05h-1.05zM455.4 239.2h1.05v1.05h-1.05zM459.8 243.8h1.05v1.05h-1.05zM435.4 259.2h1.05v1.05h-1.05zM442.7 261.6h1.05v1.05h-1.05zM450.9 245.5h1.05v1.05h-1.05zM475.2 220.1h1.05v1.05h-1.05zM446.0 248.7h1.05v1.05h-1.05zM450.2 246.1h1.05v1.05h-1.05zM465.4 229.1h1.05v1.05h-1.05zM444.5 252.8h1.05v1.05h-1.05zM451.8 242.3h1.05v1.05h-1.05zM466.1 230.1h1.05v1.05h-1.05zM441.3 255.6h1.05v1.05h-1.05zM465.9 232.0h1.05v1.05h-1.05zM451.3 243.2h1.05v1.05h-1.05zM461.3 233.4h1.05v1.05h-1.05zM432.1 263.0h1.05v1.05h-1.05zM435.1 259.5h1.05v1.05h-1.05zM455.4 239.8h1.05v1.05h-1.05zM472.1 223.0h1.05v1.05h-1.05zM445.5 248.7h1.05v1.05h-1.05zM449.8 247.2h1.05v1.05h-1.05zM475.7 219.9h1.05v1.05h-1.05zM454.9 239.8h1.05v1.05h-1.05zM458.9 235.9h1.05v1.05h-1.05zM435.1 260.5h1.05v1.05h-1.05zM431.9 264.5h1.05v1.05h-1.05zM433.5 260.8h1.05v1.05h-1.05zM462.6 233.3h1.05v1.05h-1.05zM461.3 234.0h1.05v1.05h-1.05zM455.5 239.8h1.05v1.05h-1.05zM431.4 263.1h1.05v1.05h-1.05zM440.1 255.4h1.05v1.05h-1.05zM464.0 231.9h1.05v1.05h-1.05zM475.8 222.6h1.05v1.05h-1.05zM436.0 259.2h1.05v1.05h-1.05zM475.7 221.2h1.05v1.05h-1.05zM434.8 260.6h1.05v1.05h-1.05zM432.9 260.6h1.05v1.05h-1.05zM457.7 238.8h1.05v1.05h-1.05zM438.1 255.3h1.05v1.05h-1.05zM458.9 235.1h1.05v1.05h-1.05zM441.0 253.7h1.05v1.05h-1.05zM450.9 249.3h1.05v1.05h-1.05zM433.4 260.7h1.05v1.05h-1.05zM475.7 220.5h1.05v1.05h-1.05zM433.4 261.3h1.05v1.05h-1.05zM445.8 248.9h1.05v1.05h-1.05zM465.3 233.3h1.05v1.05h-1.05zM469.6 224.8h1.05v1.05h-1.05zM455.9 239.4h1.05v1.05h-1.05zM456.9 237.8h1.05v1.05h-1.05zM475.2 220.3h1.05v1.05h-1.05zM474.6 221.5h1.05v1.05h-1.05zM451.3 244.3h1.05v1.05h-1.05zM459.3 237.5h1.05v1.05h-1.05zM464.3 232.4h1.05v1.05h-1.05zM457.6 237.4h1.05v1.05h-1.05zM459.1 238.2h1.05v1.05h-1.05zM431.3 264.9h1.05v1.05h-1.05zM447.9 246.0h1.05v1.05h-1.05zM456.9 238.3h1.05v1.05h-1.05zM445.3 250.6h1.05v1.05h-1.05zM453.9 242.3h1.05v1.05h-1.05zM449.1 245.0h1.05v1.05h-1.05zM433.1 261.0h1.05v1.05h-1.05zM449.5 248.6h1.05v1.05h-1.05zM433.3 260.2h1.05v1.05h-1.05zM435.7 259.9h1.05v1.05h-1.05zM446.8 247.7h1.05v1.05h-1.05zM431.3 264.7h1.05v1.05h-1.05zM477.4 227.5h1.05v1.05h-1.05zM438.2 256.8h1.05v1.05h-1.05zM458.2 237.7h1.05v1.05h-1.05zM467.8 233.1h1.05v1.05h-1.05zM454.2 240.5h1.05v1.05h-1.05zM475.0 219.5h1.05v1.05h-1.05zM432.0 261.8h1.05v1.05h-1.05zM444.8 250.3h1.05v1.05h-1.05zM436.1 258.9h1.05v1.05h-1.05zM439.1 254.9h1.05v1.05h-1.05zM433.7 260.2h1.05v1.05h-1.05zM455.3 238.7h1.05v1.05h-1.05zM444.9 249.2h1.05v1.05h-1.05zM436.5 257.6h1.05v1.05h-1.05zM432.3 262.1h1.05v1.05h-1.05zM457.2 239.2h1.05v1.05h-1.05zM455.5 239.4h1.05v1.05h-1.05zM441.3 252.7h1.05v1.05h-1.05zM468.0 226.9h1.05v1.05h-1.05zM471.3 224.6h1.05v1.05h-1.05zM431.4 266.1h1.05v1.05h-1.05zM468.3 227.0h1.05v1.05h-1.05zM435.7 258.8h1.05v1.05h-1.05zM467.1 228.3h1.05v1.05h-1.05zM463.3 240.6h1.05v1.05h-1.05zM436.8 256.6h1.05v1.05h-1.05zM440.2 259.1h1.05v1.05h-1.05zM460.2 235.9h1.05v1.05h-1.05zM432.7 262.2h1.05v1.05h-1.05zM442.8 251.9h1.05v1.05h-1.05zM440.0 253.6h1.05v1.05h-1.05zM461.9 232.2h1.05v1.05h-1.05zM438.3 258.3h1.05v1.05h-1.05zM448.8 246.0h1.05v1.05h-1.05zM445.6 249.3h1.05v1.05h-1.05zM433.6 260.3h1.05v1.05h-1.05zM437.9 264.4h1.05v1.05h-1.05zM434.0 261.8h1.05v1.05h-1.05zM443.4 252.1h1.05v1.05h-1.05zM470.7 224.4h1.05v1.05h-1.05zM455.6 238.3h1.05v1.05h-1.05zM461.4 235.4h1.05v1.05h-1.05zM467.8 226.6h1.05v1.05h-1.05zM441.6 254.9h1.05v1.05h-1.05zM446.3 249.9h1.05v1.05h-1.05zM466.4 229.7h1.05v1.05h-1.05zM432.0 264.1h1.05v1.05h-1.05zM436.7 256.9h1.05v1.05h-1.05zM444.0 254.7h1.05v1.05h-1.05zM456.1 238.5h1.05v1.05h-1.05zM464.8 229.7h1.05v1.05h-1.05zM439.2 256.8h1.05v1.05h-1.05zM432.0 262.2h1.05v1.05h-1.05zM436.2 257.9h1.05v1.05h-1.05zM469.9 227.9h1.05v1.05h-1.05zM475.5 221.3h1.05v1.05h-1.05zM437.3 257.2h1.05v1.05h-1.05zM445.4 250.0h1.05v1.05h-1.05zM434.1 261.0h1.05v1.05h-1.05zM476.3 220.2h1.05v1.05h-1.05zM447.5 246.5h1.05v1.05h-1.05zM474.7 219.8h1.05v1.05h-1.05zM471.5 224.1h1.05v1.05h-1.05zM446.8 248.1h1.05v1.05h-1.05zM459.0 235.6h1.05v1.05h-1.05zM435.6 261.4h1.05v1.05h-1.05zM433.8 259.8h1.05v1.05h-1.05zM441.2 253.6h1.05v1.05h-1.05zM466.0 229.1h1.05v1.05h-1.05zM442.4 251.2h1.05v1.05h-1.05zM443.6 251.0h1.05v1.05h-1.05zM437.0 257.9h1.05v1.05h-1.05zM434.0 259.5h1.05v1.05h-1.05zM454.3 240.0h1.05v1.05h-1.05zM454.1 241.6h1.05v1.05h-1.05zM450.0 255.3h1.05v1.05h-1.05zM460.8 241.2h1.05v1.05h-1.05zM445.7 248.7h1.05v1.05h-1.05zM441.2 259.7h1.05v1.05h-1.05zM464.6 229.7h1.05v1.05h-1.05zM452.0 242.6h1.05v1.05h-1.05zM432.1 263.1h1.05v1.05h-1.05zM474.0 222.2h1.05v1.05h-1.05zM431.5 263.2h1.05v1.05h-1.05zM449.4 250.5h1.05v1.05h-1.05zM468.6 227.4h1.05v1.05h-1.05zM448.7 245.4h1.05v1.05h-1.05zM457.9 236.2h1.05v1.05h-1.05zM467.3 227.5h1.05v1.05h-1.05zM433.6 261.5h1.05v1.05h-1.05zM450.6 244.8h1.05v1.05h-1.05zM434.1 259.5h1.05v1.05h-1.05zM437.0 256.9h1.05v1.05h-1.05zM441.5 253.0h1.05v1.05h-1.05zM433.7 264.8h1.05v1.05h-1.05zM437.4 257.1h1.05v1.05h-1.05zM431.4 262.8h1.05v1.05h-1.05zM476.7 218.1h1.05v1.05h-1.05zM470.1 226.9h1.05v1.05h-1.05zM442.2 251.9h1.05v1.05h-1.05zM432.5 261.0h1.05v1.05h-1.05zM446.2 247.4h1.05v1.05h-1.05zM458.8 236.5h1.05v1.05h-1.05zM445.2 250.5h1.05v1.05h-1.05zM434.2 259.7h1.05v1.05h-1.05zM432.6 261.1h1.05v1.05h-1.05zM436.6 257.6h1.05v1.05h-1.05zM458.7 236.3h1.05v1.05h-1.05zM432.4 263.4h1.05v1.05h-1.05zM439.8 255.0h1.05v1.05h-1.05zM454.7 242.0h1.05v1.05h-1.05zM465.0 231.9h1.05v1.05h-1.05zM462.9 233.1h1.05v1.05h-1.05zM458.0 241.2h1.05v1.05h-1.05zM477.8 220.4h1.05v1.05h-1.05zM434.1 259.5h1.05v1.05h-1.05zM433.1 263.7h1.05v1.05h-1.05zM473.6 221.7h1.05v1.05h-1.05zM439.5 257.4h1.05v1.05h-1.05zM470.5 225.6h1.05v1.05h-1.05zM434.3 262.7h1.05v1.05h-1.05zM435.9 257.7h1.05v1.05h-1.05zM437.5 258.4h1.05v1.05h-1.05zM443.6 250.0h1.05v1.05h-1.05zM471.1 228.5h1.05v1.05h-1.05zM446.5 248.7h1.05v1.05h-1.05zM435.4 260.2h1.05v1.05h-1.05zM448.4 245.6h1.05v1.05h-1.05zM446.9 249.9h1.05v1.05h-1.05zM457.8 240.3h1.05v1.05h-1.05zM434.2 264.7h1.05v1.05h-1.05zM431.5 264.2h1.05v1.05h-1.05zM477.5 223.7h1.05v1.05h-1.05zM462.2 231.9h1.05v1.05h-1.05zM433.5 262.4h1.05v1.05h-1.05zM446.9 248.7h1.05v1.05h-1.05zM441.7 253.0h1.05v1.05h-1.05zM469.0 226.8h1.05v1.05h-1.05zM468.3 226.3h1.05v1.05h-1.05zM438.2 256.5h1.05v1.05h-1.05zM436.5 258.9h1.05v1.05h-1.05zM447.1 252.6h1.05v1.05h-1.05zM466.5 229.3h1.05v1.05h-1.05zM466.0 228.4h1.05v1.05h-1.05zM455.9 240.5h1.05v1.05h-1.05zM431.3 264.2h1.05v1.05h-1.05zM439.0 256.5h1.05v1.05h-1.05zM457.1 239.0h1.05v1.05h-1.05zM443.3 262.2h1.05v1.05h-1.05zM435.3 260.0h1.05v1.05h-1.05zM457.9 237.6h1.05v1.05h-1.05zM449.9 249.3h1.05v1.05h-1.05zM432.6 266.0h1.05v1.05h-1.05zM474.3 221.7h1.05v1.05h-1.05zM460.4 234.0h1.05v1.05h-1.05zM458.9 235.9h1.05v1.05h-1.05zM461.9 235.8h1.05v1.05h-1.05zM460.9 239.1h1.05v1.05h-1.05zM454.3 239.6h1.05v1.05h-1.05zM435.5 258.7h1.05v1.05h-1.05zM454.9 239.7h1.05v1.05h-1.05zM439.1 260.3h1.05v1.05h-1.05zM441.4 253.7h1.05v1.05h-1.05zM434.4 259.1h1.05v1.05h-1.05zM456.3 238.7h1.05v1.05h-1.05zM477.6 222.0h1.05v1.05h-1.05zM432.0 263.8h1.05v1.05h-1.05zM442.9 251.5h1.05v1.05h-1.05zM458.0 237.1h1.05v1.05h-1.05zM436.6 266.1h1.05v1.05h-1.05zM452.0 243.0h1.05v1.05h-1.05zM431.6 263.1h1.05v1.05h-1.05zM465.7 229.7h1.05v1.05h-1.05zM436.5 262.5h1.05v1.05h-1.05zM449.3 245.2h1.05v1.05h-1.05zM451.7 244.4h1.05v1.05h-1.05zM434.5 261.4h1.05v1.05h-1.05zM476.0 220.6h1.05v1.05h-1.05zM438.6 257.7h1.05v1.05h-1.05zM433.4 260.3h1.05v1.05h-1.05zM463.3 231.4h1.05v1.05h-1.05zM438.1 258.9h1.05v1.05h-1.05zM438.9 256.6h1.05v1.05h-1.05zM445.8 252.8h1.05v1.05h-1.05zM457.0 240.1h1.05v1.05h-1.05zM470.3 225.4h1.05v1.05h-1.05zM433.0 264.3h1.05v1.05h-1.05zM431.4 264.0h1.05v1.05h-1.05zM455.9 240.3h1.05v1.05h-1.05zM452.0 242.9h1.05v1.05h-1.05zM452.1 241.7h1.05v1.05h-1.05zM441.2 263.1h1.05v1.05h-1.05zM457.8 242.1h1.05v1.05h-1.05zM435.3 258.1h1.05v1.05h-1.05zM458.3 236.3h1.05v1.05h-1.05zM469.1 228.9h1.05v1.05h-1.05zM437.2 257.1h1.05v1.05h-1.05zM448.8 245.3h1.05v1.05h-1.05zM433.1 260.7h1.05v1.05h-1.05zM433.3 262.8h1.05v1.05h-1.05zM469.9 226.3h1.05v1.05h-1.05zM463.1 231.3h1.05v1.05h-1.05zM475.0 223.1h1.05v1.05h-1.05zM465.5 233.6h1.05v1.05h-1.05zM457.5 237.0h1.05v1.05h-1.05zM439.3 254.5h1.05v1.05h-1.05zM432.4 261.9h1.05v1.05h-1.05zM474.1 221.1h1.05v1.05h-1.05zM461.7 232.8h1.05v1.05h-1.05zM434.4 262.5h1.05v1.05h-1.05zM457.3 237.0h1.05v1.05h-1.05zM432.6 261.8h1.05v1.05h-1.05zM437.2 258.3h1.05v1.05h-1.05zM446.2 247.5h1.05v1.05h-1.05zM465.6 230.6h1.05v1.05h-1.05zM443.2 251.2h1.05v1.05h-1.05zM465.6 231.6h1.05v1.05h-1.05zM440.9 254.0h1.05v1.05h-1.05zM458.5 236.5h1.05v1.05h-1.05zM474.0 225.0h1.05v1.05h-1.05zM474.4 224.5h1.05v1.05h-1.05zM470.3 224.8h1.05v1.05h-1.05zM453.3 243.2h1.05v1.05h-1.05zM432.2 263.0h1.05v1.05h-1.05zM431.3 265.6h1.05v1.05h-1.05zM437.0 258.4h1.05v1.05h-1.05zM433.2 261.5h1.05v1.05h-1.05zM455.3 239.1h1.05v1.05h-1.05zM457.1 236.9h1.05v1.05h-1.05zM431.9 266.4h1.05v1.05h-1.05zM439.3 254.4h1.05v1.05h-1.05zM436.7 258.5h1.05v1.05h-1.05zM462.9 231.4h1.05v1.05h-1.05zM466.0 230.8h1.05v1.05h-1.05zM435.0 263.6h1.05v1.05h-1.05zM436.0 260.6h1.05v1.05h-1.05zM446.3 247.4h1.05v1.05h-1.05zM445.5 252.4h1.05v1.05h-1.05zM460.8 233.8h1.05v1.05h-1.05zM432.9 260.9h1.05v1.05h-1.05zM448.1 246.2h1.05v1.05h-1.05zM449.3 247.4h1.05v1.05h-1.05zM444.5 250.0h1.05v1.05h-1.05zM441.7 254.3h1.05v1.05h-1.05zM476.1 223.8h1.05v1.05h-1.05zM449.4 245.2h1.05v1.05h-1.05zM445.6 248.6h1.05v1.05h-1.05zM468.2 229.4h1.05v1.05h-1.05zM455.1 239.8h1.05v1.05h-1.05zM463.3 232.9h1.05v1.05h-1.05zM435.7 260.5h1.05v1.05h-1.05zM438.0 255.5h1.05v1.05h-1.05zM439.6 254.2h1.05v1.05h-1.05zM449.9 244.1h1.05v1.05h-1.05zM438.3 256.2h1.05v1.05h-1.05zM445.0 249.2h1.05v1.05h-1.05zM459.7 240.5h1.05v1.05h-1.05zM448.2 249.4h1.05v1.05h-1.05zM442.5 254.2h1.05v1.05h-1.05zM469.9 230.7h1.05v1.05h-1.05zM431.6 261.9h1.05v1.05h-1.05zM432.9 265.9h1.05v1.05h-1.05zM437.2 256.4h1.05v1.05h-1.05zM442.6 252.6h1.05v1.05h-1.05zM452.3 241.8h1.05v1.05h-1.05zM431.9 263.9h1.05v1.05h-1.05zM447.3 247.1h1.05v1.05h-1.05zM451.5 245.1h1.05v1.05h-1.05zM468.8 229.6h1.05v1.05h-1.05zM442.5 253.3h1.05v1.05h-1.05zM475.7 221.2h1.05v1.05h-1.05zM438.0 256.1h1.05v1.05h-1.05zM452.5 244.5h1.05v1.05h-1.05zM444.8 251.3h1.05v1.05h-1.05zM449.6 244.7h1.05v1.05h-1.05zM451.4 244.1h1.05v1.05h-1.05zM432.0 262.3h1.05v1.05h-1.05zM439.4 256.3h1.05v1.05h-1.05zM435.3 260.9h1.05v1.05h-1.05zM436.7 258.9h1.05v1.05h-1.05zM445.4 258.8h1.05v1.05h-1.05zM472.1 222.6h1.05v1.05h-1.05zM437.2 256.3h1.05v1.05h-1.05zM438.9 257.0h1.05v1.05h-1.05zM439.7 254.4h1.05v1.05h-1.05zM458.0 236.9h1.05v1.05h-1.05zM465.3 234.7h1.05v1.05h-1.05zM440.3 255.4h1.05v1.05h-1.05zM441.8 251.9h1.05v1.05h-1.05zM469.8 225.6h1.05v1.05h-1.05zM445.6 249.3h1.05v1.05h-1.05zM457.3 240.1h1.05v1.05h-1.05zM459.5 235.5h1.05v1.05h-1.05zM441.3 253.2h1.05v1.05h-1.05zM451.9 242.5h1.05v1.05h-1.05zM441.6 253.6h1.05v1.05h-1.05zM434.8 264.4h1.05v1.05h-1.05zM451.1 252.8h1.05v1.05h-1.05zM449.0 247.7h1.05v1.05h-1.05zM469.3 225.4h1.05v1.05h-1.05zM434.5 258.9h1.05v1.05h-1.05zM437.6 256.3h1.05v1.05h-1.05zM444.9 250.4h1.05v1.05h-1.05zM455.4 238.7h1.05v1.05h-1.05zM432.2 261.9h1.05v1.05h-1.05zM451.0 246.4h1.05v1.05h-1.05zM442.1 257.4h1.05v1.05h-1.05zM454.5 241.8h1.05v1.05h-1.05zM440.6 257.2h1.05v1.05h-1.05zM475.7 221.0h1.05v1.05h-1.05zM438.6 258.4h1.05v1.05h-1.05zM440.7 252.9h1.05v1.05h-1.05zM449.0 246.6h1.05v1.05h-1.05zM441.9 254.4h1.05v1.05h-1.05zM431.3 262.7h1.05v1.05h-1.05zM449.8 249.8h1.05v1.05h-1.05zM437.4 256.7h1.05v1.05h-1.05zM466.7 228.0h1.05v1.05h-1.05zM431.3 266.2h1.05v1.05h-1.05zM476.2 218.8h1.05v1.05h-1.05zM447.5 248.4h1.05v1.05h-1.05zM448.1 246.5h1.05v1.05h-1.05zM433.8 260.4h1.05v1.05h-1.05zM460.1 235.2h1.05v1.05h-1.05zM466.8 228.0h1.05v1.05h-1.05zM432.2 261.7h1.05v1.05h-1.05zM471.2 223.2h1.05v1.05h-1.05zM455.9 238.3h1.05v1.05h-1.05zM456.8 240.1h1.05v1.05h-1.05zM457.0 239.7h1.05v1.05h-1.05zM465.4 235.3h1.05v1.05h-1.05zM439.6 254.3h1.05v1.05h-1.05zM432.7 262.4h1.05v1.05h-1.05zM442.0 262.9h1.05v1.05h-1.05zM433.3 261.7h1.05v1.05h-1.05zM464.8 231.3h1.05v1.05h-1.05zM442.4 251.3h1.05v1.05h-1.05zM437.8 256.3h1.05v1.05h-1.05zM476.0 219.0h1.05v1.05h-1.05zM445.6 249.3h1.05v1.05h-1.05zM434.1 264.6h1.05v1.05h-1.05zM432.7 263.3h1.05v1.05h-1.05zM466.3 228.5h1.05v1.05h-1.05zM463.1 231.7h1.05v1.05h-1.05zM462.3 241.1h1.05v1.05h-1.05zM466.7 229.2h1.05v1.05h-1.05zM458.7 239.9h1.05v1.05h-1.05zM457.8 236.4h1.05v1.05h-1.05zM435.0 262.6h1.05v1.05h-1.05zM471.0 223.9h1.05v1.05h-1.05zM436.1 257.3h1.05v1.05h-1.05zM452.8 244.0h1.05v1.05h-1.05zM444.7 250.5h1.05v1.05h-1.05zM460.9 233.2h1.05v1.05h-1.05zM466.5 228.6h1.05v1.05h-1.05zM452.8 241.5h1.05v1.05h-1.05zM469.2 231.5h1.05v1.05h-1.05zM438.4 256.0h1.05v1.05h-1.05zM472.0 223.9h1.05v1.05h-1.05zM441.6 254.5h1.05v1.05h-1.05zM432.6 261.8h1.05v1.05h-1.05zM466.9 230.0h1.05v1.05h-1.05zM456.7 240.0h1.05v1.05h-1.05zM450.8 246.0h1.05v1.05h-1.05zM449.9 246.6h1.05v1.05h-1.05zM435.7 260.3h1.05v1.05h-1.05zM436.0 258.6h1.05v1.05h-1.05zM433.7 261.8h1.05v1.05h-1.05zM445.7 249.0h1.05v1.05h-1.05zM437.5 261.0h1.05v1.05h-1.05zM448.8 245.6h1.05v1.05h-1.05zM449.2 248.3h1.05v1.05h-1.05zM454.1 240.8h1.05v1.05h-1.05zM434.4 263.5h1.05v1.05h-1.05zM475.7 220.4h1.05v1.05h-1.05zM475.4 219.4h1.05v1.05h-1.05zM437.4 265.3h1.05v1.05h-1.05zM433.0 260.7h1.05v1.05h-1.05zM439.3 254.5h1.05v1.05h-1.05zM446.0 247.9h1.05v1.05h-1.05zM441.4 253.0h1.05v1.05h-1.05zM431.5 263.7h1.05v1.05h-1.05zM443.4 251.6h1.05v1.05h-1.05zM472.4 223.1h1.05v1.05h-1.05zM438.9 257.8h1.05v1.05h-1.05zM436.3 257.6h1.05v1.05h-1.05zM446.6 250.2h1.05v1.05h-1.05zM464.4 230.2h1.05v1.05h-1.05zM450.7 245.4h1.05v1.05h-1.05zM433.8 262.8h1.05v1.05h-1.05zM440.3 253.8h1.05v1.05h-1.05zM440.8 262.8h1.05v1.05h-1.05zM451.2 242.8h1.05v1.05h-1.05zM436.1 258.9h1.05v1.05h-1.05zM449.3 244.8h1.05v1.05h-1.05zM437.7 261.5h1.05v1.05h-1.05zM451.6 243.4h1.05v1.05h-1.05zM465.1 229.7h1.05v1.05h-1.05zM435.7 260.1h1.05v1.05h-1.05zM436.5 258.4h1.05v1.05h-1.05zM468.1 226.3h1.05v1.05h-1.05zM469.9 230.5h1.05v1.05h-1.05zM455.7 240.6h1.05v1.05h-1.05zM436.9 262.9h1.05v1.05h-1.05zM434.4 260.1h1.05v1.05h-1.05zM440.9 254.2h1.05v1.05h-1.05zM437.9 255.5h1.05v1.05h-1.05zM434.5 265.1h1.05v1.05h-1.05zM433.3 260.8h1.05v1.05h-1.05zM436.6 257.8h1.05v1.05h-1.05zM460.8 236.0h1.05v1.05h-1.05zM463.9 230.7h1.05v1.05h-1.05zM434.7 262.3h1.05v1.05h-1.05zM476.9 217.6h1.05v1.05h-1.05zM442.7 252.9h1.05v1.05h-1.05zM468.9 226.0h1.05v1.05h-1.05zM464.8 231.2h1.05v1.05h-1.05zM471.6 225.9h1.05v1.05h-1.05zM476.6 221.5h1.05v1.05h-1.05zM460.8 234.2h1.05v1.05h-1.05zM443.4 254.4h1.05v1.05h-1.05zM447.9 246.2h1.05v1.05h-1.05zM452.5 241.6h1.05v1.05h-1.05zM452.9 243.7h1.05v1.05h-1.05zM436.5 257.3h1.05v1.05h-1.05zM452.9 243.0h1.05v1.05h-1.05zM448.0 246.3h1.05v1.05h-1.05zM465.7 231.7h1.05v1.05h-1.05zM463.5 232.2h1.05v1.05h-1.05zM466.9 227.9h1.05v1.05h-1.05zM468.5 225.7h1.05v1.05h-1.05zM463.4 232.8h1.05v1.05h-1.05zM433.5 260.1h1.05v1.05h-1.05zM433.1 263.1h1.05v1.05h-1.05zM454.7 240.7h1.05v1.05h-1.05zM437.4 257.0h1.05v1.05h-1.05zM456.6 237.5h1.05v1.05h-1.05zM447.3 252.3h1.05v1.05h-1.05zM465.1 230.6h1.05v1.05h-1.05zM432.1 265.5h1.05v1.05h-1.05zM469.3 226.6h1.05v1.05h-1.05zM469.7 227.8h1.05v1.05h-1.05zM431.9 262.2h1.05v1.05h-1.05zM450.9 243.6h1.05v1.05h-1.05zM435.6 257.8h1.05v1.05h-1.05zM446.8 247.8h1.05v1.05h-1.05zM433.5 260.3h1.05v1.05h-1.05zM432.4 262.5h1.05v1.05h-1.05zM438.3 258.9h1.05v1.05h-1.05zM467.1 227.5h1.05v1.05h-1.05zM431.6 264.3h1.05v1.05h-1.05zM464.3 230.9h1.05v1.05h-1.05zM432.8 263.3h1.05v1.05h-1.05zM477.0 218.4h1.05v1.05h-1.05zM457.0 241.1h1.05v1.05h-1.05zM458.2 238.5h1.05v1.05h-1.05zM445.8 251.6h1.05v1.05h-1.05zM474.8 220.7h1.05v1.05h-1.05zM459.7 235.2h1.05v1.05h-1.05zM457.4 238.7h1.05v1.05h-1.05zM465.8 229.9h1.05v1.05h-1.05zM431.3 263.3h1.05v1.05h-1.05zM476.5 220.5h1.05v1.05h-1.05zM461.4 237.3h1.05v1.05h-1.05zM455.0 249.0h1.05v1.05h-1.05zM462.5 232.1h1.05v1.05h-1.05zM473.0 223.3h1.05v1.05h-1.05zM475.8 224.5h1.05v1.05h-1.05zM445.5 248.6h1.05v1.05h-1.05zM447.7 246.2h1.05v1.05h-1.05zM442.8 251.1h1.05v1.05h-1.05zM457.2 237.6h1.05v1.05h-1.05zM472.7 222.3h1.05v1.05h-1.05zM432.3 261.4h1.05v1.05h-1.05zM450.2 246.6h1.05v1.05h-1.05zM431.7 261.8h1.05v1.05h-1.05zM463.6 231.3h1.05v1.05h-1.05zM465.6 228.7h1.05v1.05h-1.05zM439.3 254.4h1.05v1.05h-1.05zM443.7 255.6h1.05v1.05h-1.05zM440.2 258.6h1.05v1.05h-1.05zM468.6 226.0h1.05v1.05h-1.05zM470.8 224.2h1.05v1.05h-1.05zM431.7 265.2h1.05v1.05h-1.05zM466.0 228.3h1.05v1.05h-1.05zM441.1 252.9h1.05v1.05h-1.05zM438.7 255.0h1.05v1.05h-1.05zM456.4 240.5h1.05v1.05h-1.05zM465.7 229.5h1.05v1.05h-1.05zM477.3 217.8h1.05v1.05h-1.05zM449.2 246.3h1.05v1.05h-1.05zM470.1 232.0h1.05v1.05h-1.05zM476.5 223.5h1.05v1.05h-1.05zM450.6 246.1h1.05v1.05h-1.05zM468.4 226.2h1.05v1.05h-1.05zM474.5 220.4h1.05v1.05h-1.05zM455.6 239.4h1.05v1.05h-1.05zM459.6 235.3h1.05v1.05h-1.05zM436.7 257.9h1.05v1.05h-1.05zM450.9 243.6h1.05v1.05h-1.05zM433.4 263.9h1.05v1.05h-1.05zM466.3 234.0h1.05v1.05h-1.05zM474.1 221.3h1.05v1.05h-1.05zM477.2 221.6h1.05v1.05h-1.05zM461.8 234.6h1.05v1.05h-1.05zM444.0 254.4h1.05v1.05h-1.05zM454.1 242.1h1.05v1.05h-1.05zM453.7 243.5h1.05v1.05h-1.05zM469.6 225.1h1.05v1.05h-1.05zM438.8 255.4h1.05v1.05h-1.05zM440.6 254.0h1.05v1.05h-1.05zM446.7 247.9h1.05v1.05h-1.05zM438.6 255.2h1.05v1.05h-1.05zM476.7 219.1h1.05v1.05h-1.05zM447.3 247.0h1.05v1.05h-1.05zM445.1 250.4h1.05v1.05h-1.05zM433.9 260.0h1.05v1.05h-1.05zM461.1 235.9h1.05v1.05h-1.05zM465.6 234.0h1.05v1.05h-1.05zM439.4 255.1h1.05v1.05h-1.05zM441.5 252.1h1.05v1.05h-1.05zM457.5 242.6h1.05v1.05h-1.05zM443.5 251.6h1.05v1.05h-1.05zM473.4 222.4h1.05v1.05h-1.05zM468.2 228.2h1.05v1.05h-1.05zM463.6 233.5h1.05v1.05h-1.05zM468.7 228.1h1.05v1.05h-1.05zM433.3 260.7h1.05v1.05h-1.05zM439.5 254.0h1.05v1.05h-1.05zM441.6 253.9h1.05v1.05h-1.05zM460.6 235.6h1.05v1.05h-1.05zM431.8 263.9h1.05v1.05h-1.05zM459.5 238.8h1.05v1.05h-1.05zM432.6 261.9h1.05v1.05h-1.05zM436.0 257.8h1.05v1.05h-1.05zM440.1 256.2h1.05v1.05h-1.05zM474.0 220.6h1.05v1.05h-1.05zM443.7 250.8h1.05v1.05h-1.05zM470.8 225.1h1.05v1.05h-1.05zM466.5 231.7h1.05v1.05h-1.05zM436.6 258.4h1.05v1.05h-1.05zM431.6 264.2h1.05v1.05h-1.05zM438.2 257.0h1.05v1.05h-1.05zM454.3 239.9h1.05v1.05h-1.05zM451.4 244.2h1.05v1.05h-1.05zM436.3 261.3h1.05v1.05h-1.05zM464.0 231.2h1.05v1.05h-1.05zM433.6 261.4h1.05v1.05h-1.05zM448.0 245.9h1.05v1.05h-1.05zM441.0 254.4h1.05v1.05h-1.05zM475.6 219.2h1.05v1.05h-1.05zM447.2 247.0h1.05v1.05h-1.05zM447.4 248.4h1.05v1.05h-1.05zM440.8 260.5h1.05v1.05h-1.05zM452.9 251.3h1.05v1.05h-1.05zM454.7 239.4h1.05v1.05h-1.05zM436.2 259.8h1.05v1.05h-1.05zM467.2 227.7h1.05v1.05h-1.05zM457.5 238.9h1.05v1.05h-1.05zM456.6 238.0h1.05v1.05h-1.05zM436.8 257.4h1.05v1.05h-1.05zM443.0 252.8h1.05v1.05h-1.05zM449.6 246.2h1.05v1.05h-1.05zM453.7 241.5h1.05v1.05h-1.05zM449.6 244.9h1.05v1.05h-1.05zM475.7 220.7h1.05v1.05h-1.05zM453.7 240.2h1.05v1.05h-1.05zM475.0 219.7h1.05v1.05h-1.05zM454.1 242.8h1.05v1.05h-1.05zM448.6 246.8h1.05v1.05h-1.05zM433.2 265.2h1.05v1.05h-1.05zM458.9 236.7h1.05v1.05h-1.05zM462.9 232.3h1.05v1.05h-1.05zM432.8 265.6h1.05v1.05h-1.05zM460.2 234.9h1.05v1.05h-1.05zM450.2 244.7h1.05v1.05h-1.05zM477.5 218.3h1.05v1.05h-1.05zM436.9 257.2h1.05v1.05h-1.05zM436.2 260.3h1.05v1.05h-1.05zM432.0 262.2h1.05v1.05h-1.05zM440.6 258.3h1.05v1.05h-1.05zM462.9 231.6h1.05v1.05h-1.05zM455.9 238.4h1.05v1.05h-1.05zM460.8 233.8h1.05v1.05h-1.05zM444.1 258.3h1.05v1.05h-1.05zM431.5 262.1h1.05v1.05h-1.05zM459.2 235.0h1.05v1.05h-1.05zM441.2 255.1h1.05v1.05h-1.05zM436.8 258.8h1.05v1.05h-1.05zM433.7 263.0h1.05v1.05h-1.05zM460.2 234.0h1.05v1.05h-1.05zM461.1 238.0h1.05v1.05h-1.05zM449.6 245.1h1.05v1.05h-1.05zM434.1 259.4h1.05v1.05h-1.05zM468.7 225.9h1.05v1.05h-1.05zM441.7 252.2h1.05v1.05h-1.05zM456.5 237.9h1.05v1.05h-1.05z" fill="#2a1f88" fill-opacity="0.95"/>
<path d="M395.20 185.50V292.80H505.30" stroke="#5a5a5a" stroke-width="1.35" fill="none"/>
<text x="392.30" y="295.80" font-size="6.8" text-anchor="end" fill="#333" stroke="#333" stroke-width="0.18">1</text>
<text x="392.30" y="277.98" font-size="6.8" text-anchor="end" fill="#333" stroke="#333" stroke-width="0.18">10</text>
<text x="392.30" y="260.17" font-size="6.8" text-anchor="end" fill="#333" stroke="#333" stroke-width="0.18">100</text>
<text x="392.30" y="242.35" font-size="6.8" text-anchor="end" fill="#333" stroke="#333" stroke-width="0.18">1,000</text>
<text x="392.30" y="224.53" font-size="6.8" text-anchor="end" fill="#333" stroke="#333" stroke-width="0.18">10,000</text>
<text x="392.30" y="206.72" font-size="6.8" text-anchor="end" fill="#333" stroke="#333" stroke-width="0.18">100,000</text>
<text x="392.30" y="188.90" font-size="6.8" text-anchor="end" fill="#333" stroke="#333" stroke-width="0.18">1,000,000</text>
<text x="396.60" y="299.80" font-size="6.8" text-anchor="end" fill="#333" transform="rotate(-45 396.60 299.80)" stroke="#333" stroke-width="0.18">1</text>
<text x="414.88" y="299.80" font-size="6.8" text-anchor="end" fill="#333" transform="rotate(-45 414.88 299.80)" stroke="#333" stroke-width="0.18">10</text>
<text x="433.17" y="299.80" font-size="6.8" text-anchor="end" fill="#333" transform="rotate(-45 433.17 299.80)" stroke="#333" stroke-width="0.18">100</text>
<text x="451.45" y="299.80" font-size="6.8" text-anchor="end" fill="#333" transform="rotate(-45 451.45 299.80)" stroke="#333" stroke-width="0.18">1,000</text>
<text x="469.73" y="299.80" font-size="6.8" text-anchor="end" fill="#333" transform="rotate(-45 469.73 299.80)" stroke="#333" stroke-width="0.18">10,000</text>
<text x="488.02" y="299.80" font-size="6.8" text-anchor="end" fill="#333" transform="rotate(-45 488.02 299.80)" stroke="#333" stroke-width="0.18">100,000</text>
<text x="506.30" y="299.80" font-size="6.8" text-anchor="end" fill="#333" transform="rotate(-45 506.30 299.80)" stroke="#333" stroke-width="0.18">1,000,000</text>
<text x="451.30" y="330.30" font-size="8.8" text-anchor="middle" fill="#333" font-weight="bold" textLength="19.00" lengthAdjust="spacingAndGlyphs">Control</text>
<text x="359.90" y="239.50" font-size="9.2" text-anchor="middle" fill="#333" font-weight="bold" textLength="15.00" lengthAdjust="spacingAndGlyphs" transform="rotate(-90 359.90 239.50)">Comb</text>
<text x="469.13" y="180.30" font-size="8.3" text-anchor="middle" fill="#222" stroke="#222" stroke-width="0.18">100</text>
<text x="487.42" y="180.30" font-size="8.3" text-anchor="middle" fill="#222" stroke="#222" stroke-width="0.18">10</text>
<text x="507.50" y="206.72" font-size="8.3" text-anchor="start" fill="#222" stroke="#222" stroke-width="0.18">0.1</text>
<path d="M49.31 370.80V475.60M43.80 470.34H153.60M52.53 370.80V475.60M43.80 467.27H153.60M54.82 370.80V475.60M43.80 465.08H153.60M56.59 370.80V475.60M43.80 463.39H153.60M58.04 370.80V475.60M43.80 462.01H153.60M59.27 370.80V475.60M43.80 460.84H153.60M60.33 370.80V475.60M43.80 459.83H153.60M61.26 370.80V475.60M43.80 458.93H153.60M67.61 370.80V475.60M43.80 452.88H153.60M70.83 370.80V475.60M43.80 449.80H153.60M73.12 370.80V475.60M43.80 447.62H153.60M74.89 370.80V475.60M43.80 445.92H153.60M76.34 370.80V475.60M43.80 444.54H153.60M77.57 370.80V475.60M43.80 443.37H153.60M78.63 370.80V475.60M43.80 442.36H153.60M79.56 370.80V475.60M43.80 441.47H153.60M85.91 370.80V475.60M43.80 435.41H153.60M89.13 370.80V475.60M43.80 432.33H153.60M91.42 370.80V475.60M43.80 430.15H153.60M93.19 370.80V475.60M43.80 428.46H153.60M94.64 370.80V475.60M43.80 427.07H153.60M95.87 370.80V475.60M43.80 425.91H153.60M96.93 370.80V475.60M43.80 424.89H153.60M97.86 370.80V475.60M43.80 424.00H153.60M104.21 370.80V475.60M43.80 417.94H153.60M107.43 370.80V475.60M43.80 414.87H153.60M109.72 370.80V475.60M43.80 412.68H153.60M111.49 370.80V475.60M43.80 410.99H153.60M112.94 370.80V475.60M43.80 409.61H153.60M114.17 370.80V475.60M43.80 408.44H153.60M115.23 370.80V475.60M43.80 407.43H153.60M116.16 370.80V475.60M43.80 406.53H153.60M122.51 370.80V475.60M43.80 400.48H153.60M125.73 370.80V475.60M43.80 397.40H153.60M128.02 370.80V475.60M43.80 395.22H153.60M129.79 370.80V475.60M43.80 393.52H153.60M131.24 370.80V475.60M43.80 392.14H153.60M132.47 370.80V475.60M43.80 390.97H153.60M133.53 370.80V475.60M43.80 389.96H153.60M134.46 370.80V475.60M43.80 389.07H153.60M140.81 370.80V475.60M43.80 383.01H153.60M144.03 370.80V475.60M43.80 379.93H153.60M146.32 370.80V475.60M43.80 377.75H153.60M148.09 370.80V475.60M43.80 376.06H153.60M149.54 370.80V475.60M43.80 374.67H153.60M150.77 370.80V475.60M43.80 373.51H153.60M151.83 370.80V475.60M43.80 372.49H153.60M152.76 370.80V475.60M43.80 371.60H153.60" stroke="#f6f6f6" stroke-width="0.4" fill="none"/>
<path d="M62.10 370.80V475.60M43.80 458.13H153.60M80.40 370.80V475.60M43.80 440.67H153.60M98.70 370.80V475.60M43.80 423.20H153.60M117.00 370.80V475.60M43.80 405.73H153.60M135.30 370.80V475.60M43.80 388.27H153.60" stroke="#d8d8d8" stroke-width="0.8" fill="none"/>
<path d="M43.80 370.80H153.60V475.60" stroke="#9a9a9a" stroke-width="1.1" fill="none"/>
<line x1="43.80" y1="470.34" x2="125.23" y2="392.62" stroke="#f2aca4" stroke-width="0.65"/>
<line x1="49.31" y1="475.60" x2="125.23" y2="403.13" stroke="#f2aca4" stroke-width="0.65"/>
<line x1="43.80" y1="475.60" x2="125.23" y2="397.87" stroke="#b8c8cc" stroke-width="0.6"/>
<line x1="43.80" y1="458.13" x2="135.30" y2="370.80" stroke="#b4b4b4" stroke-width="1.15" stroke-dasharray="2.8 2.2"/>
<line x1="62.10" y1="475.60" x2="153.60" y2="388.27" stroke="#b4b4b4" stroke-width="1.15" stroke-dasharray="2.8 2.2"/>
<path d="M96.8 417.7h1.0v1.0h-1.0zM75.3 437.7h1.0v1.0h-1.0zM74.9 438.6h1.0v1.0h-1.0zM84.3 430.6h1.0v1.0h-1.0zM83.1 430.6h1.0v1.0h-1.0zM79.7 433.3h1.0v1.0h-1.0zM83.1 430.9h1.0v1.0h-1.0zM104.7 410.8h1.0v1.0h-1.0zM84.4 429.8h1.0v1.0h-1.0zM75.6 438.9h1.0v1.0h-1.0zM97.7 417.9h1.0v1.0h-1.0zM73.9 440.1h1.0v1.0h-1.0zM73.6 438.7h1.0v1.0h-1.0zM72.7 436.1h1.0v1.0h-1.0zM74.3 437.0h1.0v1.0h-1.0zM76.0 437.9h1.0v1.0h-1.0zM84.2 430.5h1.0v1.0h-1.0zM73.0 440.0h1.0v1.0h-1.0zM76.6 436.4h1.0v1.0h-1.0zM95.7 418.2h1.0v1.0h-1.0zM74.2 437.7h1.0v1.0h-1.0zM80.3 431.2h1.0v1.0h-1.0zM82.2 431.0h1.0v1.0h-1.0zM83.1 431.8h1.0v1.0h-1.0zM76.9 436.3h1.0v1.0h-1.0zM71.5 436.4h1.0v1.0h-1.0zM88.7 425.9h1.0v1.0h-1.0zM93.1 421.7h1.0v1.0h-1.0zM75.3 436.5h1.0v1.0h-1.0zM72.7 439.8h1.0v1.0h-1.0zM73.7 439.1h1.0v1.0h-1.0zM72.8 439.0h1.0v1.0h-1.0zM75.6 436.5h1.0v1.0h-1.0zM78.9 433.1h1.0v1.0h-1.0zM76.7 437.7h1.0v1.0h-1.0zM92.6 422.5h1.0v1.0h-1.0zM73.3 440.1h1.0v1.0h-1.0zM77.9 431.8h1.0v1.0h-1.0zM94.3 414.5h1.0v1.0h-1.0zM86.8 427.9h1.0v1.0h-1.0zM72.8 434.4h1.0v1.0h-1.0zM88.4 416.9h1.0v1.0h-1.0zM80.4 418.9h1.0v1.0h-1.0zM75.7 435.7h1.0v1.0h-1.0zM84.6 428.8h1.0v1.0h-1.0zM81.6 432.9h1.0v1.0h-1.0zM73.8 438.9h1.0v1.0h-1.0zM74.4 439.0h1.0v1.0h-1.0zM70.4 439.6h1.0v1.0h-1.0zM74.6 438.2h1.0v1.0h-1.0zM74.5 439.1h1.0v1.0h-1.0zM77.5 436.3h1.0v1.0h-1.0zM74.5 436.3h1.0v1.0h-1.0zM82.9 431.9h1.0v1.0h-1.0zM82.6 428.6h1.0v1.0h-1.0zM75.3 438.7h1.0v1.0h-1.0zM78.7 433.9h1.0v1.0h-1.0zM78.8 433.9h1.0v1.0h-1.0zM85.6 427.8h1.0v1.0h-1.0zM76.4 432.1h1.0v1.0h-1.0zM74.8 438.1h1.0v1.0h-1.0zM71.2 426.2h1.0v1.0h-1.0zM77.8 436.4h1.0v1.0h-1.0zM70.9 437.5h1.0v1.0h-1.0zM77.7 435.7h1.0v1.0h-1.0zM81.6 428.8h1.0v1.0h-1.0zM96.8 416.0h1.0v1.0h-1.0zM80.2 433.8h1.0v1.0h-1.0zM74.6 439.2h1.0v1.0h-1.0zM75.5 432.5h1.0v1.0h-1.0zM79.4 422.3h1.0v1.0h-1.0zM81.7 433.1h1.0v1.0h-1.0zM104.8 408.4h1.0v1.0h-1.0zM76.4 435.5h1.0v1.0h-1.0zM70.4 437.7h1.0v1.0h-1.0zM82.8 430.2h1.0v1.0h-1.0zM76.3 434.4h1.0v1.0h-1.0zM83.5 430.8h1.0v1.0h-1.0zM76.8 436.7h1.0v1.0h-1.0zM76.9 436.5h1.0v1.0h-1.0zM103.9 411.2h1.0v1.0h-1.0zM83.2 431.4h1.0v1.0h-1.0zM85.6 426.5h1.0v1.0h-1.0zM81.4 433.5h1.0v1.0h-1.0zM82.3 432.1h1.0v1.0h-1.0zM80.9 433.8h1.0v1.0h-1.0zM75.0 439.6h1.0v1.0h-1.0zM73.8 439.4h1.0v1.0h-1.0zM73.8 436.2h1.0v1.0h-1.0zM93.0 418.9h1.0v1.0h-1.0zM82.8 429.3h1.0v1.0h-1.0zM98.0 417.4h1.0v1.0h-1.0zM72.0 439.2h1.0v1.0h-1.0zM76.3 438.2h1.0v1.0h-1.0zM83.6 430.2h1.0v1.0h-1.0zM75.4 437.7h1.0v1.0h-1.0zM76.6 436.7h1.0v1.0h-1.0zM77.0 435.4h1.0v1.0h-1.0zM94.9 419.6h1.0v1.0h-1.0zM73.4 438.2h1.0v1.0h-1.0zM95.4 419.2h1.0v1.0h-1.0zM85.1 427.9h1.0v1.0h-1.0zM74.7 439.9h1.0v1.0h-1.0zM82.2 428.2h1.0v1.0h-1.0zM87.3 425.9h1.0v1.0h-1.0zM74.8 439.7h1.0v1.0h-1.0zM73.0 437.1h1.0v1.0h-1.0zM90.1 424.2h1.0v1.0h-1.0zM74.5 439.0h1.0v1.0h-1.0zM79.2 434.7h1.0v1.0h-1.0zM72.0 439.5h1.0v1.0h-1.0zM74.8 437.4h1.0v1.0h-1.0zM75.3 439.1h1.0v1.0h-1.0zM75.8 437.9h1.0v1.0h-1.0zM75.1 428.5h1.0v1.0h-1.0zM94.4 418.1h1.0v1.0h-1.0zM76.4 437.4h1.0v1.0h-1.0zM80.3 433.7h1.0v1.0h-1.0zM77.6 436.6h1.0v1.0h-1.0zM78.0 431.4h1.0v1.0h-1.0zM80.1 432.8h1.0v1.0h-1.0zM70.3 439.6h1.0v1.0h-1.0zM83.9 430.8h1.0v1.0h-1.0zM76.7 437.8h1.0v1.0h-1.0zM84.3 430.5h1.0v1.0h-1.0zM76.8 435.5h1.0v1.0h-1.0zM77.3 433.7h1.0v1.0h-1.0zM76.4 437.6h1.0v1.0h-1.0zM81.5 430.4h1.0v1.0h-1.0zM74.7 432.2h1.0v1.0h-1.0zM78.9 435.5h1.0v1.0h-1.0zM73.9 440.0h1.0v1.0h-1.0zM86.0 425.4h1.0v1.0h-1.0zM79.7 433.4h1.0v1.0h-1.0zM74.4 440.2h1.0v1.0h-1.0zM82.4 429.1h1.0v1.0h-1.0zM70.6 439.1h1.0v1.0h-1.0zM76.0 437.8h1.0v1.0h-1.0zM74.5 438.7h1.0v1.0h-1.0zM80.4 433.5h1.0v1.0h-1.0zM98.7 414.5h1.0v1.0h-1.0zM91.7 420.2h1.0v1.0h-1.0zM74.6 439.6h1.0v1.0h-1.0zM75.8 438.3h1.0v1.0h-1.0zM102.2 411.1h1.0v1.0h-1.0zM76.3 437.3h1.0v1.0h-1.0zM72.3 439.1h1.0v1.0h-1.0zM75.9 438.4h1.0v1.0h-1.0zM101.1 414.3h1.0v1.0h-1.0zM75.3 439.0h1.0v1.0h-1.0zM72.4 439.5h1.0v1.0h-1.0zM94.5 420.7h1.0v1.0h-1.0zM78.8 435.5h1.0v1.0h-1.0zM84.6 429.1h1.0v1.0h-1.0zM75.3 439.0h1.0v1.0h-1.0zM78.4 424.5h1.0v1.0h-1.0zM72.8 437.1h1.0v1.0h-1.0zM73.7 436.7h1.0v1.0h-1.0zM72.8 440.0h1.0v1.0h-1.0zM75.6 437.0h1.0v1.0h-1.0zM77.2 435.8h1.0v1.0h-1.0zM77.8 436.4h1.0v1.0h-1.0zM75.5 438.6h1.0v1.0h-1.0zM77.6 436.4h1.0v1.0h-1.0zM82.4 431.1h1.0v1.0h-1.0zM80.7 432.3h1.0v1.0h-1.0zM75.2 439.2h1.0v1.0h-1.0zM72.3 438.0h1.0v1.0h-1.0zM78.5 434.5h1.0v1.0h-1.0zM78.7 435.1h1.0v1.0h-1.0zM76.4 438.2h1.0v1.0h-1.0zM92.2 423.1h1.0v1.0h-1.0zM83.0 431.3h1.0v1.0h-1.0zM99.5 409.1h1.0v1.0h-1.0zM78.2 431.8h1.0v1.0h-1.0zM79.7 434.9h1.0v1.0h-1.0zM74.7 437.4h1.0v1.0h-1.0zM76.4 438.3h1.0v1.0h-1.0zM75.3 439.2h1.0v1.0h-1.0zM87.7 423.9h1.0v1.0h-1.0zM85.3 429.3h1.0v1.0h-1.0zM73.9 440.1h1.0v1.0h-1.0zM86.7 427.3h1.0v1.0h-1.0zM77.7 434.6h1.0v1.0h-1.0zM83.8 427.3h1.0v1.0h-1.0zM74.0 435.2h1.0v1.0h-1.0zM75.0 438.8h1.0v1.0h-1.0zM75.4 438.3h1.0v1.0h-1.0zM84.9 427.2h1.0v1.0h-1.0zM106.0 410.0h1.0v1.0h-1.0zM76.4 437.1h1.0v1.0h-1.0zM76.7 435.7h1.0v1.0h-1.0zM73.8 439.0h1.0v1.0h-1.0zM89.9 422.2h1.0v1.0h-1.0zM76.7 436.7h1.0v1.0h-1.0zM100.2 414.4h1.0v1.0h-1.0zM83.0 426.6h1.0v1.0h-1.0zM76.7 437.5h1.0v1.0h-1.0zM72.6 440.0h1.0v1.0h-1.0zM84.9 414.5h1.0v1.0h-1.0zM73.4 438.6h1.0v1.0h-1.0zM89.7 421.1h1.0v1.0h-1.0zM75.8 437.2h1.0v1.0h-1.0zM84.6 428.4h1.0v1.0h-1.0zM76.3 437.6h1.0v1.0h-1.0zM76.9 436.6h1.0v1.0h-1.0zM76.3 438.3h1.0v1.0h-1.0zM76.6 434.0h1.0v1.0h-1.0zM79.3 434.4h1.0v1.0h-1.0zM74.6 439.9h1.0v1.0h-1.0zM101.5 409.5h1.0v1.0h-1.0zM72.6 436.5h1.0v1.0h-1.0zM75.3 438.8h1.0v1.0h-1.0zM91.0 424.2h1.0v1.0h-1.0zM70.9 440.0h1.0v1.0h-1.0zM99.3 411.4h1.0v1.0h-1.0zM76.4 437.5h1.0v1.0h-1.0zM78.3 435.0h1.0v1.0h-1.0zM85.7 426.0h1.0v1.0h-1.0zM95.9 417.1h1.0v1.0h-1.0zM76.4 435.8h1.0v1.0h-1.0zM74.5 439.9h1.0v1.0h-1.0zM78.7 433.2h1.0v1.0h-1.0zM73.2 437.9h1.0v1.0h-1.0zM75.9 438.2h1.0v1.0h-1.0zM73.9 439.5h1.0v1.0h-1.0zM73.8 429.0h1.0v1.0h-1.0zM72.7 437.7h1.0v1.0h-1.0zM99.3 416.3h1.0v1.0h-1.0zM79.2 433.8h1.0v1.0h-1.0zM81.8 428.3h1.0v1.0h-1.0zM89.5 425.1h1.0v1.0h-1.0zM73.9 439.4h1.0v1.0h-1.0zM74.3 440.0h1.0v1.0h-1.0zM75.2 439.4h1.0v1.0h-1.0zM73.8 440.0h1.0v1.0h-1.0zM76.7 437.8h1.0v1.0h-1.0zM76.2 438.0h1.0v1.0h-1.0zM76.7 437.9h1.0v1.0h-1.0zM78.5 435.6h1.0v1.0h-1.0zM75.4 439.1h1.0v1.0h-1.0zM89.5 425.4h1.0v1.0h-1.0zM96.2 418.8h1.0v1.0h-1.0zM75.7 438.4h1.0v1.0h-1.0zM77.8 428.5h1.0v1.0h-1.0zM86.3 428.8h1.0v1.0h-1.0zM92.1 423.2h1.0v1.0h-1.0zM91.6 421.5h1.0v1.0h-1.0zM74.5 440.1h1.0v1.0h-1.0zM84.5 427.7h1.0v1.0h-1.0zM76.1 438.3h1.0v1.0h-1.0zM83.4 430.7h1.0v1.0h-1.0zM76.6 436.7h1.0v1.0h-1.0zM85.4 428.0h1.0v1.0h-1.0zM81.5 433.2h1.0v1.0h-1.0z" fill="#e2301c" fill-opacity="0.85"/>
<path d="M98.7 427.8h1.05v1.05h-1.05zM109.5 419.3h1.05v1.05h-1.05zM81.5 445.8h1.05v1.05h-1.05zM84.0 441.7h1.05v1.05h-1.05zM80.4 445.6h1.05v1.05h-1.05zM83.5 442.3h1.05v1.05h-1.05zM115.8 412.8h1.05v1.05h-1.05zM98.4 427.9h1.05v1.05h-1.05zM91.6 434.4h1.05v1.05h-1.05zM105.3 421.3h1.05v1.05h-1.05zM115.5 412.0h1.05v1.05h-1.05zM116.4 412.8h1.05v1.05h-1.05zM110.2 416.8h1.05v1.05h-1.05zM105.4 421.1h1.05v1.05h-1.05zM91.6 434.7h1.05v1.05h-1.05zM97.5 428.9h1.05v1.05h-1.05zM109.3 417.6h1.05v1.05h-1.05zM88.9 438.4h1.05v1.05h-1.05zM81.9 443.9h1.05v1.05h-1.05zM80.8 444.8h1.05v1.05h-1.05zM104.6 422.7h1.05v1.05h-1.05zM113.9 413.9h1.05v1.05h-1.05zM105.5 422.4h1.05v1.05h-1.05zM90.3 436.4h1.05v1.05h-1.05zM98.2 428.0h1.05v1.05h-1.05zM110.7 416.4h1.05v1.05h-1.05zM99.9 426.4h1.05v1.05h-1.05zM113.8 413.7h1.05v1.05h-1.05zM118.3 408.8h1.05v1.05h-1.05zM84.9 440.9h1.05v1.05h-1.05zM97.2 429.9h1.05v1.05h-1.05zM96.7 429.7h1.05v1.05h-1.05zM88.5 437.6h1.05v1.05h-1.05zM107.8 419.8h1.05v1.05h-1.05zM94.1 432.2h1.05v1.05h-1.05zM81.7 444.2h1.05v1.05h-1.05zM93.3 433.1h1.05v1.05h-1.05zM107.9 419.7h1.05v1.05h-1.05zM105.0 421.8h1.05v1.05h-1.05zM86.0 439.9h1.05v1.05h-1.05zM98.0 432.6h1.05v1.05h-1.05zM97.7 428.4h1.05v1.05h-1.05zM85.8 440.5h1.05v1.05h-1.05zM104.6 422.6h1.05v1.05h-1.05zM115.5 412.2h1.05v1.05h-1.05zM99.7 426.6h1.05v1.05h-1.05zM104.2 423.3h1.05v1.05h-1.05zM109.2 418.8h1.05v1.05h-1.05zM82.9 444.4h1.05v1.05h-1.05zM95.0 431.7h1.05v1.05h-1.05zM95.7 430.6h1.05v1.05h-1.05zM99.8 426.6h1.05v1.05h-1.05zM80.9 445.1h1.05v1.05h-1.05zM81.2 444.2h1.05v1.05h-1.05zM100.5 426.0h1.05v1.05h-1.05zM111.9 416.7h1.05v1.05h-1.05zM92.0 434.4h1.05v1.05h-1.05zM106.6 420.3h1.05v1.05h-1.05zM95.6 430.5h1.05v1.05h-1.05zM89.9 437.2h1.05v1.05h-1.05zM105.1 421.7h1.05v1.05h-1.05zM87.4 438.6h1.05v1.05h-1.05zM83.2 442.6h1.05v1.05h-1.05zM95.3 430.9h1.05v1.05h-1.05zM104.9 421.6h1.05v1.05h-1.05zM98.0 429.2h1.05v1.05h-1.05zM85.1 441.1h1.05v1.05h-1.05zM96.3 430.0h1.05v1.05h-1.05zM91.4 436.0h1.05v1.05h-1.05zM86.1 440.0h1.05v1.05h-1.05zM100.5 426.4h1.05v1.05h-1.05zM105.6 421.2h1.05v1.05h-1.05zM83.9 441.6h1.05v1.05h-1.05zM91.7 436.0h1.05v1.05h-1.05zM118.8 408.6h1.05v1.05h-1.05zM95.4 430.9h1.05v1.05h-1.05zM98.4 427.9h1.05v1.05h-1.05zM99.8 427.3h1.05v1.05h-1.05zM99.4 427.2h1.05v1.05h-1.05zM81.1 446.8h1.05v1.05h-1.05zM109.4 418.7h1.05v1.05h-1.05zM92.6 434.3h1.05v1.05h-1.05zM118.3 408.8h1.05v1.05h-1.05zM80.4 445.4h1.05v1.05h-1.05zM89.3 436.8h1.05v1.05h-1.05zM79.9 446.6h1.05v1.05h-1.05zM84.9 440.7h1.05v1.05h-1.05zM106.2 420.4h1.05v1.05h-1.05zM82.8 445.3h1.05v1.05h-1.05zM95.1 431.4h1.05v1.05h-1.05zM109.5 418.3h1.05v1.05h-1.05zM81.7 445.2h1.05v1.05h-1.05zM85.5 440.3h1.05v1.05h-1.05zM80.4 446.1h1.05v1.05h-1.05zM81.4 444.9h1.05v1.05h-1.05zM91.8 434.1h1.05v1.05h-1.05zM119.1 409.2h1.05v1.05h-1.05zM117.0 410.1h1.05v1.05h-1.05zM102.9 423.6h1.05v1.05h-1.05zM113.7 413.2h1.05v1.05h-1.05zM84.0 442.1h1.05v1.05h-1.05zM89.4 436.4h1.05v1.05h-1.05zM81.5 445.8h1.05v1.05h-1.05zM99.8 426.5h1.05v1.05h-1.05zM98.0 429.8h1.05v1.05h-1.05zM96.0 430.5h1.05v1.05h-1.05zM116.9 411.4h1.05v1.05h-1.05zM90.2 436.4h1.05v1.05h-1.05zM111.7 415.2h1.05v1.05h-1.05zM111.7 415.5h1.05v1.05h-1.05zM103.6 422.8h1.05v1.05h-1.05zM84.0 441.6h1.05v1.05h-1.05zM83.4 442.3h1.05v1.05h-1.05zM81.5 444.5h1.05v1.05h-1.05zM89.0 437.6h1.05v1.05h-1.05zM100.8 425.9h1.05v1.05h-1.05zM110.0 416.7h1.05v1.05h-1.05zM92.8 433.6h1.05v1.05h-1.05zM117.4 411.5h1.05v1.05h-1.05zM98.5 428.6h1.05v1.05h-1.05zM80.9 445.1h1.05v1.05h-1.05zM97.6 429.4h1.05v1.05h-1.05zM85.9 440.5h1.05v1.05h-1.05zM103.2 424.8h1.05v1.05h-1.05zM111.2 416.5h1.05v1.05h-1.05zM96.1 430.4h1.05v1.05h-1.05zM118.3 409.1h1.05v1.05h-1.05zM81.5 444.6h1.05v1.05h-1.05zM85.3 440.6h1.05v1.05h-1.05zM117.3 409.8h1.05v1.05h-1.05zM92.7 433.7h1.05v1.05h-1.05zM117.5 409.8h1.05v1.05h-1.05zM87.6 438.1h1.05v1.05h-1.05zM90.6 436.1h1.05v1.05h-1.05zM84.8 441.5h1.05v1.05h-1.05zM116.4 411.0h1.05v1.05h-1.05zM112.1 414.8h1.05v1.05h-1.05zM93.3 435.2h1.05v1.05h-1.05zM97.0 431.3h1.05v1.05h-1.05zM90.0 436.0h1.05v1.05h-1.05zM81.8 443.7h1.05v1.05h-1.05zM102.0 426.9h1.05v1.05h-1.05zM84.4 441.3h1.05v1.05h-1.05zM89.8 436.2h1.05v1.05h-1.05zM108.6 418.1h1.05v1.05h-1.05zM79.9 446.1h1.05v1.05h-1.05zM92.4 436.8h1.05v1.05h-1.05zM105.7 422.4h1.05v1.05h-1.05zM86.4 440.6h1.05v1.05h-1.05zM82.0 443.4h1.05v1.05h-1.05zM80.6 445.4h1.05v1.05h-1.05zM91.8 434.3h1.05v1.05h-1.05zM88.0 437.6h1.05v1.05h-1.05zM98.9 429.3h1.05v1.05h-1.05zM92.9 433.8h1.05v1.05h-1.05zM119.1 408.2h1.05v1.05h-1.05zM114.9 412.9h1.05v1.05h-1.05zM82.9 443.0h1.05v1.05h-1.05zM87.1 441.0h1.05v1.05h-1.05zM115.0 412.7h1.05v1.05h-1.05z" fill="#2a1f88" fill-opacity="0.95"/>
<path d="M43.80 370.40V475.60H154.00" stroke="#5a5a5a" stroke-width="1.35" fill="none"/>
<text x="40.90" y="478.60" font-size="6.8" text-anchor="end" fill="#333" stroke="#333" stroke-width="0.18">1</text>
<text x="40.90" y="461.13" font-size="6.8" text-anchor="end" fill="#333" stroke="#333" stroke-width="0.18">10</text>
<text x="40.90" y="443.67" font-size="6.8" text-anchor="end" fill="#333" stroke="#333" stroke-width="0.18">100</text>
<text x="40.90" y="426.20" font-size="6.8" text-anchor="end" fill="#333" stroke="#333" stroke-width="0.18">1,000</text>
<text x="40.90" y="408.73" font-size="6.8" text-anchor="end" fill="#333" stroke="#333" stroke-width="0.18">10,000</text>
<text x="40.90" y="391.27" font-size="6.8" text-anchor="end" fill="#333" stroke="#333" stroke-width="0.18">100,000</text>
<text x="40.90" y="373.80" font-size="6.8" text-anchor="end" fill="#333" stroke="#333" stroke-width="0.18">1,000,000</text>
<text x="45.20" y="482.60" font-size="6.8" text-anchor="end" fill="#333" transform="rotate(-45 45.20 482.60)" stroke="#333" stroke-width="0.18">1</text>
<text x="63.50" y="482.60" font-size="6.8" text-anchor="end" fill="#333" transform="rotate(-45 63.50 482.60)" stroke="#333" stroke-width="0.18">10</text>
<text x="81.80" y="482.60" font-size="6.8" text-anchor="end" fill="#333" transform="rotate(-45 81.80 482.60)" stroke="#333" stroke-width="0.18">100</text>
<text x="100.10" y="482.60" font-size="6.8" text-anchor="end" fill="#333" transform="rotate(-45 100.10 482.60)" stroke="#333" stroke-width="0.18">1,000</text>
<text x="118.40" y="482.60" font-size="6.8" text-anchor="end" fill="#333" transform="rotate(-45 118.40 482.60)" stroke="#333" stroke-width="0.18">10,000</text>
<text x="136.70" y="482.60" font-size="6.8" text-anchor="end" fill="#333" transform="rotate(-45 136.70 482.60)" stroke="#333" stroke-width="0.18">100,000</text>
<text x="155.00" y="482.60" font-size="6.8" text-anchor="end" fill="#333" transform="rotate(-45 155.00 482.60)" stroke="#333" stroke-width="0.18">1,000,000</text>
<text x="99.30" y="514.40" font-size="8.8" text-anchor="middle" fill="#333" font-weight="bold" textLength="19.00" lengthAdjust="spacingAndGlyphs">Control</text>
<text x="7.90" y="423.90" font-size="9.2" text-anchor="middle" fill="#333" font-weight="bold" textLength="13.80" lengthAdjust="spacingAndGlyphs" transform="rotate(-90 7.90 423.90)">OR21</text>
<text x="136.10" y="365.20" font-size="8.3" text-anchor="middle" fill="#222" stroke="#222" stroke-width="0.18">10</text>
<text x="156.20" y="391.27" font-size="8.3" text-anchor="start" fill="#222" stroke="#222" stroke-width="0.18">0.1</text>
<path d="M223.84 371.20V475.20M218.30 469.98H328.80M227.09 371.20V475.20M218.30 466.93H328.80M229.39 371.20V475.20M218.30 464.76H328.80M231.17 371.20V475.20M218.30 463.08H328.80M232.63 371.20V475.20M218.30 461.71H328.80M233.86 371.20V475.20M218.30 460.55H328.80M234.93 371.20V475.20M218.30 459.55H328.80M235.87 371.20V475.20M218.30 458.66H328.80M242.26 371.20V475.20M218.30 452.65H328.80M245.50 371.20V475.20M218.30 449.60H328.80M247.80 371.20V475.20M218.30 447.43H328.80M249.59 371.20V475.20M218.30 445.75H328.80M251.05 371.20V475.20M218.30 444.38H328.80M252.28 371.20V475.20M218.30 443.22H328.80M253.35 371.20V475.20M218.30 442.21H328.80M254.29 371.20V475.20M218.30 441.33H328.80M260.68 371.20V475.20M218.30 435.32H328.80M263.92 371.20V475.20M218.30 432.26H328.80M266.22 371.20V475.20M218.30 430.10H328.80M268.01 371.20V475.20M218.30 428.42H328.80M269.46 371.20V475.20M218.30 427.05H328.80M270.70 371.20V475.20M218.30 425.88H328.80M271.77 371.20V475.20M218.30 424.88H328.80M272.71 371.20V475.20M218.30 423.99H328.80M279.09 371.20V475.20M218.30 417.98H328.80M282.34 371.20V475.20M218.30 414.93H328.80M284.64 371.20V475.20M218.30 412.76H328.80M286.42 371.20V475.20M218.30 411.08H328.80M287.88 371.20V475.20M218.30 409.71H328.80M289.11 371.20V475.20M218.30 408.55H328.80M290.18 371.20V475.20M218.30 407.55H328.80M291.12 371.20V475.20M218.30 406.66H328.80M297.51 371.20V475.20M218.30 400.65H328.80M300.75 371.20V475.20M218.30 397.60H328.80M303.05 371.20V475.20M218.30 395.43H328.80M304.84 371.20V475.20M218.30 393.75H328.80M306.30 371.20V475.20M218.30 392.38H328.80M307.53 371.20V475.20M218.30 391.22H328.80M308.60 371.20V475.20M218.30 390.21H328.80M309.54 371.20V475.20M218.30 389.33H328.80M315.93 371.20V475.20M218.30 383.32H328.80M319.17 371.20V475.20M218.30 380.26H328.80M321.47 371.20V475.20M218.30 378.10H328.80M323.26 371.20V475.20M218.30 376.42H328.80M324.71 371.20V475.20M218.30 375.05H328.80M325.95 371.20V475.20M218.30 373.88H328.80M327.02 371.20V475.20M218.30 372.88H328.80M327.96 371.20V475.20M218.30 371.99H328.80" stroke="#f6f6f6" stroke-width="0.4" fill="none"/>
<path d="M236.72 371.20V475.20M218.30 457.87H328.80M255.13 371.20V475.20M218.30 440.53H328.80M273.55 371.20V475.20M218.30 423.20H328.80M291.97 371.20V475.20M218.30 405.87H328.80M310.38 371.20V475.20M218.30 388.53H328.80" stroke="#d8d8d8" stroke-width="0.8" fill="none"/>
<path d="M218.30 371.20H328.80V475.20" stroke="#9a9a9a" stroke-width="1.1" fill="none"/>
<line x1="218.30" y1="469.98" x2="291.05" y2="401.52" stroke="#f2aca4" stroke-width="0.65"/>
<line x1="223.84" y1="475.20" x2="291.05" y2="411.95" stroke="#f2aca4" stroke-width="0.65"/>
<line x1="218.30" y1="475.20" x2="291.05" y2="406.73" stroke="#b8c8cc" stroke-width="0.6"/>
<line x1="218.30" y1="457.87" x2="310.38" y2="371.20" stroke="#b4b4b4" stroke-width="1.15" stroke-dasharray="2.8 2.2"/>
<line x1="236.72" y1="475.20" x2="328.80" y2="388.53" stroke="#b4b4b4" stroke-width="1.15" stroke-dasharray="2.8 2.2"/>
<path d="M249.0 437.4h1.0v1.0h-1.0zM258.3 430.7h1.0v1.0h-1.0zM249.9 439.3h1.0v1.0h-1.0zM249.9 439.2h1.0v1.0h-1.0zM267.8 422.1h1.0v1.0h-1.0zM255.5 433.8h1.0v1.0h-1.0zM256.5 432.8h1.0v1.0h-1.0zM255.0 434.1h1.0v1.0h-1.0zM256.0 433.1h1.0v1.0h-1.0zM257.0 431.6h1.0v1.0h-1.0zM252.0 436.8h1.0v1.0h-1.0zM254.2 433.9h1.0v1.0h-1.0zM248.2 439.6h1.0v1.0h-1.0zM250.1 439.1h1.0v1.0h-1.0zM250.3 437.1h1.0v1.0h-1.0zM261.0 428.6h1.0v1.0h-1.0zM248.4 439.9h1.0v1.0h-1.0zM247.4 439.7h1.0v1.0h-1.0zM252.5 435.9h1.0v1.0h-1.0zM250.9 438.2h1.0v1.0h-1.0zM263.5 426.1h1.0v1.0h-1.0zM255.5 433.9h1.0v1.0h-1.0zM258.7 430.3h1.0v1.0h-1.0zM249.7 439.1h1.0v1.0h-1.0zM247.2 439.9h1.0v1.0h-1.0zM247.5 438.0h1.0v1.0h-1.0zM254.1 433.7h1.0v1.0h-1.0zM248.9 439.1h1.0v1.0h-1.0zM247.1 439.8h1.0v1.0h-1.0zM249.8 439.1h1.0v1.0h-1.0zM253.0 427.4h1.0v1.0h-1.0zM259.5 429.8h1.0v1.0h-1.0zM264.5 425.3h1.0v1.0h-1.0zM253.4 435.8h1.0v1.0h-1.0zM248.8 439.3h1.0v1.0h-1.0zM254.4 433.0h1.0v1.0h-1.0zM253.6 434.5h1.0v1.0h-1.0zM251.0 437.5h1.0v1.0h-1.0zM252.4 436.9h1.0v1.0h-1.0zM249.5 438.0h1.0v1.0h-1.0zM249.9 437.5h1.0v1.0h-1.0zM265.2 420.0h1.0v1.0h-1.0zM251.7 436.2h1.0v1.0h-1.0zM249.1 440.0h1.0v1.0h-1.0zM261.3 428.0h1.0v1.0h-1.0zM248.0 439.3h1.0v1.0h-1.0zM268.6 420.2h1.0v1.0h-1.0zM249.1 438.5h1.0v1.0h-1.0zM251.4 437.4h1.0v1.0h-1.0zM272.6 415.0h1.0v1.0h-1.0zM254.7 434.5h1.0v1.0h-1.0zM255.9 433.6h1.0v1.0h-1.0zM252.9 435.9h1.0v1.0h-1.0zM251.1 438.1h1.0v1.0h-1.0zM246.1 439.8h1.0v1.0h-1.0zM261.2 427.8h1.0v1.0h-1.0zM253.1 432.7h1.0v1.0h-1.0zM261.0 428.5h1.0v1.0h-1.0zM257.4 428.8h1.0v1.0h-1.0zM248.8 439.6h1.0v1.0h-1.0zM250.2 438.7h1.0v1.0h-1.0zM251.8 437.4h1.0v1.0h-1.0zM250.1 438.2h1.0v1.0h-1.0zM256.8 432.7h1.0v1.0h-1.0zM263.4 426.3h1.0v1.0h-1.0zM250.8 437.8h1.0v1.0h-1.0zM255.3 432.1h1.0v1.0h-1.0zM254.7 434.3h1.0v1.0h-1.0zM246.7 438.5h1.0v1.0h-1.0zM254.3 427.9h1.0v1.0h-1.0zM246.2 440.0h1.0v1.0h-1.0zM250.8 438.4h1.0v1.0h-1.0zM251.8 436.4h1.0v1.0h-1.0zM258.0 431.4h1.0v1.0h-1.0zM249.1 438.7h1.0v1.0h-1.0zM259.9 429.8h1.0v1.0h-1.0zM257.3 432.0h1.0v1.0h-1.0zM251.8 437.4h1.0v1.0h-1.0zM256.0 433.5h1.0v1.0h-1.0zM267.0 420.2h1.0v1.0h-1.0zM250.9 436.2h1.0v1.0h-1.0zM253.8 434.5h1.0v1.0h-1.0zM266.4 423.3h1.0v1.0h-1.0zM254.4 433.9h1.0v1.0h-1.0zM251.6 436.6h1.0v1.0h-1.0zM257.9 427.3h1.0v1.0h-1.0zM248.9 439.9h1.0v1.0h-1.0zM266.1 423.0h1.0v1.0h-1.0zM250.4 437.7h1.0v1.0h-1.0zM250.5 436.8h1.0v1.0h-1.0zM254.7 432.3h1.0v1.0h-1.0zM253.1 435.2h1.0v1.0h-1.0zM255.6 433.9h1.0v1.0h-1.0zM249.2 437.6h1.0v1.0h-1.0zM250.2 437.6h1.0v1.0h-1.0zM254.6 434.8h1.0v1.0h-1.0zM252.8 436.4h1.0v1.0h-1.0zM259.5 429.8h1.0v1.0h-1.0zM247.4 438.6h1.0v1.0h-1.0z" fill="#e2301c" fill-opacity="0.85"/>
<path d="M258.9 443.6h1.05v1.05h-1.05zM270.8 430.8h1.05v1.05h-1.05zM260.4 440.0h1.05v1.05h-1.05zM270.7 431.9h1.05v1.05h-1.05zM266.1 437.4h1.05v1.05h-1.05zM272.6 428.7h1.05v1.05h-1.05zM255.9 444.3h1.05v1.05h-1.05zM271.5 431.7h1.05v1.05h-1.05zM262.2 440.2h1.05v1.05h-1.05zM260.7 439.9h1.05v1.05h-1.05zM255.5 445.0h1.05v1.05h-1.05zM259.2 441.5h1.05v1.05h-1.05z" fill="#2a1f88" fill-opacity="0.95"/>
<path d="M218.30 370.80V475.20H329.20" stroke="#5a5a5a" stroke-width="1.35" fill="none"/>
<text x="215.40" y="478.20" font-size="6.8" text-anchor="end" fill="#333" stroke="#333" stroke-width="0.18">1</text>
<text x="215.40" y="460.87" font-size="6.8" text-anchor="end" fill="#333" stroke="#333" stroke-width="0.18">10</text>
<text x="215.40" y="443.53" font-size="6.8" text-anchor="end" fill="#333" stroke="#333" stroke-width="0.18">100</text>
<text x="215.40" y="426.20" font-size="6.8" text-anchor="end" fill="#333" stroke="#333" stroke-width="0.18">1,000</text>
<text x="215.40" y="408.87" font-size="6.8" text-anchor="end" fill="#333" stroke="#333" stroke-width="0.18">10,000</text>
<text x="215.40" y="391.53" font-size="6.8" text-anchor="end" fill="#333" stroke="#333" stroke-width="0.18">100,000</text>
<text x="215.40" y="374.20" font-size="6.8" text-anchor="end" fill="#333" stroke="#333" stroke-width="0.18">1,000,000</text>
<text x="219.70" y="482.20" font-size="6.8" text-anchor="end" fill="#333" transform="rotate(-45 219.70 482.20)" stroke="#333" stroke-width="0.18">1</text>
<text x="238.12" y="482.20" font-size="6.8" text-anchor="end" fill="#333" transform="rotate(-45 238.12 482.20)" stroke="#333" stroke-width="0.18">10</text>
<text x="256.53" y="482.20" font-size="6.8" text-anchor="end" fill="#333" transform="rotate(-45 256.53 482.20)" stroke="#333" stroke-width="0.18">100</text>
<text x="274.95" y="482.20" font-size="6.8" text-anchor="end" fill="#333" transform="rotate(-45 274.95 482.20)" stroke="#333" stroke-width="0.18">1,000</text>
<text x="293.37" y="482.20" font-size="6.8" text-anchor="end" fill="#333" transform="rotate(-45 293.37 482.20)" stroke="#333" stroke-width="0.18">10,000</text>
<text x="311.78" y="482.20" font-size="6.8" text-anchor="end" fill="#333" transform="rotate(-45 311.78 482.20)" stroke="#333" stroke-width="0.18">100,000</text>
<text x="330.20" y="482.20" font-size="6.8" text-anchor="end" fill="#333" transform="rotate(-45 330.20 482.20)" stroke="#333" stroke-width="0.18">1,000,000</text>
<text x="274.30" y="514.40" font-size="8.8" text-anchor="middle" fill="#333" font-weight="bold" textLength="19.00" lengthAdjust="spacingAndGlyphs">Control</text>
<text x="182.90" y="423.30" font-size="9.2" text-anchor="middle" fill="#333" font-weight="bold" textLength="11.00" lengthAdjust="spacingAndGlyphs" transform="rotate(-90 182.90 423.30)">EPZ</text>
<text x="311.18" y="365.60" font-size="8.3" text-anchor="middle" fill="#222" stroke="#222" stroke-width="0.18">10</text>
<text x="331.40" y="391.53" font-size="8.3" text-anchor="start" fill="#222" stroke="#222" stroke-width="0.18">0.1</text>
<path d="M400.78 371.70V476.80M395.30 471.53H504.50M403.98 371.70V476.80M395.30 468.44H504.50M406.26 371.70V476.80M395.30 466.25H504.50M408.02 371.70V476.80M395.30 464.56H504.50M409.46 371.70V476.80M395.30 463.17H504.50M410.68 371.70V476.80M395.30 462.00H504.50M411.74 371.70V476.80M395.30 460.98H504.50M412.67 371.70V476.80M395.30 460.08H504.50M418.98 371.70V476.80M395.30 454.01H504.50M422.18 371.70V476.80M395.30 450.93H504.50M424.46 371.70V476.80M395.30 448.74H504.50M426.22 371.70V476.80M395.30 447.04H504.50M427.66 371.70V476.80M395.30 445.65H504.50M428.88 371.70V476.80M395.30 444.48H504.50M429.94 371.70V476.80M395.30 443.46H504.50M430.87 371.70V476.80M395.30 442.57H504.50M437.18 371.70V476.80M395.30 436.49H504.50M440.38 371.70V476.80M395.30 433.41H504.50M442.66 371.70V476.80M395.30 431.22H504.50M444.42 371.70V476.80M395.30 429.52H504.50M445.86 371.70V476.80M395.30 428.14H504.50M447.08 371.70V476.80M395.30 426.96H504.50M448.14 371.70V476.80M395.30 425.95H504.50M449.07 371.70V476.80M395.30 425.05H504.50M455.38 371.70V476.80M395.30 418.98H504.50M458.58 371.70V476.80M395.30 415.89H504.50M460.86 371.70V476.80M395.30 413.70H504.50M462.62 371.70V476.80M395.30 412.01H504.50M464.06 371.70V476.80M395.30 410.62H504.50M465.28 371.70V476.80M395.30 409.45H504.50M466.34 371.70V476.80M395.30 408.43H504.50M467.27 371.70V476.80M395.30 407.53H504.50M473.58 371.70V476.80M395.30 401.46H504.50M476.78 371.70V476.80M395.30 398.38H504.50M479.06 371.70V476.80M395.30 396.19H504.50M480.82 371.70V476.80M395.30 394.49H504.50M482.26 371.70V476.80M395.30 393.10H504.50M483.48 371.70V476.80M395.30 391.93H504.50M484.54 371.70V476.80M395.30 390.91H504.50M485.47 371.70V476.80M395.30 390.02H504.50M491.78 371.70V476.80M395.30 383.94H504.50M494.98 371.70V476.80M395.30 380.86H504.50M497.26 371.70V476.80M395.30 378.67H504.50M499.02 371.70V476.80M395.30 376.97H504.50M500.46 371.70V476.80M395.30 375.59H504.50M501.68 371.70V476.80M395.30 374.41H504.50M502.74 371.70V476.80M395.30 373.40H504.50M503.67 371.70V476.80M395.30 372.50H504.50" stroke="#f6f6f6" stroke-width="0.4" fill="none"/>
<path d="M413.50 371.70V476.80M395.30 459.28H504.50M431.70 371.70V476.80M395.30 441.77H504.50M449.90 371.70V476.80M395.30 424.25H504.50M468.10 371.70V476.80M395.30 406.73H504.50M486.30 371.70V476.80M395.30 389.22H504.50" stroke="#d8d8d8" stroke-width="0.8" fill="none"/>
<path d="M395.30 371.70H504.50V476.80" stroke="#9a9a9a" stroke-width="1.1" fill="none"/>
<line x1="395.30" y1="471.53" x2="483.57" y2="386.57" stroke="#f2aca4" stroke-width="0.65"/>
<line x1="400.78" y1="476.80" x2="483.57" y2="397.12" stroke="#f2aca4" stroke-width="0.65"/>
<line x1="395.30" y1="476.80" x2="483.57" y2="391.84" stroke="#b8c8cc" stroke-width="0.6"/>
<line x1="395.30" y1="441.77" x2="468.10" y2="371.70" stroke="#b4b4b4" stroke-width="1.15" stroke-dasharray="2.8 2.2"/>
<line x1="395.30" y1="459.28" x2="486.30" y2="371.70" stroke="#b4b4b4" stroke-width="1.15" stroke-dasharray="2.8 2.2"/>
<line x1="413.50" y1="476.80" x2="504.50" y2="389.22" stroke="#b4b4b4" stroke-width="1.15" stroke-dasharray="2.8 2.2"/>
<path d="M446.1 421.3h1.0v1.0h-1.0zM469.1 399.1h1.0v1.0h-1.0zM431.9 433.3h1.0v1.0h-1.0zM460.6 402.7h1.0v1.0h-1.0zM433.5 430.3h1.0v1.0h-1.0zM439.4 427.4h1.0v1.0h-1.0zM436.3 401.9h1.0v1.0h-1.0zM434.6 422.8h1.0v1.0h-1.0zM439.8 426.2h1.0v1.0h-1.0zM422.8 440.8h1.0v1.0h-1.0zM440.4 426.8h1.0v1.0h-1.0zM464.3 402.5h1.0v1.0h-1.0zM425.3 441.2h1.0v1.0h-1.0zM446.6 421.1h1.0v1.0h-1.0zM452.3 411.8h1.0v1.0h-1.0zM431.5 434.6h1.0v1.0h-1.0zM429.5 436.6h1.0v1.0h-1.0zM460.6 406.0h1.0v1.0h-1.0zM441.0 425.4h1.0v1.0h-1.0zM439.8 427.2h1.0v1.0h-1.0zM424.2 439.6h1.0v1.0h-1.0zM446.5 417.1h1.0v1.0h-1.0zM437.9 429.2h1.0v1.0h-1.0zM463.7 399.2h1.0v1.0h-1.0zM434.7 431.3h1.0v1.0h-1.0zM419.7 435.9h1.0v1.0h-1.0zM425.0 440.7h1.0v1.0h-1.0zM441.0 423.1h1.0v1.0h-1.0zM416.2 441.1h1.0v1.0h-1.0zM419.1 440.0h1.0v1.0h-1.0zM458.0 405.1h1.0v1.0h-1.0zM416.4 421.0h1.0v1.0h-1.0zM470.2 398.1h1.0v1.0h-1.0zM435.7 429.8h1.0v1.0h-1.0zM443.7 421.9h1.0v1.0h-1.0zM423.8 425.9h1.0v1.0h-1.0zM429.4 436.2h1.0v1.0h-1.0zM461.1 405.0h1.0v1.0h-1.0zM423.7 441.0h1.0v1.0h-1.0zM453.3 410.5h1.0v1.0h-1.0zM421.5 414.0h1.0v1.0h-1.0zM448.5 419.0h1.0v1.0h-1.0zM454.9 409.4h1.0v1.0h-1.0zM423.0 441.2h1.0v1.0h-1.0zM452.8 415.0h1.0v1.0h-1.0zM426.3 438.6h1.0v1.0h-1.0zM469.7 397.8h1.0v1.0h-1.0zM423.8 441.0h1.0v1.0h-1.0zM439.2 422.6h1.0v1.0h-1.0zM421.9 441.0h1.0v1.0h-1.0zM435.6 429.1h1.0v1.0h-1.0zM424.8 440.6h1.0v1.0h-1.0zM450.6 415.6h1.0v1.0h-1.0zM448.5 415.1h1.0v1.0h-1.0zM429.1 437.9h1.0v1.0h-1.0zM428.6 436.4h1.0v1.0h-1.0zM439.2 422.7h1.0v1.0h-1.0zM424.3 441.2h1.0v1.0h-1.0zM437.1 427.1h1.0v1.0h-1.0zM434.4 431.4h1.0v1.0h-1.0zM434.5 431.9h1.0v1.0h-1.0zM419.7 440.9h1.0v1.0h-1.0zM446.9 408.6h1.0v1.0h-1.0zM425.7 433.4h1.0v1.0h-1.0zM468.2 399.8h1.0v1.0h-1.0zM448.1 417.8h1.0v1.0h-1.0zM427.4 430.3h1.0v1.0h-1.0zM416.2 439.6h1.0v1.0h-1.0zM424.7 441.1h1.0v1.0h-1.0zM450.1 414.3h1.0v1.0h-1.0zM432.1 435.1h1.0v1.0h-1.0zM464.1 399.6h1.0v1.0h-1.0zM422.9 436.9h1.0v1.0h-1.0zM427.7 431.7h1.0v1.0h-1.0zM441.4 425.5h1.0v1.0h-1.0zM426.3 432.8h1.0v1.0h-1.0zM426.0 439.8h1.0v1.0h-1.0zM425.4 437.8h1.0v1.0h-1.0zM447.4 416.0h1.0v1.0h-1.0zM415.8 440.7h1.0v1.0h-1.0zM428.6 431.1h1.0v1.0h-1.0zM428.1 426.7h1.0v1.0h-1.0zM460.4 402.0h1.0v1.0h-1.0zM425.6 440.8h1.0v1.0h-1.0zM455.6 402.3h1.0v1.0h-1.0zM416.3 423.2h1.0v1.0h-1.0zM426.9 439.5h1.0v1.0h-1.0zM421.8 441.0h1.0v1.0h-1.0zM450.1 404.5h1.0v1.0h-1.0zM430.1 436.4h1.0v1.0h-1.0zM461.2 403.6h1.0v1.0h-1.0zM427.3 429.7h1.0v1.0h-1.0zM444.4 422.5h1.0v1.0h-1.0zM421.1 441.2h1.0v1.0h-1.0zM424.1 440.5h1.0v1.0h-1.0zM433.5 432.7h1.0v1.0h-1.0zM422.3 441.2h1.0v1.0h-1.0zM439.3 427.7h1.0v1.0h-1.0zM456.2 404.8h1.0v1.0h-1.0zM460.9 405.4h1.0v1.0h-1.0zM429.6 435.9h1.0v1.0h-1.0zM450.9 413.3h1.0v1.0h-1.0zM423.2 426.8h1.0v1.0h-1.0zM460.4 402.5h1.0v1.0h-1.0zM424.4 440.9h1.0v1.0h-1.0zM436.1 425.5h1.0v1.0h-1.0zM470.0 398.1h1.0v1.0h-1.0zM454.9 410.6h1.0v1.0h-1.0zM455.9 410.0h1.0v1.0h-1.0zM457.7 410.3h1.0v1.0h-1.0zM421.6 441.2h1.0v1.0h-1.0zM422.3 439.6h1.0v1.0h-1.0zM425.8 441.2h1.0v1.0h-1.0zM417.3 441.3h1.0v1.0h-1.0zM434.5 432.5h1.0v1.0h-1.0zM443.5 419.0h1.0v1.0h-1.0zM443.2 422.5h1.0v1.0h-1.0zM459.4 405.7h1.0v1.0h-1.0zM424.8 440.5h1.0v1.0h-1.0zM446.3 419.4h1.0v1.0h-1.0zM426.1 435.7h1.0v1.0h-1.0zM446.7 418.9h1.0v1.0h-1.0zM433.3 432.8h1.0v1.0h-1.0zM432.3 434.3h1.0v1.0h-1.0zM423.9 440.3h1.0v1.0h-1.0zM425.7 434.3h1.0v1.0h-1.0zM423.8 441.2h1.0v1.0h-1.0zM444.9 417.1h1.0v1.0h-1.0zM447.8 418.3h1.0v1.0h-1.0zM430.5 436.3h1.0v1.0h-1.0zM424.9 438.9h1.0v1.0h-1.0zM431.7 429.0h1.0v1.0h-1.0zM427.7 412.0h1.0v1.0h-1.0zM439.6 425.7h1.0v1.0h-1.0zM437.3 427.0h1.0v1.0h-1.0zM428.3 437.7h1.0v1.0h-1.0zM453.1 398.8h1.0v1.0h-1.0zM428.6 435.9h1.0v1.0h-1.0zM426.6 431.6h1.0v1.0h-1.0zM424.8 440.3h1.0v1.0h-1.0zM427.2 436.8h1.0v1.0h-1.0zM437.6 429.6h1.0v1.0h-1.0zM441.8 406.6h1.0v1.0h-1.0zM434.4 430.3h1.0v1.0h-1.0zM433.2 433.1h1.0v1.0h-1.0zM424.4 440.9h1.0v1.0h-1.0zM459.9 407.3h1.0v1.0h-1.0zM465.3 399.9h1.0v1.0h-1.0zM430.3 434.2h1.0v1.0h-1.0zM434.2 432.7h1.0v1.0h-1.0zM433.0 431.9h1.0v1.0h-1.0zM447.2 417.1h1.0v1.0h-1.0zM441.1 417.2h1.0v1.0h-1.0zM442.8 418.0h1.0v1.0h-1.0zM426.0 437.9h1.0v1.0h-1.0zM438.2 428.1h1.0v1.0h-1.0zM437.0 428.9h1.0v1.0h-1.0zM426.7 428.1h1.0v1.0h-1.0zM449.6 411.1h1.0v1.0h-1.0zM455.1 412.8h1.0v1.0h-1.0zM432.7 433.6h1.0v1.0h-1.0zM455.5 401.9h1.0v1.0h-1.0zM431.6 432.1h1.0v1.0h-1.0zM426.8 435.1h1.0v1.0h-1.0zM450.4 417.3h1.0v1.0h-1.0zM436.5 421.7h1.0v1.0h-1.0zM450.7 416.7h1.0v1.0h-1.0zM459.9 407.9h1.0v1.0h-1.0zM424.2 437.7h1.0v1.0h-1.0zM421.7 441.2h1.0v1.0h-1.0zM426.8 438.4h1.0v1.0h-1.0zM436.6 415.0h1.0v1.0h-1.0zM427.1 435.4h1.0v1.0h-1.0zM420.8 436.3h1.0v1.0h-1.0zM461.9 398.8h1.0v1.0h-1.0zM444.4 418.4h1.0v1.0h-1.0zM430.9 436.2h1.0v1.0h-1.0zM416.4 440.5h1.0v1.0h-1.0zM422.0 438.7h1.0v1.0h-1.0zM439.4 425.5h1.0v1.0h-1.0zM463.7 403.9h1.0v1.0h-1.0zM429.0 431.8h1.0v1.0h-1.0zM430.2 408.5h1.0v1.0h-1.0zM423.3 438.2h1.0v1.0h-1.0zM425.8 440.0h1.0v1.0h-1.0zM428.4 437.7h1.0v1.0h-1.0zM443.0 420.6h1.0v1.0h-1.0zM432.3 428.1h1.0v1.0h-1.0zM427.7 438.9h1.0v1.0h-1.0zM444.0 421.4h1.0v1.0h-1.0zM423.3 439.9h1.0v1.0h-1.0zM452.9 414.9h1.0v1.0h-1.0zM469.3 398.0h1.0v1.0h-1.0zM435.3 414.4h1.0v1.0h-1.0zM442.5 423.6h1.0v1.0h-1.0zM419.1 435.8h1.0v1.0h-1.0zM430.7 434.8h1.0v1.0h-1.0zM417.6 440.3h1.0v1.0h-1.0zM429.4 411.7h1.0v1.0h-1.0zM433.0 434.0h1.0v1.0h-1.0zM445.2 422.5h1.0v1.0h-1.0zM423.1 439.9h1.0v1.0h-1.0zM446.5 420.9h1.0v1.0h-1.0zM427.1 439.4h1.0v1.0h-1.0zM464.2 404.1h1.0v1.0h-1.0zM452.6 414.5h1.0v1.0h-1.0zM444.7 421.3h1.0v1.0h-1.0zM437.2 429.8h1.0v1.0h-1.0zM425.8 440.3h1.0v1.0h-1.0zM447.2 410.8h1.0v1.0h-1.0zM436.6 430.7h1.0v1.0h-1.0zM439.8 427.7h1.0v1.0h-1.0zM456.0 410.1h1.0v1.0h-1.0zM434.6 427.7h1.0v1.0h-1.0zM434.6 426.9h1.0v1.0h-1.0zM452.0 415.2h1.0v1.0h-1.0zM442.9 424.1h1.0v1.0h-1.0zM425.0 439.6h1.0v1.0h-1.0zM427.6 432.0h1.0v1.0h-1.0zM431.0 423.9h1.0v1.0h-1.0zM421.7 440.4h1.0v1.0h-1.0zM430.2 418.0h1.0v1.0h-1.0zM439.1 428.2h1.0v1.0h-1.0zM434.6 431.9h1.0v1.0h-1.0zM455.1 406.6h1.0v1.0h-1.0zM453.7 408.1h1.0v1.0h-1.0zM433.1 433.7h1.0v1.0h-1.0zM454.6 411.1h1.0v1.0h-1.0zM423.0 432.5h1.0v1.0h-1.0zM435.2 432.1h1.0v1.0h-1.0zM442.2 421.2h1.0v1.0h-1.0zM454.8 411.6h1.0v1.0h-1.0zM428.8 437.5h1.0v1.0h-1.0zM431.9 417.2h1.0v1.0h-1.0zM442.5 419.6h1.0v1.0h-1.0zM447.1 420.3h1.0v1.0h-1.0zM461.1 407.0h1.0v1.0h-1.0zM424.4 440.4h1.0v1.0h-1.0zM424.6 438.6h1.0v1.0h-1.0zM457.9 408.9h1.0v1.0h-1.0zM424.3 431.5h1.0v1.0h-1.0zM420.4 439.7h1.0v1.0h-1.0zM447.7 414.1h1.0v1.0h-1.0zM450.5 416.2h1.0v1.0h-1.0zM427.4 428.7h1.0v1.0h-1.0zM432.7 433.4h1.0v1.0h-1.0zM434.1 433.2h1.0v1.0h-1.0zM426.7 440.2h1.0v1.0h-1.0zM459.1 409.1h1.0v1.0h-1.0zM434.2 416.2h1.0v1.0h-1.0zM416.1 441.1h1.0v1.0h-1.0zM425.5 440.6h1.0v1.0h-1.0zM426.8 439.3h1.0v1.0h-1.0zM428.4 432.3h1.0v1.0h-1.0zM426.0 438.8h1.0v1.0h-1.0zM429.7 433.3h1.0v1.0h-1.0zM458.0 404.1h1.0v1.0h-1.0zM437.0 428.5h1.0v1.0h-1.0zM434.3 431.9h1.0v1.0h-1.0zM423.6 432.8h1.0v1.0h-1.0zM448.1 418.8h1.0v1.0h-1.0zM458.2 405.9h1.0v1.0h-1.0zM427.7 436.0h1.0v1.0h-1.0zM423.0 441.2h1.0v1.0h-1.0zM444.1 418.7h1.0v1.0h-1.0zM464.9 400.5h1.0v1.0h-1.0zM455.2 406.3h1.0v1.0h-1.0zM448.7 417.3h1.0v1.0h-1.0zM452.7 411.2h1.0v1.0h-1.0zM442.7 422.5h1.0v1.0h-1.0zM435.8 424.1h1.0v1.0h-1.0zM443.1 424.4h1.0v1.0h-1.0zM425.7 441.2h1.0v1.0h-1.0zM422.7 438.0h1.0v1.0h-1.0zM433.3 421.4h1.0v1.0h-1.0zM426.9 436.5h1.0v1.0h-1.0zM436.2 429.9h1.0v1.0h-1.0zM447.1 420.6h1.0v1.0h-1.0zM445.5 421.9h1.0v1.0h-1.0zM421.2 441.2h1.0v1.0h-1.0zM423.7 434.1h1.0v1.0h-1.0zM459.8 408.0h1.0v1.0h-1.0zM447.2 419.9h1.0v1.0h-1.0zM420.2 440.1h1.0v1.0h-1.0zM457.7 410.5h1.0v1.0h-1.0zM456.2 409.0h1.0v1.0h-1.0zM423.7 440.9h1.0v1.0h-1.0zM449.1 416.6h1.0v1.0h-1.0zM440.9 415.8h1.0v1.0h-1.0zM431.5 434.0h1.0v1.0h-1.0zM446.0 421.6h1.0v1.0h-1.0zM425.1 441.2h1.0v1.0h-1.0zM435.2 429.5h1.0v1.0h-1.0zM438.3 426.6h1.0v1.0h-1.0zM435.5 431.7h1.0v1.0h-1.0zM437.2 428.4h1.0v1.0h-1.0zM440.0 423.0h1.0v1.0h-1.0zM417.1 440.4h1.0v1.0h-1.0zM434.2 430.6h1.0v1.0h-1.0zM433.8 433.2h1.0v1.0h-1.0zM422.4 440.5h1.0v1.0h-1.0zM423.9 438.2h1.0v1.0h-1.0zM441.2 419.7h1.0v1.0h-1.0zM436.6 419.4h1.0v1.0h-1.0zM439.1 427.0h1.0v1.0h-1.0zM466.1 402.0h1.0v1.0h-1.0zM430.7 430.3h1.0v1.0h-1.0zM430.2 436.7h1.0v1.0h-1.0zM432.1 435.0h1.0v1.0h-1.0zM436.7 424.6h1.0v1.0h-1.0zM446.5 419.0h1.0v1.0h-1.0zM426.2 440.3h1.0v1.0h-1.0zM439.6 424.8h1.0v1.0h-1.0zM430.7 431.5h1.0v1.0h-1.0zM444.8 422.3h1.0v1.0h-1.0zM441.9 421.2h1.0v1.0h-1.0zM427.5 438.2h1.0v1.0h-1.0zM452.8 412.2h1.0v1.0h-1.0zM419.8 439.0h1.0v1.0h-1.0zM462.8 398.7h1.0v1.0h-1.0zM460.6 404.6h1.0v1.0h-1.0zM421.1 440.7h1.0v1.0h-1.0zM441.0 420.9h1.0v1.0h-1.0zM456.9 409.3h1.0v1.0h-1.0zM464.5 399.2h1.0v1.0h-1.0zM447.8 419.1h1.0v1.0h-1.0zM439.5 426.0h1.0v1.0h-1.0zM428.9 437.5h1.0v1.0h-1.0zM457.6 403.7h1.0v1.0h-1.0zM423.5 439.7h1.0v1.0h-1.0zM419.1 440.4h1.0v1.0h-1.0zM440.5 426.9h1.0v1.0h-1.0zM432.1 429.2h1.0v1.0h-1.0zM430.2 432.9h1.0v1.0h-1.0zM465.7 402.2h1.0v1.0h-1.0zM451.8 415.6h1.0v1.0h-1.0zM439.1 425.1h1.0v1.0h-1.0zM430.2 429.9h1.0v1.0h-1.0zM444.8 412.5h1.0v1.0h-1.0zM430.5 432.9h1.0v1.0h-1.0zM436.3 430.8h1.0v1.0h-1.0zM454.7 409.7h1.0v1.0h-1.0zM430.5 435.7h1.0v1.0h-1.0zM463.0 404.8h1.0v1.0h-1.0zM451.8 413.0h1.0v1.0h-1.0zM424.0 425.7h1.0v1.0h-1.0zM420.3 439.6h1.0v1.0h-1.0zM465.8 402.1h1.0v1.0h-1.0zM444.7 422.3h1.0v1.0h-1.0zM422.8 416.2h1.0v1.0h-1.0zM425.9 439.6h1.0v1.0h-1.0zM423.9 438.9h1.0v1.0h-1.0zM450.6 414.7h1.0v1.0h-1.0zM428.6 438.4h1.0v1.0h-1.0zM451.5 414.9h1.0v1.0h-1.0zM441.9 418.7h1.0v1.0h-1.0zM424.9 438.0h1.0v1.0h-1.0zM434.7 420.1h1.0v1.0h-1.0zM432.3 430.3h1.0v1.0h-1.0zM417.1 436.8h1.0v1.0h-1.0zM432.5 433.3h1.0v1.0h-1.0zM433.9 432.9h1.0v1.0h-1.0zM443.1 423.3h1.0v1.0h-1.0zM452.7 411.7h1.0v1.0h-1.0zM458.4 407.2h1.0v1.0h-1.0zM424.7 436.7h1.0v1.0h-1.0zM464.2 398.9h1.0v1.0h-1.0zM451.1 407.3h1.0v1.0h-1.0zM426.7 438.8h1.0v1.0h-1.0zM451.5 416.2h1.0v1.0h-1.0zM425.6 426.1h1.0v1.0h-1.0zM432.8 426.4h1.0v1.0h-1.0zM434.4 422.6h1.0v1.0h-1.0zM430.4 432.0h1.0v1.0h-1.0zM431.2 417.7h1.0v1.0h-1.0zM421.2 441.3h1.0v1.0h-1.0zM450.5 408.3h1.0v1.0h-1.0zM438.5 419.7h1.0v1.0h-1.0zM424.5 441.3h1.0v1.0h-1.0zM420.1 440.3h1.0v1.0h-1.0zM425.1 415.4h1.0v1.0h-1.0zM423.0 441.1h1.0v1.0h-1.0zM448.0 418.2h1.0v1.0h-1.0zM426.6 440.0h1.0v1.0h-1.0zM424.3 440.5h1.0v1.0h-1.0zM426.8 438.1h1.0v1.0h-1.0zM424.2 441.2h1.0v1.0h-1.0zM450.2 416.0h1.0v1.0h-1.0zM438.8 426.6h1.0v1.0h-1.0zM448.3 416.2h1.0v1.0h-1.0zM430.0 421.0h1.0v1.0h-1.0zM447.8 417.6h1.0v1.0h-1.0zM441.0 424.2h1.0v1.0h-1.0zM454.0 412.7h1.0v1.0h-1.0zM423.1 440.4h1.0v1.0h-1.0zM436.8 430.2h1.0v1.0h-1.0zM445.2 418.4h1.0v1.0h-1.0zM431.4 427.8h1.0v1.0h-1.0zM429.6 432.0h1.0v1.0h-1.0zM444.2 422.0h1.0v1.0h-1.0zM451.5 407.2h1.0v1.0h-1.0zM438.8 422.8h1.0v1.0h-1.0zM431.8 412.4h1.0v1.0h-1.0zM455.6 411.5h1.0v1.0h-1.0zM428.7 437.7h1.0v1.0h-1.0zM457.1 407.7h1.0v1.0h-1.0zM428.3 435.6h1.0v1.0h-1.0zM467.8 400.6h1.0v1.0h-1.0zM426.4 411.6h1.0v1.0h-1.0zM434.9 431.7h1.0v1.0h-1.0zM450.1 417.4h1.0v1.0h-1.0zM432.2 432.1h1.0v1.0h-1.0zM425.9 440.7h1.0v1.0h-1.0zM446.9 419.4h1.0v1.0h-1.0zM425.4 440.7h1.0v1.0h-1.0zM429.0 436.2h1.0v1.0h-1.0zM465.8 400.7h1.0v1.0h-1.0zM421.4 441.2h1.0v1.0h-1.0zM425.7 441.3h1.0v1.0h-1.0zM430.2 426.9h1.0v1.0h-1.0zM427.9 435.9h1.0v1.0h-1.0zM430.7 431.4h1.0v1.0h-1.0zM448.9 417.9h1.0v1.0h-1.0zM422.8 441.2h1.0v1.0h-1.0zM445.0 419.5h1.0v1.0h-1.0zM426.9 439.6h1.0v1.0h-1.0zM451.4 397.7h1.0v1.0h-1.0zM434.1 432.3h1.0v1.0h-1.0zM444.3 422.8h1.0v1.0h-1.0zM445.1 420.2h1.0v1.0h-1.0zM464.0 400.3h1.0v1.0h-1.0zM463.2 400.1h1.0v1.0h-1.0zM461.3 397.8h1.0v1.0h-1.0zM439.1 428.4h1.0v1.0h-1.0zM441.0 426.5h1.0v1.0h-1.0zM464.0 402.0h1.0v1.0h-1.0zM437.4 427.9h1.0v1.0h-1.0zM446.7 420.7h1.0v1.0h-1.0zM431.4 434.6h1.0v1.0h-1.0zM442.5 424.6h1.0v1.0h-1.0zM467.0 399.8h1.0v1.0h-1.0zM419.6 435.8h1.0v1.0h-1.0zM436.8 428.9h1.0v1.0h-1.0zM440.9 426.3h1.0v1.0h-1.0zM435.1 430.2h1.0v1.0h-1.0zM430.9 405.3h1.0v1.0h-1.0zM435.8 426.6h1.0v1.0h-1.0zM455.4 409.2h1.0v1.0h-1.0zM430.7 435.6h1.0v1.0h-1.0zM425.2 441.2h1.0v1.0h-1.0zM468.1 399.4h1.0v1.0h-1.0zM461.6 405.3h1.0v1.0h-1.0zM454.1 411.7h1.0v1.0h-1.0zM453.9 413.6h1.0v1.0h-1.0zM428.2 438.4h1.0v1.0h-1.0zM445.0 418.5h1.0v1.0h-1.0zM437.0 429.3h1.0v1.0h-1.0zM428.1 437.4h1.0v1.0h-1.0zM426.9 439.2h1.0v1.0h-1.0zM443.7 418.8h1.0v1.0h-1.0zM449.3 411.5h1.0v1.0h-1.0zM428.9 438.2h1.0v1.0h-1.0zM434.2 432.6h1.0v1.0h-1.0zM460.2 406.7h1.0v1.0h-1.0zM430.0 436.2h1.0v1.0h-1.0zM438.3 415.9h1.0v1.0h-1.0zM432.7 433.4h1.0v1.0h-1.0zM453.2 411.8h1.0v1.0h-1.0zM430.8 435.4h1.0v1.0h-1.0zM445.5 417.4h1.0v1.0h-1.0zM427.6 438.9h1.0v1.0h-1.0zM448.9 418.1h1.0v1.0h-1.0zM444.9 420.8h1.0v1.0h-1.0zM458.4 408.8h1.0v1.0h-1.0zM444.3 422.9h1.0v1.0h-1.0zM428.0 436.5h1.0v1.0h-1.0zM431.2 435.8h1.0v1.0h-1.0zM455.5 411.6h1.0v1.0h-1.0zM420.0 436.6h1.0v1.0h-1.0zM425.7 441.2h1.0v1.0h-1.0zM442.0 425.6h1.0v1.0h-1.0zM456.8 406.3h1.0v1.0h-1.0zM428.1 437.8h1.0v1.0h-1.0zM459.6 401.5h1.0v1.0h-1.0zM442.4 422.4h1.0v1.0h-1.0zM417.1 440.6h1.0v1.0h-1.0zM456.3 400.4h1.0v1.0h-1.0zM441.8 424.3h1.0v1.0h-1.0zM432.2 425.3h1.0v1.0h-1.0zM455.9 405.6h1.0v1.0h-1.0zM425.9 441.0h1.0v1.0h-1.0zM449.5 410.6h1.0v1.0h-1.0zM465.2 402.0h1.0v1.0h-1.0zM440.1 426.5h1.0v1.0h-1.0zM461.5 400.0h1.0v1.0h-1.0zM424.3 441.2h1.0v1.0h-1.0zM451.6 415.3h1.0v1.0h-1.0zM429.2 422.4h1.0v1.0h-1.0zM445.8 420.9h1.0v1.0h-1.0zM434.8 431.0h1.0v1.0h-1.0zM464.2 403.6h1.0v1.0h-1.0zM436.6 427.7h1.0v1.0h-1.0zM426.2 439.8h1.0v1.0h-1.0zM427.1 439.4h1.0v1.0h-1.0zM448.7 414.2h1.0v1.0h-1.0zM428.0 438.0h1.0v1.0h-1.0zM431.5 433.1h1.0v1.0h-1.0zM428.7 436.7h1.0v1.0h-1.0zM425.9 432.7h1.0v1.0h-1.0zM448.3 413.2h1.0v1.0h-1.0zM452.7 414.4h1.0v1.0h-1.0zM423.7 441.2h1.0v1.0h-1.0zM449.9 418.0h1.0v1.0h-1.0zM424.8 441.0h1.0v1.0h-1.0zM446.9 419.9h1.0v1.0h-1.0zM437.1 426.7h1.0v1.0h-1.0zM439.2 414.4h1.0v1.0h-1.0zM431.1 412.2h1.0v1.0h-1.0zM431.3 433.7h1.0v1.0h-1.0zM450.6 414.1h1.0v1.0h-1.0zM419.0 440.2h1.0v1.0h-1.0zM434.6 431.9h1.0v1.0h-1.0zM418.8 440.4h1.0v1.0h-1.0zM430.7 418.7h1.0v1.0h-1.0zM435.5 431.8h1.0v1.0h-1.0zM426.4 439.1h1.0v1.0h-1.0zM422.2 439.6h1.0v1.0h-1.0zM425.2 440.7h1.0v1.0h-1.0zM463.3 402.0h1.0v1.0h-1.0zM425.2 441.3h1.0v1.0h-1.0zM421.2 439.1h1.0v1.0h-1.0zM424.4 439.2h1.0v1.0h-1.0zM424.6 440.5h1.0v1.0h-1.0zM447.0 417.7h1.0v1.0h-1.0zM423.7 441.1h1.0v1.0h-1.0zM450.6 413.3h1.0v1.0h-1.0zM433.0 420.9h1.0v1.0h-1.0zM425.6 441.2h1.0v1.0h-1.0zM445.8 418.7h1.0v1.0h-1.0zM430.7 435.0h1.0v1.0h-1.0zM428.4 430.4h1.0v1.0h-1.0zM452.2 415.0h1.0v1.0h-1.0zM436.6 430.1h1.0v1.0h-1.0zM422.9 439.6h1.0v1.0h-1.0zM436.2 429.7h1.0v1.0h-1.0zM426.9 439.9h1.0v1.0h-1.0zM425.0 413.5h1.0v1.0h-1.0zM447.3 415.7h1.0v1.0h-1.0zM458.6 407.9h1.0v1.0h-1.0zM434.8 427.5h1.0v1.0h-1.0zM429.1 436.1h1.0v1.0h-1.0zM419.1 432.0h1.0v1.0h-1.0zM427.1 437.4h1.0v1.0h-1.0zM439.7 426.0h1.0v1.0h-1.0zM442.1 421.1h1.0v1.0h-1.0zM416.5 440.8h1.0v1.0h-1.0zM442.9 422.5h1.0v1.0h-1.0zM457.6 409.3h1.0v1.0h-1.0zM438.9 426.9h1.0v1.0h-1.0zM421.1 434.5h1.0v1.0h-1.0zM424.9 440.8h1.0v1.0h-1.0zM442.7 419.8h1.0v1.0h-1.0zM425.5 440.5h1.0v1.0h-1.0zM427.8 435.9h1.0v1.0h-1.0zM432.6 431.1h1.0v1.0h-1.0zM426.6 440.0h1.0v1.0h-1.0zM459.5 407.5h1.0v1.0h-1.0zM468.4 399.4h1.0v1.0h-1.0zM462.3 404.5h1.0v1.0h-1.0zM453.5 408.8h1.0v1.0h-1.0zM440.3 426.2h1.0v1.0h-1.0zM429.7 434.0h1.0v1.0h-1.0zM417.1 427.5h1.0v1.0h-1.0zM453.0 414.4h1.0v1.0h-1.0zM440.2 425.6h1.0v1.0h-1.0zM430.4 434.3h1.0v1.0h-1.0zM415.8 439.0h1.0v1.0h-1.0zM427.2 428.4h1.0v1.0h-1.0zM426.6 438.0h1.0v1.0h-1.0zM447.8 418.3h1.0v1.0h-1.0zM417.8 437.4h1.0v1.0h-1.0zM426.7 439.0h1.0v1.0h-1.0zM429.5 435.4h1.0v1.0h-1.0zM428.0 438.0h1.0v1.0h-1.0zM422.2 436.9h1.0v1.0h-1.0zM425.7 441.1h1.0v1.0h-1.0zM441.7 425.2h1.0v1.0h-1.0zM441.8 423.4h1.0v1.0h-1.0zM430.3 435.0h1.0v1.0h-1.0zM424.8 439.7h1.0v1.0h-1.0zM443.6 422.3h1.0v1.0h-1.0zM433.5 430.9h1.0v1.0h-1.0zM422.6 438.2h1.0v1.0h-1.0zM453.1 403.7h1.0v1.0h-1.0zM450.7 417.2h1.0v1.0h-1.0zM470.2 398.3h1.0v1.0h-1.0zM437.6 427.4h1.0v1.0h-1.0z" fill="#e2301c" fill-opacity="0.85"/>
<path d="M437.7 440.7h1.05v1.05h-1.05zM449.0 429.4h1.05v1.05h-1.05zM467.5 411.6h1.05v1.05h-1.05zM441.1 437.4h1.05v1.05h-1.05zM432.4 445.9h1.05v1.05h-1.05zM462.0 418.2h1.05v1.05h-1.05zM457.7 422.1h1.05v1.05h-1.05zM436.4 441.8h1.05v1.05h-1.05zM454.6 424.2h1.05v1.05h-1.05zM470.9 408.5h1.05v1.05h-1.05zM464.0 416.0h1.05v1.05h-1.05zM465.4 413.8h1.05v1.05h-1.05zM454.8 425.4h1.05v1.05h-1.05zM446.9 431.8h1.05v1.05h-1.05zM469.3 409.8h1.05v1.05h-1.05zM436.8 441.4h1.05v1.05h-1.05zM432.0 447.8h1.05v1.05h-1.05zM433.3 445.6h1.05v1.05h-1.05zM437.9 441.0h1.05v1.05h-1.05zM444.7 434.8h1.05v1.05h-1.05zM433.8 444.3h1.05v1.05h-1.05zM466.0 416.0h1.05v1.05h-1.05zM465.8 413.8h1.05v1.05h-1.05zM435.7 444.1h1.05v1.05h-1.05zM434.1 444.8h1.05v1.05h-1.05zM432.2 447.4h1.05v1.05h-1.05zM437.1 441.2h1.05v1.05h-1.05zM455.4 424.7h1.05v1.05h-1.05zM447.4 433.1h1.05v1.05h-1.05zM440.9 437.3h1.05v1.05h-1.05zM459.9 419.3h1.05v1.05h-1.05zM440.9 438.3h1.05v1.05h-1.05zM470.8 408.5h1.05v1.05h-1.05zM433.3 444.8h1.05v1.05h-1.05zM431.9 446.6h1.05v1.05h-1.05zM431.2 446.9h1.05v1.05h-1.05zM455.5 424.5h1.05v1.05h-1.05zM432.3 446.1h1.05v1.05h-1.05zM465.1 414.6h1.05v1.05h-1.05zM444.8 433.6h1.05v1.05h-1.05zM443.0 437.3h1.05v1.05h-1.05zM449.7 429.5h1.05v1.05h-1.05zM431.8 446.7h1.05v1.05h-1.05zM451.5 427.0h1.05v1.05h-1.05zM466.5 412.6h1.05v1.05h-1.05zM442.1 436.8h1.05v1.05h-1.05zM445.3 433.2h1.05v1.05h-1.05zM435.1 443.3h1.05v1.05h-1.05zM457.5 421.3h1.05v1.05h-1.05zM466.7 413.3h1.05v1.05h-1.05zM444.9 434.9h1.05v1.05h-1.05zM435.6 443.1h1.05v1.05h-1.05zM450.9 428.4h1.05v1.05h-1.05zM465.7 413.3h1.05v1.05h-1.05zM437.0 443.2h1.05v1.05h-1.05zM436.5 442.0h1.05v1.05h-1.05zM445.3 433.5h1.05v1.05h-1.05zM441.4 436.8h1.05v1.05h-1.05zM469.3 410.1h1.05v1.05h-1.05zM434.5 444.2h1.05v1.05h-1.05zM440.0 439.1h1.05v1.05h-1.05zM454.4 424.9h1.05v1.05h-1.05zM467.4 411.7h1.05v1.05h-1.05zM457.1 421.9h1.05v1.05h-1.05zM455.7 423.2h1.05v1.05h-1.05zM459.0 420.0h1.05v1.05h-1.05zM454.2 424.3h1.05v1.05h-1.05zM436.8 442.2h1.05v1.05h-1.05zM431.2 446.7h1.05v1.05h-1.05zM443.2 437.1h1.05v1.05h-1.05zM469.2 410.3h1.05v1.05h-1.05zM468.5 410.8h1.05v1.05h-1.05zM464.6 414.4h1.05v1.05h-1.05zM441.5 437.7h1.05v1.05h-1.05zM440.5 437.8h1.05v1.05h-1.05zM448.1 430.3h1.05v1.05h-1.05zM446.0 432.7h1.05v1.05h-1.05zM434.3 443.7h1.05v1.05h-1.05zM442.0 436.4h1.05v1.05h-1.05zM447.8 430.6h1.05v1.05h-1.05zM454.3 424.6h1.05v1.05h-1.05zM435.8 442.2h1.05v1.05h-1.05zM441.6 436.6h1.05v1.05h-1.05zM450.5 428.0h1.05v1.05h-1.05zM459.6 420.9h1.05v1.05h-1.05zM457.4 422.4h1.05v1.05h-1.05zM433.9 443.9h1.05v1.05h-1.05zM459.5 419.7h1.05v1.05h-1.05zM436.1 442.9h1.05v1.05h-1.05zM452.0 427.1h1.05v1.05h-1.05zM435.2 443.0h1.05v1.05h-1.05zM469.2 410.5h1.05v1.05h-1.05zM461.5 417.8h1.05v1.05h-1.05zM435.9 442.2h1.05v1.05h-1.05zM437.7 441.2h1.05v1.05h-1.05zM433.6 444.5h1.05v1.05h-1.05zM466.1 414.4h1.05v1.05h-1.05zM446.8 431.5h1.05v1.05h-1.05zM436.0 442.8h1.05v1.05h-1.05zM440.5 437.8h1.05v1.05h-1.05zM442.2 438.2h1.05v1.05h-1.05zM449.0 429.8h1.05v1.05h-1.05zM437.0 442.0h1.05v1.05h-1.05zM435.3 442.6h1.05v1.05h-1.05zM466.2 414.0h1.05v1.05h-1.05zM464.6 414.6h1.05v1.05h-1.05zM458.5 421.0h1.05v1.05h-1.05zM467.3 412.0h1.05v1.05h-1.05zM431.2 446.7h1.05v1.05h-1.05zM441.1 437.4h1.05v1.05h-1.05zM454.6 424.3h1.05v1.05h-1.05zM462.5 416.5h1.05v1.05h-1.05zM437.1 441.8h1.05v1.05h-1.05zM463.4 416.7h1.05v1.05h-1.05zM439.5 438.6h1.05v1.05h-1.05zM444.1 434.4h1.05v1.05h-1.05zM436.9 441.4h1.05v1.05h-1.05zM432.8 445.1h1.05v1.05h-1.05zM450.5 431.0h1.05v1.05h-1.05zM443.2 436.2h1.05v1.05h-1.05zM434.2 444.0h1.05v1.05h-1.05zM468.0 412.2h1.05v1.05h-1.05zM453.2 425.5h1.05v1.05h-1.05zM456.8 424.2h1.05v1.05h-1.05zM435.7 442.4h1.05v1.05h-1.05zM435.8 442.6h1.05v1.05h-1.05zM457.6 421.1h1.05v1.05h-1.05zM450.5 428.0h1.05v1.05h-1.05zM445.7 433.1h1.05v1.05h-1.05zM440.9 438.1h1.05v1.05h-1.05zM468.4 410.9h1.05v1.05h-1.05zM463.0 415.9h1.05v1.05h-1.05zM452.7 426.8h1.05v1.05h-1.05zM459.7 420.1h1.05v1.05h-1.05zM449.4 430.1h1.05v1.05h-1.05zM457.5 421.4h1.05v1.05h-1.05zM440.4 439.5h1.05v1.05h-1.05zM456.5 423.2h1.05v1.05h-1.05zM444.6 433.6h1.05v1.05h-1.05zM467.8 411.4h1.05v1.05h-1.05zM460.1 420.4h1.05v1.05h-1.05zM470.2 409.7h1.05v1.05h-1.05zM460.2 420.0h1.05v1.05h-1.05zM457.1 422.7h1.05v1.05h-1.05zM443.0 436.2h1.05v1.05h-1.05zM439.7 439.2h1.05v1.05h-1.05zM446.7 431.8h1.05v1.05h-1.05zM446.3 432.0h1.05v1.05h-1.05zM447.6 431.9h1.05v1.05h-1.05zM437.0 441.0h1.05v1.05h-1.05zM439.2 439.5h1.05v1.05h-1.05zM434.1 444.7h1.05v1.05h-1.05zM452.0 426.7h1.05v1.05h-1.05zM432.1 445.7h1.05v1.05h-1.05zM469.3 413.0h1.05v1.05h-1.05zM433.4 446.3h1.05v1.05h-1.05zM454.1 424.6h1.05v1.05h-1.05zM431.6 447.9h1.05v1.05h-1.05zM450.6 428.6h1.05v1.05h-1.05zM447.3 431.2h1.05v1.05h-1.05zM447.1 431.3h1.05v1.05h-1.05zM431.5 446.4h1.05v1.05h-1.05zM459.8 420.4h1.05v1.05h-1.05zM450.8 428.1h1.05v1.05h-1.05zM454.7 424.1h1.05v1.05h-1.05zM435.4 443.2h1.05v1.05h-1.05zM466.5 413.4h1.05v1.05h-1.05zM446.9 431.6h1.05v1.05h-1.05zM436.9 441.2h1.05v1.05h-1.05zM457.7 421.5h1.05v1.05h-1.05zM443.7 435.7h1.05v1.05h-1.05zM470.5 409.7h1.05v1.05h-1.05zM435.6 443.0h1.05v1.05h-1.05zM462.6 417.6h1.05v1.05h-1.05zM445.4 433.5h1.05v1.05h-1.05zM446.0 432.3h1.05v1.05h-1.05zM436.4 441.9h1.05v1.05h-1.05zM447.3 431.1h1.05v1.05h-1.05zM437.5 441.0h1.05v1.05h-1.05zM446.4 432.0h1.05v1.05h-1.05zM434.5 444.8h1.05v1.05h-1.05zM440.4 437.8h1.05v1.05h-1.05zM455.4 423.8h1.05v1.05h-1.05zM464.7 414.9h1.05v1.05h-1.05zM469.7 409.6h1.05v1.05h-1.05zM456.1 422.9h1.05v1.05h-1.05zM470.8 408.8h1.05v1.05h-1.05zM467.9 413.3h1.05v1.05h-1.05zM442.7 438.3h1.05v1.05h-1.05zM434.7 443.6h1.05v1.05h-1.05zM458.5 420.4h1.05v1.05h-1.05zM433.3 444.6h1.05v1.05h-1.05zM463.8 415.8h1.05v1.05h-1.05zM434.2 444.8h1.05v1.05h-1.05zM470.0 411.4h1.05v1.05h-1.05zM431.6 447.5h1.05v1.05h-1.05zM436.2 442.4h1.05v1.05h-1.05zM465.9 413.5h1.05v1.05h-1.05zM446.6 432.2h1.05v1.05h-1.05zM436.2 442.2h1.05v1.05h-1.05zM435.3 442.7h1.05v1.05h-1.05zM440.4 438.4h1.05v1.05h-1.05zM461.0 419.2h1.05v1.05h-1.05zM451.5 428.0h1.05v1.05h-1.05zM439.8 438.5h1.05v1.05h-1.05zM455.4 423.4h1.05v1.05h-1.05zM437.3 441.7h1.05v1.05h-1.05zM454.7 425.9h1.05v1.05h-1.05zM440.6 437.5h1.05v1.05h-1.05zM433.0 445.2h1.05v1.05h-1.05zM464.4 414.8h1.05v1.05h-1.05zM465.1 414.2h1.05v1.05h-1.05zM440.2 438.2h1.05v1.05h-1.05zM454.7 426.5h1.05v1.05h-1.05zM458.7 420.9h1.05v1.05h-1.05zM469.0 411.1h1.05v1.05h-1.05zM433.5 444.4h1.05v1.05h-1.05zM438.1 440.4h1.05v1.05h-1.05zM433.9 444.4h1.05v1.05h-1.05zM450.6 428.6h1.05v1.05h-1.05zM434.4 444.2h1.05v1.05h-1.05zM437.7 442.1h1.05v1.05h-1.05zM467.6 412.3h1.05v1.05h-1.05zM468.5 411.1h1.05v1.05h-1.05zM451.9 426.7h1.05v1.05h-1.05zM450.0 428.8h1.05v1.05h-1.05zM470.0 409.6h1.05v1.05h-1.05zM434.3 443.7h1.05v1.05h-1.05zM442.1 436.9h1.05v1.05h-1.05zM453.5 427.4h1.05v1.05h-1.05zM440.2 438.7h1.05v1.05h-1.05zM470.6 409.1h1.05v1.05h-1.05zM433.5 444.7h1.05v1.05h-1.05zM463.7 415.3h1.05v1.05h-1.05zM442.2 439.9h1.05v1.05h-1.05zM432.2 446.9h1.05v1.05h-1.05zM449.8 429.4h1.05v1.05h-1.05zM439.0 441.3h1.05v1.05h-1.05zM438.8 440.7h1.05v1.05h-1.05zM470.7 409.2h1.05v1.05h-1.05zM457.8 420.9h1.05v1.05h-1.05zM461.3 417.6h1.05v1.05h-1.05zM433.6 444.7h1.05v1.05h-1.05zM457.1 421.6h1.05v1.05h-1.05zM435.6 443.4h1.05v1.05h-1.05zM450.9 427.9h1.05v1.05h-1.05zM454.6 424.1h1.05v1.05h-1.05zM449.1 429.4h1.05v1.05h-1.05zM463.1 416.2h1.05v1.05h-1.05zM456.6 422.3h1.05v1.05h-1.05zM431.2 446.6h1.05v1.05h-1.05zM448.2 430.4h1.05v1.05h-1.05zM441.2 437.8h1.05v1.05h-1.05zM432.5 445.4h1.05v1.05h-1.05zM434.9 443.1h1.05v1.05h-1.05zM455.0 423.6h1.05v1.05h-1.05zM449.0 430.1h1.05v1.05h-1.05zM437.5 441.1h1.05v1.05h-1.05zM456.2 423.0h1.05v1.05h-1.05zM470.7 410.0h1.05v1.05h-1.05z" fill="#2a1f88" fill-opacity="0.95"/>
<path d="M395.30 371.30V476.80H504.90" stroke="#5a5a5a" stroke-width="1.35" fill="none"/>
<text x="392.40" y="479.80" font-size="6.8" text-anchor="end" fill="#333" stroke="#333" stroke-width="0.18">1</text>
<text x="392.40" y="462.28" font-size="6.8" text-anchor="end" fill="#333" stroke="#333" stroke-width="0.18">10</text>
<text x="392.40" y="444.77" font-size="6.8" text-anchor="end" fill="#333" stroke="#333" stroke-width="0.18">100</text>
<text x="392.40" y="427.25" font-size="6.8" text-anchor="end" fill="#333" stroke="#333" stroke-width="0.18">1,000</text>
<text x="392.40" y="409.73" font-size="6.8" text-anchor="end" fill="#333" stroke="#333" stroke-width="0.18">10,000</text>
<text x="392.40" y="392.22" font-size="6.8" text-anchor="end" fill="#333" stroke="#333" stroke-width="0.18">100,000</text>
<text x="392.40" y="374.70" font-size="6.8" text-anchor="end" fill="#333" stroke="#333" stroke-width="0.18">1,000,000</text>
<text x="396.70" y="483.80" font-size="6.8" text-anchor="end" fill="#333" transform="rotate(-45 396.70 483.80)" stroke="#333" stroke-width="0.18">1</text>
<text x="414.90" y="483.80" font-size="6.8" text-anchor="end" fill="#333" transform="rotate(-45 414.90 483.80)" stroke="#333" stroke-width="0.18">10</text>
<text x="433.10" y="483.80" font-size="6.8" text-anchor="end" fill="#333" transform="rotate(-45 433.10 483.80)" stroke="#333" stroke-width="0.18">100</text>
<text x="451.30" y="483.80" font-size="6.8" text-anchor="end" fill="#333" transform="rotate(-45 451.30 483.80)" stroke="#333" stroke-width="0.18">1,000</text>
<text x="469.50" y="483.80" font-size="6.8" text-anchor="end" fill="#333" transform="rotate(-45 469.50 483.80)" stroke="#333" stroke-width="0.18">10,000</text>
<text x="487.70" y="483.80" font-size="6.8" text-anchor="end" fill="#333" transform="rotate(-45 487.70 483.80)" stroke="#333" stroke-width="0.18">100,000</text>
<text x="505.90" y="483.80" font-size="6.8" text-anchor="end" fill="#333" transform="rotate(-45 505.90 483.80)" stroke="#333" stroke-width="0.18">1,000,000</text>
<text x="449.15" y="514.40" font-size="8.8" text-anchor="middle" fill="#333" font-weight="bold" textLength="19.00" lengthAdjust="spacingAndGlyphs">Control</text>
<text x="357.60" y="423.50" font-size="9.2" text-anchor="middle" fill="#333" font-weight="bold" textLength="14.70" lengthAdjust="spacingAndGlyphs" transform="rotate(-90 357.60 423.50)">Comb</text>
<text x="468.90" y="366.10" font-size="8.3" text-anchor="middle" fill="#222" stroke="#222" stroke-width="0.18">100</text>
<text x="487.10" y="366.10" font-size="8.3" text-anchor="middle" fill="#222" stroke="#222" stroke-width="0.18">10</text>
<text x="507.10" y="392.22" font-size="8.3" text-anchor="start" fill="#222" stroke="#222" stroke-width="0.18">0.1</text>
<text x="59.80" y="544.60" font-size="8.2" text-anchor="start" fill="#222" textLength="116.30" lengthAdjust="spacingAndGlyphs" stroke="none">up-regulated genes (vs control)</text>
<clipPath id="cO1"><circle cx="51.6" cy="600.3" r="27.9"/></clipPath>
<clipPath id="cC1"><circle cx="68.9" cy="619.6" r="42.3"/></clipPath>
<circle cx="68.9" cy="619.6" r="42.3" fill="#8696c6"/>
<circle cx="51.6" cy="600.3" r="27.9" fill="#ea8475"/>
<g clip-path="url(#cC1)"><circle cx="51.6" cy="600.3" r="27.9" fill="#955a82"/></g>
<circle cx="73.9" cy="581.1" r="11.9" fill="#b0de95"/>
<g clip-path="url(#cC1)"><circle cx="73.9" cy="581.1" r="11.9" fill="#6aae78"/></g>
<g clip-path="url(#cC1)"><g clip-path="url(#cO1)"><circle cx="73.9" cy="581.1" r="11.9" fill="#5a946a"/></g></g>
<circle cx="51.6" cy="600.3" r="27.9" fill="none" stroke="#4a1818" stroke-width="0.9"/>
<circle cx="68.9" cy="619.6" r="42.3" fill="none" stroke="#1a1a2a" stroke-width="0.9"/>
<circle cx="73.9" cy="581.1" r="11.9" fill="none" stroke="#102010" stroke-width="0.9"/>
<text x="14.40" y="568.20" font-size="6.5" text-anchor="middle" fill="#222" stroke="none">OR21</text>
<text x="14.50" y="575.60" font-size="6.5" text-anchor="middle" fill="#222" stroke="none">(569)</text>
<text x="68.50" y="561.20" font-size="6.5" text-anchor="middle" fill="#222" stroke="none">1</text>
<text x="99.10" y="568.20" font-size="6.5" text-anchor="middle" fill="#222" stroke="none">EPZ</text>
<text x="99.30" y="575.60" font-size="6.5" text-anchor="middle" fill="#222" stroke="none">(95)</text>
<text x="36.50" y="589.00" font-size="7.0" text-anchor="middle" fill="#222" stroke="none">81</text>
<text x="53.80" y="609.40" font-size="7.0" text-anchor="middle" fill="#222" stroke="none">453</text>
<text x="79.40" y="635.70" font-size="7.0" text-anchor="middle" fill="#222" stroke="none">821</text>
<text x="75.20" y="578.30" font-size="7.0" text-anchor="middle" fill="#222" stroke="none">23</text>
<text x="69.00" y="589.00" font-size="7.0" text-anchor="middle" fill="#222" stroke="none">34</text>
<text x="80.00" y="589.00" font-size="7.0" text-anchor="middle" fill="#222" stroke="none">37</text>
<text x="67.90" y="672.80" font-size="6.5" text-anchor="middle" fill="#222" stroke="none">Comb</text>
<text x="67.50" y="680.20" font-size="6.5" text-anchor="middle" fill="#222" stroke="none">(1,345)</text>
<line x1="67.90" y1="562.60" x2="64.60" y2="577.00" stroke="#111" stroke-width="0.8"/>
<clipPath id="cO2"><circle cx="174.75" cy="598.75" r="27.6"/></clipPath>
<clipPath id="cC2"><circle cx="192.75" cy="618.1" r="42.1"/></clipPath>
<circle cx="192.75" cy="618.1" r="42.1" fill="#8696c6"/>
<circle cx="174.75" cy="598.75" r="27.6" fill="#ea8475"/>
<g clip-path="url(#cC2)"><circle cx="174.75" cy="598.75" r="27.6" fill="#955a82"/></g>
<circle cx="197.1" cy="580.0" r="11.8" fill="#b0de95"/>
<g clip-path="url(#cC2)"><circle cx="197.1" cy="580.0" r="11.8" fill="#6aae78"/></g>
<g clip-path="url(#cC2)"><g clip-path="url(#cO2)"><circle cx="197.1" cy="580.0" r="11.8" fill="#5a946a"/></g></g>
<circle cx="174.75" cy="598.75" r="27.6" fill="none" stroke="#4a1818" stroke-width="0.9"/>
<circle cx="192.75" cy="618.1" r="42.1" fill="none" stroke="#1a1a2a" stroke-width="0.9"/>
<circle cx="197.1" cy="580.0" r="11.8" fill="none" stroke="#102010" stroke-width="0.9"/>
<text x="137.90" y="568.20" font-size="6.5" text-anchor="middle" fill="#222" stroke="none">OR21</text>
<text x="138.10" y="575.80" font-size="6.5" text-anchor="middle" fill="#222" stroke="none">(255)</text>
<text x="197.40" y="561.00" font-size="6.5" text-anchor="middle" fill="#222" stroke="none">2</text>
<text x="230.60" y="568.20" font-size="6.5" text-anchor="middle" fill="#222" stroke="none">EPZ</text>
<text x="230.40" y="575.80" font-size="6.5" text-anchor="middle" fill="#222" stroke="none">(99)</text>
<text x="158.80" y="588.20" font-size="7.0" text-anchor="middle" fill="#222" stroke="none">86</text>
<text x="177.50" y="604.00" font-size="7.0" text-anchor="middle" fill="#222" stroke="none">145</text>
<text x="198.50" y="634.70" font-size="7.0" text-anchor="middle" fill="#222" stroke="none">376</text>
<text x="198.80" y="575.70" font-size="7.0" text-anchor="middle" fill="#222" stroke="none">21</text>
<text x="192.10" y="586.50" font-size="7.0" text-anchor="middle" fill="#222" stroke="none">22</text>
<text x="203.20" y="586.50" font-size="7.0" text-anchor="middle" fill="#222" stroke="none">54</text>
<text x="192.10" y="670.20" font-size="6.5" text-anchor="middle" fill="#222" stroke="none">Comb</text>
<text x="192.00" y="678.50" font-size="6.5" text-anchor="middle" fill="#222" stroke="none">(597)</text>
<line x1="193.60" y1="561.60" x2="188.90" y2="573.80" stroke="#111" stroke-width="0.8"/>
<text x="7.80" y="616.80" font-size="8.8" text-anchor="middle" fill="#222" font-weight="bold" textLength="12.70" lengthAdjust="spacingAndGlyphs" transform="rotate(-90 7.80 616.80)">MT-1</text>
<text x="131.80" y="616.30" font-size="8.8" text-anchor="middle" fill="#222" font-weight="bold" textLength="12.50" lengthAdjust="spacingAndGlyphs" transform="rotate(-90 131.80 616.30)">MT-2</text>
<line x1="284.50" y1="558.70" x2="284.50" y2="633.00" stroke="#111" stroke-width="1.0"/>
<line x1="284.00" y1="632.50" x2="368.00" y2="632.50" stroke="#111" stroke-width="1.0"/>
<line x1="281.80" y1="629.40" x2="284.80" y2="629.40" stroke="#111" stroke-width="0.9"/>
<text x="278.30" y="631.70" font-size="6.4" text-anchor="end" fill="#2a2a2a" stroke="#2a2a2a" stroke-width="0.18">0.0</text>
<line x1="281.80" y1="615.74" x2="284.80" y2="615.74" stroke="#111" stroke-width="0.9"/>
<text x="278.30" y="618.04" font-size="6.4" text-anchor="end" fill="#2a2a2a" stroke="#2a2a2a" stroke-width="0.18">0.2</text>
<line x1="281.80" y1="602.08" x2="284.80" y2="602.08" stroke="#111" stroke-width="0.9"/>
<text x="278.30" y="604.38" font-size="6.4" text-anchor="end" fill="#2a2a2a" stroke="#2a2a2a" stroke-width="0.18">0.4</text>
<line x1="281.80" y1="588.42" x2="284.80" y2="588.42" stroke="#111" stroke-width="0.9"/>
<text x="278.30" y="590.72" font-size="6.4" text-anchor="end" fill="#2a2a2a" stroke="#2a2a2a" stroke-width="0.18">0.6</text>
<line x1="281.80" y1="574.76" x2="284.80" y2="574.76" stroke="#111" stroke-width="0.9"/>
<text x="278.30" y="577.06" font-size="6.4" text-anchor="end" fill="#2a2a2a" stroke="#2a2a2a" stroke-width="0.18">0.8</text>
<line x1="281.80" y1="561.10" x2="284.80" y2="561.10" stroke="#111" stroke-width="0.9"/>
<text x="278.30" y="563.40" font-size="6.4" text-anchor="end" fill="#2a2a2a" stroke="#2a2a2a" stroke-width="0.18">1.0</text>
<text x="265.40" y="596.00" font-size="7.0" text-anchor="middle" fill="#2a2a2a" textLength="21.00" lengthAdjust="spacingAndGlyphs" transform="rotate(-90 265.40 596.00)" stroke="#2a2a2a" stroke-width="0.18">β-value</text>
<path d="M293.40 561.10 L301.40 561.10 C301.40 561.67 301.50 563.38 301.40 564.51 C301.30 565.65 301.07 566.22 300.80 567.93 C300.53 569.64 300.10 572.48 299.80 574.76 C299.50 577.04 299.20 579.31 299.00 581.59 C298.80 583.87 298.68 586.14 298.60 588.42 C298.52 590.70 298.50 592.97 298.50 595.25 C298.50 597.53 298.48 600.03 298.60 602.08 C298.72 604.13 298.93 605.84 299.20 607.54 C299.47 609.25 299.73 610.73 300.20 612.32 C300.67 613.92 301.40 615.63 302.00 617.11 C302.60 618.59 303.35 619.72 303.80 621.20 C304.25 622.68 304.53 624.62 304.70 625.99 C304.87 627.35 304.78 628.83 304.80 629.40 L290.00 629.40 C290.02 628.83 289.93 627.35 290.10 625.99 C290.27 624.62 290.55 622.68 291.00 621.20 C291.45 619.72 292.20 618.59 292.80 617.11 C293.40 615.63 294.13 613.92 294.60 612.32 C295.07 610.73 295.33 609.25 295.60 607.54 C295.87 605.84 296.08 604.13 296.20 602.08 C296.32 600.03 296.30 597.53 296.30 595.25 C296.30 592.97 296.28 590.70 296.20 588.42 C296.12 586.14 296.00 583.87 295.80 581.59 C295.60 579.31 295.30 577.04 295.00 574.76 C294.70 572.48 294.27 569.64 294.00 567.93 C293.73 566.22 293.50 565.65 293.40 564.51 C293.30 563.38 293.40 561.67 293.40 561.10Z" fill="#4b5670"/>
<line x1="297.40" y1="561.40" x2="297.40" y2="629.10" stroke="#0a0a0a" stroke-width="1.2"/>
<circle cx="297.40" cy="619.84" r="0.9" fill="#fff"/>
<line x1="297.40" y1="632.30" x2="297.40" y2="635.20" stroke="#111" stroke-width="0.9"/>
<path d="M310.80 561.10 L322.80 561.10 C322.82 561.67 323.00 563.15 322.90 564.51 C322.80 565.88 322.48 567.59 322.20 569.30 C321.92 571.00 321.53 572.71 321.20 574.76 C320.87 576.81 320.47 579.31 320.20 581.59 C319.93 583.87 319.70 586.14 319.60 588.42 C319.50 590.70 319.57 592.97 319.60 595.25 C319.63 597.53 319.60 599.80 319.80 602.08 C320.00 604.36 320.40 606.86 320.80 608.91 C321.20 610.96 321.75 612.67 322.20 614.37 C322.65 616.08 323.18 617.33 323.50 619.15 C323.82 620.98 324.00 623.59 324.10 625.30 C324.20 627.01 324.10 628.72 324.10 629.40 L309.50 629.40 C309.50 628.72 309.40 627.01 309.50 625.30 C309.60 623.59 309.78 620.98 310.10 619.15 C310.42 617.33 310.95 616.08 311.40 614.37 C311.85 612.67 312.40 610.96 312.80 608.91 C313.20 606.86 313.60 604.36 313.80 602.08 C314.00 599.80 313.97 597.53 314.00 595.25 C314.03 592.97 314.10 590.70 314.00 588.42 C313.90 586.14 313.67 583.87 313.40 581.59 C313.13 579.31 312.73 576.81 312.40 574.76 C312.07 572.71 311.68 571.00 311.40 569.30 C311.12 567.59 310.80 565.88 310.70 564.51 C310.60 563.15 310.78 561.67 310.80 561.10Z" fill="#c80f2e"/>
<line x1="316.80" y1="561.40" x2="316.80" y2="629.10" stroke="#0a0a0a" stroke-width="1.2"/>
<circle cx="316.80" cy="603.45" r="0.9" fill="#fff"/>
<line x1="316.80" y1="632.30" x2="316.80" y2="635.20" stroke="#111" stroke-width="0.9"/>
<path d="M332.90 561.10 L339.90 561.10 C339.90 561.67 339.98 563.15 339.90 564.51 C339.82 565.88 339.60 567.59 339.40 569.30 C339.20 571.00 338.93 572.71 338.70 574.76 C338.47 576.81 338.18 579.31 338.00 581.59 C337.82 583.87 337.67 586.14 337.60 588.42 C337.53 590.70 337.55 592.97 337.60 595.25 C337.65 597.53 337.67 599.80 337.90 602.08 C338.13 604.36 338.58 606.86 339.00 608.91 C339.42 610.96 339.90 612.67 340.40 614.37 C340.90 616.08 341.48 617.33 342.00 619.15 C342.52 620.98 343.22 623.59 343.50 625.30 C343.78 627.01 343.67 628.72 343.70 629.40 L329.10 629.40 C329.13 628.72 329.02 627.01 329.30 625.30 C329.58 623.59 330.28 620.98 330.80 619.15 C331.32 617.33 331.90 616.08 332.40 614.37 C332.90 612.67 333.38 610.96 333.80 608.91 C334.22 606.86 334.67 604.36 334.90 602.08 C335.13 599.80 335.15 597.53 335.20 595.25 C335.25 592.97 335.27 590.70 335.20 588.42 C335.13 586.14 334.98 583.87 334.80 581.59 C334.62 579.31 334.33 576.81 334.10 574.76 C333.87 572.71 333.60 571.00 333.40 569.30 C333.20 567.59 332.98 565.88 332.90 564.51 C332.82 563.15 332.90 561.67 332.90 561.10Z" fill="#3aa83a"/>
<line x1="336.40" y1="561.40" x2="336.40" y2="629.10" stroke="#0a0a0a" stroke-width="1.2"/>
<circle cx="336.40" cy="625.30" r="0.9" fill="#fff"/>
<line x1="336.40" y1="632.30" x2="336.40" y2="635.20" stroke="#111" stroke-width="0.9"/>
<path d="M349.80 561.10 L361.80 561.10 C361.80 561.67 361.90 562.81 361.80 564.51 C361.70 566.22 361.50 569.07 361.20 571.35 C360.90 573.62 360.40 575.90 360.00 578.17 C359.60 580.45 359.13 582.73 358.80 585.00 C358.47 587.28 358.13 589.56 358.00 591.83 C357.87 594.11 357.93 596.39 358.00 598.66 C358.07 600.94 358.17 603.45 358.40 605.50 C358.63 607.54 359.00 609.25 359.40 610.96 C359.80 612.67 360.30 614.15 360.80 615.74 C361.30 617.33 361.93 618.81 362.40 620.52 C362.87 622.23 363.38 624.51 363.60 625.99 C363.82 627.46 363.68 628.83 363.70 629.40 L347.90 629.40 C347.92 628.83 347.78 627.46 348.00 625.99 C348.22 624.51 348.73 622.23 349.20 620.52 C349.67 618.81 350.30 617.33 350.80 615.74 C351.30 614.15 351.80 612.67 352.20 610.96 C352.60 609.25 352.97 607.54 353.20 605.50 C353.43 603.45 353.53 600.94 353.60 598.66 C353.67 596.39 353.73 594.11 353.60 591.83 C353.47 589.56 353.13 587.28 352.80 585.00 C352.47 582.73 352.00 580.45 351.60 578.17 C351.20 575.90 350.70 573.62 350.40 571.35 C350.10 569.07 349.90 566.22 349.80 564.51 C349.70 562.81 349.80 561.67 349.80 561.10Z" fill="#174f8c"/>
<line x1="355.80" y1="561.40" x2="355.80" y2="629.10" stroke="#0a0a0a" stroke-width="1.2"/>
<circle cx="355.80" cy="608.23" r="0.9" fill="#fff"/>
<line x1="355.80" y1="632.30" x2="355.80" y2="635.20" stroke="#111" stroke-width="0.9"/>
<line x1="297.30" y1="548.50" x2="355.90" y2="548.50" stroke="#111" stroke-width="1.0"/>
<line x1="297.30" y1="552.50" x2="336.30" y2="552.50" stroke="#111" stroke-width="1.0"/>
<line x1="297.30" y1="556.50" x2="316.90" y2="556.50" stroke="#111" stroke-width="1.0"/>
<text x="307.30" y="563.40" font-size="7.4" text-anchor="middle" fill="#111" font-weight="bold">**</text>
<text x="327.60" y="559.20" font-size="7.4" text-anchor="middle" fill="#111" font-weight="bold">**</text>
<text x="347.00" y="555.40" font-size="7.4" text-anchor="middle" fill="#111" font-weight="bold">**</text>
<text x="297.90" y="645.20" font-size="7.0" text-anchor="end" fill="#2a2a2a" textLength="7.60" lengthAdjust="spacingAndGlyphs" transform="rotate(-45 297.90 645.20)" stroke="#2a2a2a" stroke-width="0.18">All</text>
<text x="317.40" y="645.20" font-size="7.0" text-anchor="end" fill="#2a2a2a" textLength="25.30" lengthAdjust="spacingAndGlyphs" transform="rotate(-45 317.40 645.20)" stroke="#2a2a2a" stroke-width="0.18">OR21-up</text>
<text x="336.90" y="645.20" font-size="7.0" text-anchor="end" fill="#2a2a2a" textLength="20.80" lengthAdjust="spacingAndGlyphs" transform="rotate(-45 336.90 645.20)" stroke="#2a2a2a" stroke-width="0.18">EPZ-up</text>
<text x="356.40" y="645.20" font-size="7.0" text-anchor="end" fill="#2a2a2a" textLength="21.60" lengthAdjust="spacingAndGlyphs" transform="rotate(-45 356.40 645.20)" stroke="#2a2a2a" stroke-width="0.18">Com-up</text>
<line x1="404.50" y1="550.70" x2="404.50" y2="633.00" stroke="#111" stroke-width="1.0"/>
<line x1="404.00" y1="632.50" x2="496.20" y2="632.50" stroke="#111" stroke-width="1.0"/>
<line x1="401.80" y1="622.70" x2="404.60" y2="622.70" stroke="#111" stroke-width="0.9"/>
<text x="397.80" y="625.10" font-size="6.6" text-anchor="end" fill="#2a2a2a" stroke="#2a2a2a" stroke-width="0.18">−4</text>
<line x1="401.80" y1="610.40" x2="404.60" y2="610.40" stroke="#111" stroke-width="0.9"/>
<text x="397.80" y="612.80" font-size="6.6" text-anchor="end" fill="#2a2a2a" stroke="#2a2a2a" stroke-width="0.18">−2</text>
<line x1="401.80" y1="598.10" x2="404.60" y2="598.10" stroke="#111" stroke-width="0.9"/>
<text x="397.80" y="600.50" font-size="6.6" text-anchor="end" fill="#2a2a2a" stroke="#2a2a2a" stroke-width="0.18">0</text>
<line x1="401.80" y1="585.80" x2="404.60" y2="585.80" stroke="#111" stroke-width="0.9"/>
<text x="397.80" y="588.20" font-size="6.6" text-anchor="end" fill="#2a2a2a" stroke="#2a2a2a" stroke-width="0.18">2</text>
<line x1="401.80" y1="573.50" x2="404.60" y2="573.50" stroke="#111" stroke-width="0.9"/>
<text x="397.80" y="575.90" font-size="6.6" text-anchor="end" fill="#2a2a2a" stroke="#2a2a2a" stroke-width="0.18">4</text>
<line x1="401.80" y1="561.20" x2="404.60" y2="561.20" stroke="#111" stroke-width="0.9"/>
<text x="397.80" y="563.60" font-size="6.6" text-anchor="end" fill="#2a2a2a" stroke="#2a2a2a" stroke-width="0.18">6</text>
<text x="384.50" y="591.80" font-size="7.0" text-anchor="middle" fill="#3a3a3a" textLength="42.50" lengthAdjust="spacingAndGlyphs" transform="rotate(-90 384.50 591.80)" stroke="#3a3a3a" stroke-width="0.18">H3K27me3 level</text>
<path d="M418.50 551.98 L418.90 551.98 C419.00 553.00 419.27 556.08 419.50 558.12 C419.73 560.17 419.97 562.22 420.30 564.27 C420.63 566.33 421.08 568.38 421.50 570.43 C421.92 572.48 422.33 574.53 422.80 576.58 C423.27 578.62 423.82 580.68 424.30 582.73 C424.78 584.77 425.30 586.83 425.70 588.88 C426.10 590.92 426.50 593.18 426.70 595.02 C426.90 596.87 426.95 598.41 426.90 599.95 C426.85 601.48 426.77 602.51 426.40 604.25 C426.03 605.99 425.35 608.35 424.70 610.40 C424.05 612.45 423.23 614.50 422.50 616.55 C421.77 618.60 420.90 620.65 420.30 622.70 C419.70 624.75 419.13 627.83 418.90 628.85 L418.50 628.85 C418.27 627.83 417.70 624.75 417.10 622.70 C416.50 620.65 415.63 618.60 414.90 616.55 C414.17 614.50 413.35 612.45 412.70 610.40 C412.05 608.35 411.37 605.99 411.00 604.25 C410.63 602.51 410.55 601.48 410.50 599.95 C410.45 598.41 410.50 596.87 410.70 595.02 C410.90 593.18 411.30 590.92 411.70 588.88 C412.10 586.83 412.62 584.77 413.10 582.73 C413.58 580.68 414.13 578.62 414.60 576.58 C415.07 574.53 415.48 572.48 415.90 570.43 C416.32 568.38 416.77 566.33 417.10 564.27 C417.43 562.22 417.67 560.17 417.90 558.12 C418.13 556.08 418.40 553.00 418.50 551.98Z" fill="#4b5670"/>
<line x1="418.70" y1="553.48" x2="418.70" y2="627.35" stroke="#0a0a0a" stroke-width="0.8"/>
<line x1="418.70" y1="592.33" x2="418.70" y2="606.33" stroke="#0a0a0a" stroke-width="1.4"/>
<circle cx="418.70" cy="599.33" r="0.9" fill="#fff"/>
<line x1="418.70" y1="632.30" x2="418.70" y2="635.20" stroke="#111" stroke-width="0.9"/>
<path d="M439.60 567.35 L441.40 567.35 C441.55 567.76 441.88 568.27 442.30 569.81 C442.72 571.35 443.40 574.42 443.90 576.58 C444.40 578.73 444.83 580.68 445.30 582.73 C445.77 584.77 446.23 586.83 446.70 588.88 C447.17 590.92 447.72 592.97 448.10 595.02 C448.48 597.08 448.87 599.43 449.00 601.18 C449.13 602.92 449.15 603.94 448.90 605.48 C448.65 607.02 448.17 608.55 447.50 610.40 C446.83 612.25 445.73 614.71 444.90 616.55 C444.07 618.40 443.10 620.24 442.50 621.47 C441.90 622.70 441.50 623.52 441.30 623.93 L439.70 623.93 C439.50 623.52 439.10 622.70 438.50 621.47 C437.90 620.24 436.93 618.40 436.10 616.55 C435.27 614.71 434.17 612.25 433.50 610.40 C432.83 608.55 432.35 607.02 432.10 605.48 C431.85 603.94 431.87 602.92 432.00 601.18 C432.13 599.43 432.52 597.08 432.90 595.02 C433.28 592.97 433.83 590.92 434.30 588.88 C434.77 586.83 435.23 584.77 435.70 582.73 C436.17 580.68 436.60 578.73 437.10 576.58 C437.60 574.42 438.28 571.35 438.70 569.81 C439.12 568.27 439.45 567.76 439.60 567.35Z" fill="#c80f2e"/>
<line x1="440.50" y1="568.85" x2="440.50" y2="622.43" stroke="#0a0a0a" stroke-width="0.8"/>
<line x1="440.50" y1="593.56" x2="440.50" y2="607.56" stroke="#0a0a0a" stroke-width="1.4"/>
<circle cx="440.50" cy="600.56" r="0.9" fill="#fff"/>
<line x1="440.50" y1="632.30" x2="440.50" y2="635.20" stroke="#111" stroke-width="0.9"/>
<path d="M461.60 567.35 L463.40 567.35 C463.52 567.76 463.75 568.27 464.10 569.81 C464.45 571.35 465.03 574.42 465.50 576.58 C465.97 578.73 466.40 580.68 466.90 582.73 C467.40 584.77 467.97 586.83 468.50 588.88 C469.03 590.92 469.70 593.08 470.10 595.02 C470.50 596.97 470.83 598.82 470.90 600.56 C470.97 602.30 470.80 603.84 470.50 605.48 C470.20 607.12 469.77 608.55 469.10 610.40 C468.43 612.25 467.27 614.91 466.50 616.55 C465.73 618.19 465.03 619.32 464.50 620.24 C463.97 621.16 463.50 621.78 463.30 622.09 L461.70 622.09 C461.50 621.78 461.03 621.16 460.50 620.24 C459.97 619.32 459.27 618.19 458.50 616.55 C457.73 614.91 456.57 612.25 455.90 610.40 C455.23 608.55 454.80 607.12 454.50 605.48 C454.20 603.84 454.03 602.30 454.10 600.56 C454.17 598.82 454.50 596.97 454.90 595.02 C455.30 593.08 455.97 590.92 456.50 588.88 C457.03 586.83 457.60 584.77 458.10 582.73 C458.60 580.68 459.03 578.73 459.50 576.58 C459.97 574.42 460.55 571.35 460.90 569.81 C461.25 568.27 461.48 567.76 461.60 567.35Z" fill="#3aa83a"/>
<line x1="462.50" y1="568.85" x2="462.50" y2="620.59" stroke="#0a0a0a" stroke-width="0.8"/>
<line x1="462.50" y1="591.10" x2="462.50" y2="605.10" stroke="#0a0a0a" stroke-width="1.4"/>
<circle cx="462.50" cy="598.10" r="0.9" fill="#fff"/>
<line x1="462.50" y1="632.30" x2="462.50" y2="635.20" stroke="#111" stroke-width="0.9"/>
<path d="M483.70 567.35 L485.50 567.35 C485.72 567.76 486.18 568.79 486.80 569.81 C487.42 570.84 488.40 572.07 489.20 573.50 C490.00 574.93 491.05 576.88 491.60 578.42 C492.15 579.96 492.23 580.47 492.50 582.73 C492.77 584.98 493.05 589.39 493.20 591.95 C493.35 594.51 493.45 596.05 493.40 598.10 C493.35 600.15 493.27 602.20 492.90 604.25 C492.53 606.30 491.78 608.66 491.20 610.40 C490.62 612.14 490.13 613.27 489.40 614.71 C488.67 616.14 487.47 617.88 486.80 619.01 C486.13 620.14 485.63 621.06 485.40 621.47 L483.80 621.47 C483.57 621.06 483.07 620.14 482.40 619.01 C481.73 617.88 480.53 616.14 479.80 614.71 C479.07 613.27 478.58 612.14 478.00 610.40 C477.42 608.66 476.67 606.30 476.30 604.25 C475.93 602.20 475.85 600.15 475.80 598.10 C475.75 596.05 475.85 594.51 476.00 591.95 C476.15 589.39 476.43 584.98 476.70 582.73 C476.97 580.47 477.05 579.96 477.60 578.42 C478.15 576.88 479.20 574.93 480.00 573.50 C480.80 572.07 481.78 570.84 482.40 569.81 C483.02 568.79 483.48 567.76 483.70 567.35Z" fill="#174f8c"/>
<line x1="484.60" y1="568.85" x2="484.60" y2="619.97" stroke="#0a0a0a" stroke-width="0.8"/>
<line x1="484.60" y1="587.41" x2="484.60" y2="601.41" stroke="#0a0a0a" stroke-width="1.4"/>
<circle cx="484.60" cy="594.41" r="0.9" fill="#fff"/>
<line x1="484.60" y1="632.30" x2="484.60" y2="635.20" stroke="#111" stroke-width="0.9"/>
<line x1="417.90" y1="539.50" x2="483.40" y2="539.50" stroke="#111" stroke-width="1.0"/>
<line x1="417.90" y1="543.50" x2="461.80" y2="543.50" stroke="#111" stroke-width="1.0"/>
<line x1="417.90" y1="548.50" x2="439.50" y2="548.50" stroke="#111" stroke-width="1.0"/>
<text x="430.40" y="555.40" font-size="6.4" text-anchor="middle" fill="#333" stroke="#333" stroke-width="0.18">n.s.</text>
<text x="451.60" y="550.50" font-size="7.4" text-anchor="middle" fill="#111" font-weight="bold">**</text>
<text x="474.90" y="547.50" font-size="7.4" text-anchor="middle" fill="#111" font-weight="bold">**</text>
<text x="419.30" y="639.40" font-size="7.0" text-anchor="end" fill="#2a2a2a" textLength="7.60" lengthAdjust="spacingAndGlyphs" transform="rotate(-45 419.30 639.40)" stroke="#2a2a2a" stroke-width="0.18">All</text>
<text x="441.10" y="639.40" font-size="7.0" text-anchor="end" fill="#2a2a2a" textLength="25.30" lengthAdjust="spacingAndGlyphs" transform="rotate(-45 441.10 639.40)" stroke="#2a2a2a" stroke-width="0.18">OR21-up</text>
<text x="463.10" y="639.40" font-size="7.0" text-anchor="end" fill="#2a2a2a" textLength="20.80" lengthAdjust="spacingAndGlyphs" transform="rotate(-45 463.10 639.40)" stroke="#2a2a2a" stroke-width="0.18">EPZ-up</text>
<text x="485.20" y="639.40" font-size="7.0" text-anchor="end" fill="#2a2a2a" textLength="21.60" lengthAdjust="spacingAndGlyphs" transform="rotate(-45 485.20 639.40)" stroke="#2a2a2a" stroke-width="0.18">Com-up</text>
</svg></body></html>
